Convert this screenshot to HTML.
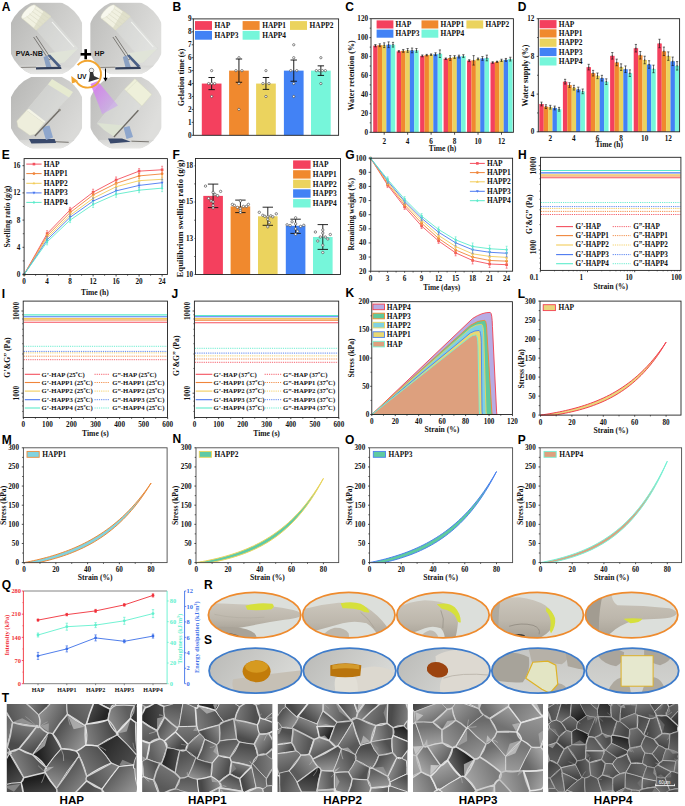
<!DOCTYPE html>
<html><head><meta charset="utf-8"><title>Figure</title>
<style>html,body{margin:0;padding:0;background:#fff;}body{width:685px;height:806px;overflow:hidden;}svg{display:block;}</style>
</head><body>
<svg width="685" height="806" viewBox="0 0 685 806" font-family="'Liberation Serif', serif">
<rect width="685" height="806" fill="#fff"/>
<text x="1.8" y="11.2" font-family="'Liberation Sans', sans-serif" font-size="12" font-weight="bold" text-anchor="start" fill="#000">A</text>
<defs><linearGradient id="bgA0" x1="0" y1="0" x2="1" y2="0.6"><stop offset="0" stop-color="#b6b6b4"/><stop offset="0.55" stop-color="#cbcbc9"/><stop offset="1" stop-color="#dadad8"/></linearGradient><linearGradient id="bgA1" x1="0" y1="0" x2="1" y2="0.4"><stop offset="0" stop-color="#bcbcba"/><stop offset="0.55" stop-color="#cfcfcd"/><stop offset="1" stop-color="#dededc"/></linearGradient><linearGradient id="floorA" x1="0" y1="0" x2="0" y2="1"><stop offset="0" stop-color="#d6d6d4"/><stop offset="1" stop-color="#e8e8e6"/></linearGradient><linearGradient id="beam" x1="0" y1="0" x2="1" y2="1"><stop offset="0" stop-color="#d870f0"/><stop offset="1" stop-color="#c8b0f0" stop-opacity="0.6"/></linearGradient></defs>
<clipPath id="pc0a"><circle cx="46.55" cy="38.4" r="38.86"/></clipPath>
<clipPath id="pc0b"><rect x="10.9" y="2.6" width="71.3" height="71.6"/></clipPath>
<g clip-path="url(#pc0b)"><g clip-path="url(#pc0a)">
<rect x="10.9" y="2.6" width="71.3" height="71.6" fill="url(#bgA0)"/>
<rect x="10.9" y="65.61" width="71.3" height="8.59" fill="url(#floorA)"/>
<path d="M14 67.5 L36 67.2" stroke="#6d6a64" stroke-width="0.8"/>
<path d="M35.4 28.6 L50 16.4 L78.5 48.5 L64 62.5 Z" fill="#eceeea" fill-opacity="0.3" stroke="#d8dad5" stroke-width="0.6"/>
<path d="M52 22 L74 47" stroke="#f4f5f2" stroke-width="1.1" fill="none"/>
<path d="M46.5 53.5 L77 49.2 L64 62.5 L55 64 Z" fill="#e0e4d8"/>
<path d="M33.6 37 L49 60 L51 58.6 L36 36" stroke="#66635e" stroke-width="0.8" fill="none"/>
<path d="M43.5 57 L47.5 55.5 L51.5 67 L46.5 68.5 Z" fill="#8aa0c2"/>
<path d="M47.5 55.5 L50 54.5 L61 66 L58.5 67.5 Z" fill="#4a5f86"/>
<path d="M36 67.3 L61 66.8 L61.5 69 L36 69.5 Z" fill="#33405c"/>
<path d="M21.8 18.2 L35.2 5.2 L51.2 16.4 L36.2 30.2 Z" fill="#f1f1e1" stroke="#d2d2bc" stroke-width="0.5"/>
<ellipse cx="28.5" cy="11.7" rx="9.3" ry="3.0" fill="#f8f8ee" stroke="#dcdcc6" stroke-width="0.4" transform="rotate(-44 28.5 11.7)"/>
<path d="M26.65 16.45 L39.95 26.75" stroke="#dcdcc8" stroke-width="0.7"/>
<path d="M29.33 13.85 L42.95 23.99" stroke="#dcdcc8" stroke-width="0.7"/>
<path d="M32.01 11.25 L45.95 21.23" stroke="#dcdcc8" stroke-width="0.7"/>
<path d="M34.69 8.65 L48.95 18.47" stroke="#dcdcc8" stroke-width="0.7"/>
<path d="M44 10.5 L51.2 16.4 L36.2 30.2 L33.5 28 Z" fill="#d8d8c2" opacity="0.7"/>
</g></g>
<clipPath id="pc1a"><circle cx="125.85" cy="38.4" r="38.86"/></clipPath>
<clipPath id="pc1b"><rect x="90.2" y="2.6" width="71.3" height="71.6"/></clipPath>
<g clip-path="url(#pc1b)"><g clip-path="url(#pc1a)">
<rect x="90.2" y="2.6" width="71.3" height="71.6" fill="url(#bgA1)"/>
<rect x="90.2" y="65.61" width="71.3" height="8.59" fill="url(#floorA)"/>
<path d="M93.3 67.5 L115.3 67.2" stroke="#6d6a64" stroke-width="0.8"/>
<path d="M114.7 28.6 L129.3 16.4 L157.8 48.5 L143.3 62.5 Z" fill="#eceeea" fill-opacity="0.3" stroke="#d8dad5" stroke-width="0.6"/>
<path d="M131.3 22 L153.3 47" stroke="#f4f5f2" stroke-width="1.1" fill="none"/>
<path d="M125.8 53.5 L156.3 49.2 L143.3 62.5 L134.3 64 Z" fill="#e0e4d8"/>
<path d="M112.9 37 L128.3 60 L130.3 58.6 L115.3 36" stroke="#66635e" stroke-width="0.8" fill="none"/>
<path d="M122.8 57 L126.8 55.5 L130.8 67 L125.8 68.5 Z" fill="#8aa0c2"/>
<path d="M126.8 55.5 L129.3 54.5 L140.3 66 L137.8 67.5 Z" fill="#4a5f86"/>
<path d="M115.3 67.3 L140.3 66.8 L140.8 69 L115.3 69.5 Z" fill="#33405c"/>
<path d="M101.1 18.2 L114.5 5.2 L130.5 16.4 L115.5 30.2 Z" fill="#f1f1e1" stroke="#d2d2bc" stroke-width="0.5"/>
<ellipse cx="107.8" cy="11.7" rx="9.3" ry="3.0" fill="#f8f8ee" stroke="#dcdcc6" stroke-width="0.4" transform="rotate(-44 107.8 11.7)"/>
<path d="M105.95 16.45 L119.25 26.75" stroke="#dcdcc8" stroke-width="0.7"/>
<path d="M108.63 13.85 L122.25 23.99" stroke="#dcdcc8" stroke-width="0.7"/>
<path d="M111.31 11.25 L125.25 21.23" stroke="#dcdcc8" stroke-width="0.7"/>
<path d="M113.99 8.65 L128.25 18.47" stroke="#dcdcc8" stroke-width="0.7"/>
<path d="M123.3 10.5 L130.5 16.4 L115.5 30.2 L112.8 28 Z" fill="#d8d8c2" opacity="0.7"/>
</g></g>
<clipPath id="pc2a"><circle cx="46.55" cy="112.7" r="38.86"/></clipPath>
<clipPath id="pc2b"><rect x="10.9" y="76.9" width="71.3" height="71.6"/></clipPath>
<g clip-path="url(#pc2b)"><g clip-path="url(#pc2a)">
<rect x="10.9" y="76.9" width="71.3" height="71.6" fill="url(#bgA0)"/>
<rect x="10.9" y="139.91" width="71.3" height="8.59" fill="url(#floorA)"/>
<path d="M54.7 141.7 L68.7 142.3" stroke="#6d6a64" stroke-width="0.9"/>
<path d="M26.7 110.2 L50 82.2 L71 95 L44.2 123 Z" fill="#eceeea" fill-opacity="0.3" stroke="#d6d8d3" stroke-width="0.6"/>
<path d="M48 84.5 L52 79 L73 92 L69 97.5 Z" fill="#e6ead0"/>
<path d="M29 139 L54.7 139 L56 143 L31.4 143.5 Z" fill="#3a4a6c"/>
<path d="M42 127 L49.5 125.5 L53 137.5 L46 140 Z" fill="#8ea6cc"/>
<path d="M16.8 121 L26.7 110.2 L44.2 123 L35.5 134 L30 135.5 L18 127 Z" fill="#eeeedc" stroke="#d6d6c2" stroke-width="0.5"/>
<path d="M26.7 110.2 L29 108.8 L45.5 121.5 L44.2 123 Z" fill="#f4f4e6"/>
<path d="M34.9 135.9 L59.4 110.2" stroke="#6f6c66" stroke-width="1.4"/>
<circle cx="59.6" cy="110" r="1.2" fill="#8a8780"/>
</g></g>
<clipPath id="pc3a"><circle cx="125.95" cy="112.7" r="38.86"/></clipPath>
<clipPath id="pc3b"><rect x="90.3" y="76.9" width="71.3" height="71.6"/></clipPath>
<g clip-path="url(#pc3b)"><g clip-path="url(#pc3a)">
<rect x="90.3" y="76.9" width="71.3" height="71.6" fill="url(#bgA1)"/>
<rect x="90.3" y="139.91" width="71.3" height="8.59" fill="url(#floorA)"/>
<path d="M131.4 141.2 L148.9 141.8" stroke="#6d6a64" stroke-width="0.9"/>
<path d="M124.4 89.2 L141.9 106.1 L113.9 136.5 L96.9 123.6 Z" fill="#eceeea" fill-opacity="0.3" stroke="#d6d8d3" stroke-width="0.6"/>
<path d="M97.5 123 L124.4 125.4 L114 136.5 L104 130 Z" fill="#dde3d3"/>
<path d="M108 138.5 L122 138.5 L131 141.8 L110.4 143.5 Z" fill="#3a4a6c"/>
<path d="M123.5 127.5 L129.5 126 L133 137 L126.5 139 Z" fill="#8ea6cc"/>
<path d="M113.9 137 L138.4 110.2" stroke="#6f6c66" stroke-width="1.3"/>
<path d="M124.4 89.2 L134.9 78.7 L151.8 94.4 L141.9 106.1 Z" fill="#eef0da" stroke="#d6d8c0" stroke-width="0.5"/>
<path d="M126.5 91 L137 80.8" stroke="#d8dac4" stroke-width="0.5" fill="none"/>
</g></g>
<path d="M90.5 83.9 L97.5 81 L118 105.5 L102.2 114.3 Z" fill="url(#beam)" opacity="0.9"/>
<text x="15.8" y="56.2" font-family="'Liberation Sans', sans-serif" font-size="7.2" font-weight="bold" text-anchor="start" fill="#111">PVA-NB</text>
<rect x="80.6" y="53" width="10.5" height="2.6" fill="#000"/>
<rect x="84.4" y="49.2" width="2.6" height="10.1" fill="#000"/>
<text x="94.6" y="56.3" font-family="'Liberation Sans', sans-serif" font-size="7" font-weight="bold" text-anchor="start" fill="#111">HP</text>
<path d="M77.64 65.23 A13.4 13.4 0 1 1 76.49 81.69" fill="none" stroke="#F2A530" stroke-width="1.9"/>
<path d="M71.3 76.0 L71.9 83.6 L78.2 81.2 Z" fill="#F2A530"/>
<text x="77.2" y="79.4" font-family="'Liberation Sans', sans-serif" font-size="6.8" font-weight="bold" text-anchor="start" fill="#111">UV</text>
<circle cx="91.5" cy="70.5" r="2.3" fill="#eee" stroke="#555" stroke-width="0.6"/>
<path d="M90 72 L93 72 L94 76 L99.5 78.5 L88.5 82 L89.5 77 Z" fill="#333"/>
<line x1="105.5" y1="68.5" x2="105.5" y2="79.5" stroke="#000" stroke-width="1"/>
<path d="M103.3 77.8 L107.7 77.8 L105.5 81.5 Z" fill="#000"/>
<text x="172.4" y="11.2" font-family="'Liberation Sans', sans-serif" font-size="12" font-weight="bold" text-anchor="start" fill="#000">B</text>
<rect x="201.8" y="83.57" width="19.7" height="51.73" fill="#F4405E"/>
<rect x="229.1" y="70.63" width="19.7" height="64.67" fill="#F0892E"/>
<rect x="256.1" y="83.57" width="19.7" height="51.73" fill="#EBD35E"/>
<rect x="283.9" y="70.63" width="19.7" height="64.67" fill="#4282F5"/>
<rect x="311" y="70.63" width="19.7" height="64.67" fill="#76F6DA"/>
<line x1="211.65" y1="77.49" x2="211.65" y2="89.65" stroke="#111" stroke-width="0.95"/>
<line x1="208.45" y1="77.49" x2="214.85" y2="77.49" stroke="#111" stroke-width="0.95"/>
<line x1="208.45" y1="89.65" x2="214.85" y2="89.65" stroke="#111" stroke-width="0.95"/>
<circle cx="211.65" cy="70.63" r="1.15" fill="#fff" stroke="#3a3a3a" stroke-width="0.6"/>
<circle cx="208.65" cy="83.57" r="1.15" fill="#fff" stroke="#3a3a3a" stroke-width="0.6"/>
<circle cx="214.65" cy="83.57" r="1.15" fill="#fff" stroke="#3a3a3a" stroke-width="0.6"/>
<circle cx="211.65" cy="96.5" r="1.15" fill="#fff" stroke="#3a3a3a" stroke-width="0.6"/>
<circle cx="211.65" cy="83.57" r="1.15" fill="#fff" stroke="#3a3a3a" stroke-width="0.6"/>
<line x1="238.95" y1="58.99" x2="238.95" y2="82.27" stroke="#111" stroke-width="0.95"/>
<line x1="235.75" y1="58.99" x2="242.15" y2="58.99" stroke="#111" stroke-width="0.95"/>
<line x1="235.75" y1="82.27" x2="242.15" y2="82.27" stroke="#111" stroke-width="0.95"/>
<circle cx="235.95" cy="70.63" r="1.15" fill="#fff" stroke="#3a3a3a" stroke-width="0.6"/>
<circle cx="241.95" cy="70.63" r="1.15" fill="#fff" stroke="#3a3a3a" stroke-width="0.6"/>
<circle cx="238.95" cy="57.7" r="1.15" fill="#fff" stroke="#3a3a3a" stroke-width="0.6"/>
<circle cx="238.95" cy="83.57" r="1.15" fill="#fff" stroke="#3a3a3a" stroke-width="0.6"/>
<circle cx="238.95" cy="109.43" r="1.15" fill="#fff" stroke="#3a3a3a" stroke-width="0.6"/>
<line x1="265.95" y1="77.49" x2="265.95" y2="89.39" stroke="#111" stroke-width="0.95"/>
<line x1="262.75" y1="77.49" x2="269.15" y2="77.49" stroke="#111" stroke-width="0.95"/>
<line x1="262.75" y1="89.39" x2="269.15" y2="89.39" stroke="#111" stroke-width="0.95"/>
<circle cx="265.95" cy="70.63" r="1.15" fill="#fff" stroke="#3a3a3a" stroke-width="0.6"/>
<circle cx="262.95" cy="83.57" r="1.15" fill="#fff" stroke="#3a3a3a" stroke-width="0.6"/>
<circle cx="268.95" cy="83.57" r="1.15" fill="#fff" stroke="#3a3a3a" stroke-width="0.6"/>
<circle cx="265.95" cy="96.5" r="1.15" fill="#fff" stroke="#3a3a3a" stroke-width="0.6"/>
<line x1="293.75" y1="60.03" x2="293.75" y2="81.24" stroke="#111" stroke-width="0.95"/>
<line x1="290.55" y1="60.03" x2="296.95" y2="60.03" stroke="#111" stroke-width="0.95"/>
<line x1="290.55" y1="81.24" x2="296.95" y2="81.24" stroke="#111" stroke-width="0.95"/>
<circle cx="293.75" cy="44.77" r="1.15" fill="#fff" stroke="#3a3a3a" stroke-width="0.6"/>
<circle cx="293.75" cy="57.7" r="1.15" fill="#fff" stroke="#3a3a3a" stroke-width="0.6"/>
<circle cx="290.75" cy="70.63" r="1.15" fill="#fff" stroke="#3a3a3a" stroke-width="0.6"/>
<circle cx="296.75" cy="70.63" r="1.15" fill="#fff" stroke="#3a3a3a" stroke-width="0.6"/>
<circle cx="293.75" cy="83.57" r="1.15" fill="#fff" stroke="#3a3a3a" stroke-width="0.6"/>
<circle cx="293.75" cy="96.5" r="1.15" fill="#fff" stroke="#3a3a3a" stroke-width="0.6"/>
<line x1="320.85" y1="65.85" x2="320.85" y2="75.42" stroke="#111" stroke-width="0.95"/>
<line x1="317.65" y1="65.85" x2="324.05" y2="65.85" stroke="#111" stroke-width="0.95"/>
<line x1="317.65" y1="75.42" x2="324.05" y2="75.42" stroke="#111" stroke-width="0.95"/>
<circle cx="320.85" cy="57.7" r="1.15" fill="#fff" stroke="#3a3a3a" stroke-width="0.6"/>
<circle cx="316.35" cy="70.63" r="1.15" fill="#fff" stroke="#3a3a3a" stroke-width="0.6"/>
<circle cx="319.35" cy="70.63" r="1.15" fill="#fff" stroke="#3a3a3a" stroke-width="0.6"/>
<circle cx="322.35" cy="70.63" r="1.15" fill="#fff" stroke="#3a3a3a" stroke-width="0.6"/>
<circle cx="325.35" cy="70.63" r="1.15" fill="#fff" stroke="#3a3a3a" stroke-width="0.6"/>
<circle cx="320.85" cy="83.57" r="1.15" fill="#fff" stroke="#3a3a3a" stroke-width="0.6"/>
<rect x="193.3" y="18.9" width="145.3" height="116.4" fill="none" stroke="#222" stroke-width="0.9"/>
<line x1="191.7" y1="135.3" x2="193.3" y2="135.3" stroke="#222" stroke-width="0.8"/>
<text x="191.65" y="137.75" font-family="'Liberation Serif', serif" font-size="7.2" font-weight="bold" text-anchor="end" fill="#111">0</text>
<line x1="191.7" y1="122.37" x2="193.3" y2="122.37" stroke="#222" stroke-width="0.8"/>
<text x="191.65" y="124.81" font-family="'Liberation Serif', serif" font-size="7.2" font-weight="bold" text-anchor="end" fill="#111">1</text>
<line x1="191.7" y1="109.43" x2="193.3" y2="109.43" stroke="#222" stroke-width="0.8"/>
<text x="191.65" y="111.88" font-family="'Liberation Serif', serif" font-size="7.2" font-weight="bold" text-anchor="end" fill="#111">2</text>
<line x1="191.7" y1="96.5" x2="193.3" y2="96.5" stroke="#222" stroke-width="0.8"/>
<text x="191.65" y="98.95" font-family="'Liberation Serif', serif" font-size="7.2" font-weight="bold" text-anchor="end" fill="#111">3</text>
<line x1="191.7" y1="83.57" x2="193.3" y2="83.57" stroke="#222" stroke-width="0.8"/>
<text x="191.65" y="86.01" font-family="'Liberation Serif', serif" font-size="7.2" font-weight="bold" text-anchor="end" fill="#111">4</text>
<line x1="191.7" y1="70.63" x2="193.3" y2="70.63" stroke="#222" stroke-width="0.8"/>
<text x="191.65" y="73.08" font-family="'Liberation Serif', serif" font-size="7.2" font-weight="bold" text-anchor="end" fill="#111">5</text>
<line x1="191.7" y1="57.7" x2="193.3" y2="57.7" stroke="#222" stroke-width="0.8"/>
<text x="191.65" y="60.15" font-family="'Liberation Serif', serif" font-size="7.2" font-weight="bold" text-anchor="end" fill="#111">6</text>
<line x1="191.7" y1="44.77" x2="193.3" y2="44.77" stroke="#222" stroke-width="0.8"/>
<text x="191.65" y="47.21" font-family="'Liberation Serif', serif" font-size="7.2" font-weight="bold" text-anchor="end" fill="#111">7</text>
<line x1="191.7" y1="31.83" x2="193.3" y2="31.83" stroke="#222" stroke-width="0.8"/>
<text x="191.65" y="34.28" font-family="'Liberation Serif', serif" font-size="7.2" font-weight="bold" text-anchor="end" fill="#111">8</text>
<line x1="191.7" y1="18.9" x2="193.3" y2="18.9" stroke="#222" stroke-width="0.8"/>
<text x="191.65" y="21.35" font-family="'Liberation Serif', serif" font-size="7.2" font-weight="bold" text-anchor="end" fill="#111">9</text>
<rect x="195" y="21.1" width="17" height="8.8" fill="#F4405E"/>
<text x="214.6" y="28.1" font-family="'Liberation Serif', serif" font-size="7.4" font-weight="bold" text-anchor="start" fill="#111">HAP</text>
<rect x="242.6" y="21.1" width="17" height="8.8" fill="#F0892E"/>
<text x="262.2" y="28.1" font-family="'Liberation Serif', serif" font-size="7.4" font-weight="bold" text-anchor="start" fill="#111">HAPP1</text>
<rect x="290" y="21.1" width="17" height="8.8" fill="#EBD35E"/>
<text x="309.6" y="28.1" font-family="'Liberation Serif', serif" font-size="7.4" font-weight="bold" text-anchor="start" fill="#111">HAPP2</text>
<rect x="195" y="30.9" width="17" height="8.8" fill="#4282F5"/>
<text x="214.6" y="37.9" font-family="'Liberation Serif', serif" font-size="7.4" font-weight="bold" text-anchor="start" fill="#111">HAPP3</text>
<rect x="242.6" y="30.9" width="17" height="8.8" fill="#76F6DA"/>
<text x="262.2" y="37.9" font-family="'Liberation Serif', serif" font-size="7.4" font-weight="bold" text-anchor="start" fill="#111">HAPP4</text>
<text x="184.3" y="77.4" font-family="'Liberation Serif', serif" font-size="8.1" font-weight="bold" text-anchor="middle" fill="#111" transform="rotate(-90 184.3 77.4)">Gelation time (s)</text>
<text x="345.2" y="11.1" font-family="'Liberation Sans', sans-serif" font-size="12" font-weight="bold" text-anchor="start" fill="#000">C</text>
<rect x="373.2" y="45.68" width="4.45" height="86.62" fill="#F4405E"/>
<rect x="377.6" y="45.21" width="4.45" height="87.09" fill="#F0892E"/>
<rect x="382" y="45.21" width="4.45" height="87.09" fill="#EBD35E"/>
<rect x="386.4" y="44.73" width="4.45" height="87.57" fill="#4282F5"/>
<rect x="390.8" y="44.73" width="4.45" height="87.57" fill="#76F6DA"/>
<rect x="396.66" y="51.36" width="4.45" height="80.94" fill="#F4405E"/>
<rect x="401.06" y="50.89" width="4.45" height="81.41" fill="#F0892E"/>
<rect x="405.46" y="50.41" width="4.45" height="81.89" fill="#EBD35E"/>
<rect x="409.86" y="50.41" width="4.45" height="81.89" fill="#4282F5"/>
<rect x="414.26" y="50.41" width="4.45" height="81.89" fill="#76F6DA"/>
<rect x="420.12" y="55.9" width="4.45" height="76.4" fill="#F4405E"/>
<rect x="424.52" y="55.15" width="4.45" height="77.15" fill="#F0892E"/>
<rect x="428.92" y="54.67" width="4.45" height="77.63" fill="#EBD35E"/>
<rect x="433.32" y="54.2" width="4.45" height="78.1" fill="#4282F5"/>
<rect x="437.72" y="53.73" width="4.45" height="78.57" fill="#76F6DA"/>
<rect x="443.58" y="58.74" width="4.45" height="73.56" fill="#F4405E"/>
<rect x="447.98" y="57.99" width="4.45" height="74.31" fill="#F0892E"/>
<rect x="452.38" y="57.04" width="4.45" height="75.26" fill="#EBD35E"/>
<rect x="456.78" y="56.57" width="4.45" height="75.73" fill="#4282F5"/>
<rect x="461.18" y="56.09" width="4.45" height="76.21" fill="#76F6DA"/>
<rect x="467.04" y="60.64" width="4.45" height="71.66" fill="#F4405E"/>
<rect x="471.44" y="60.35" width="4.45" height="71.95" fill="#F0892E"/>
<rect x="475.84" y="58.93" width="4.45" height="73.37" fill="#EBD35E"/>
<rect x="480.24" y="58.46" width="4.45" height="73.84" fill="#4282F5"/>
<rect x="484.64" y="57.99" width="4.45" height="74.31" fill="#76F6DA"/>
<rect x="490.5" y="62.53" width="4.45" height="69.77" fill="#F4405E"/>
<rect x="494.9" y="61.77" width="4.45" height="70.53" fill="#F0892E"/>
<rect x="499.3" y="60.35" width="4.45" height="71.95" fill="#EBD35E"/>
<rect x="503.7" y="59.88" width="4.45" height="72.42" fill="#4282F5"/>
<rect x="508.1" y="59.12" width="4.45" height="73.18" fill="#76F6DA"/>
<line x1="375.4" y1="44.54" x2="375.4" y2="46.82" stroke="#111" stroke-width="0.6"/>
<line x1="374.3" y1="44.54" x2="376.5" y2="44.54" stroke="#111" stroke-width="0.6"/>
<line x1="374.3" y1="46.82" x2="376.5" y2="46.82" stroke="#111" stroke-width="0.6"/>
<circle cx="375.4" cy="45.68" r="0.7" fill="#333"/>
<line x1="379.8" y1="43.79" x2="379.8" y2="46.63" stroke="#111" stroke-width="0.6"/>
<line x1="378.7" y1="43.79" x2="380.9" y2="43.79" stroke="#111" stroke-width="0.6"/>
<line x1="378.7" y1="46.63" x2="380.9" y2="46.63" stroke="#111" stroke-width="0.6"/>
<circle cx="379.8" cy="45.21" r="0.7" fill="#333"/>
<line x1="384.2" y1="42.84" x2="384.2" y2="47.57" stroke="#111" stroke-width="0.6"/>
<line x1="383.1" y1="42.84" x2="385.3" y2="42.84" stroke="#111" stroke-width="0.6"/>
<line x1="383.1" y1="47.57" x2="385.3" y2="47.57" stroke="#111" stroke-width="0.6"/>
<circle cx="384.2" cy="45.21" r="0.7" fill="#333"/>
<line x1="388.6" y1="41.89" x2="388.6" y2="47.57" stroke="#111" stroke-width="0.6"/>
<line x1="387.5" y1="41.89" x2="389.7" y2="41.89" stroke="#111" stroke-width="0.6"/>
<line x1="387.5" y1="47.57" x2="389.7" y2="47.57" stroke="#111" stroke-width="0.6"/>
<circle cx="388.6" cy="44.73" r="0.7" fill="#333"/>
<line x1="393" y1="42.37" x2="393" y2="47.1" stroke="#111" stroke-width="0.6"/>
<line x1="391.9" y1="42.37" x2="394.1" y2="42.37" stroke="#111" stroke-width="0.6"/>
<line x1="391.9" y1="47.1" x2="394.1" y2="47.1" stroke="#111" stroke-width="0.6"/>
<circle cx="393" cy="44.73" r="0.7" fill="#333"/>
<line x1="398.86" y1="50.6" x2="398.86" y2="52.12" stroke="#111" stroke-width="0.6"/>
<line x1="397.76" y1="50.6" x2="399.96" y2="50.6" stroke="#111" stroke-width="0.6"/>
<line x1="397.76" y1="52.12" x2="399.96" y2="52.12" stroke="#111" stroke-width="0.6"/>
<circle cx="398.86" cy="51.36" r="0.7" fill="#333"/>
<line x1="403.26" y1="49.47" x2="403.26" y2="52.31" stroke="#111" stroke-width="0.6"/>
<line x1="402.16" y1="49.47" x2="404.36" y2="49.47" stroke="#111" stroke-width="0.6"/>
<line x1="402.16" y1="52.31" x2="404.36" y2="52.31" stroke="#111" stroke-width="0.6"/>
<circle cx="403.26" cy="50.89" r="0.7" fill="#333"/>
<line x1="407.66" y1="48.52" x2="407.66" y2="52.31" stroke="#111" stroke-width="0.6"/>
<line x1="406.56" y1="48.52" x2="408.76" y2="48.52" stroke="#111" stroke-width="0.6"/>
<line x1="406.56" y1="52.31" x2="408.76" y2="52.31" stroke="#111" stroke-width="0.6"/>
<circle cx="407.66" cy="50.41" r="0.7" fill="#333"/>
<line x1="412.06" y1="48.05" x2="412.06" y2="52.78" stroke="#111" stroke-width="0.6"/>
<line x1="410.96" y1="48.05" x2="413.16" y2="48.05" stroke="#111" stroke-width="0.6"/>
<line x1="410.96" y1="52.78" x2="413.16" y2="52.78" stroke="#111" stroke-width="0.6"/>
<circle cx="412.06" cy="50.41" r="0.7" fill="#333"/>
<line x1="416.46" y1="48.52" x2="416.46" y2="52.31" stroke="#111" stroke-width="0.6"/>
<line x1="415.36" y1="48.52" x2="417.56" y2="48.52" stroke="#111" stroke-width="0.6"/>
<line x1="415.36" y1="52.31" x2="417.56" y2="52.31" stroke="#111" stroke-width="0.6"/>
<circle cx="416.46" cy="50.41" r="0.7" fill="#333"/>
<line x1="422.32" y1="54.96" x2="422.32" y2="56.85" stroke="#111" stroke-width="0.6"/>
<line x1="421.22" y1="54.96" x2="423.42" y2="54.96" stroke="#111" stroke-width="0.6"/>
<line x1="421.22" y1="56.85" x2="423.42" y2="56.85" stroke="#111" stroke-width="0.6"/>
<circle cx="422.32" cy="55.9" r="0.7" fill="#333"/>
<line x1="426.72" y1="54.39" x2="426.72" y2="55.9" stroke="#111" stroke-width="0.6"/>
<line x1="425.62" y1="54.39" x2="427.82" y2="54.39" stroke="#111" stroke-width="0.6"/>
<line x1="425.62" y1="55.9" x2="427.82" y2="55.9" stroke="#111" stroke-width="0.6"/>
<circle cx="426.72" cy="55.15" r="0.7" fill="#333"/>
<line x1="431.12" y1="53.92" x2="431.12" y2="55.43" stroke="#111" stroke-width="0.6"/>
<line x1="430.02" y1="53.92" x2="432.22" y2="53.92" stroke="#111" stroke-width="0.6"/>
<line x1="430.02" y1="55.43" x2="432.22" y2="55.43" stroke="#111" stroke-width="0.6"/>
<circle cx="431.12" cy="54.67" r="0.7" fill="#333"/>
<line x1="435.52" y1="52.78" x2="435.52" y2="55.62" stroke="#111" stroke-width="0.6"/>
<line x1="434.42" y1="52.78" x2="436.62" y2="52.78" stroke="#111" stroke-width="0.6"/>
<line x1="434.42" y1="55.62" x2="436.62" y2="55.62" stroke="#111" stroke-width="0.6"/>
<circle cx="435.52" cy="54.2" r="0.7" fill="#333"/>
<line x1="439.92" y1="49.94" x2="439.92" y2="57.51" stroke="#111" stroke-width="0.6"/>
<line x1="438.82" y1="49.94" x2="441.02" y2="49.94" stroke="#111" stroke-width="0.6"/>
<line x1="438.82" y1="57.51" x2="441.02" y2="57.51" stroke="#111" stroke-width="0.6"/>
<circle cx="439.92" cy="53.73" r="0.7" fill="#333"/>
<line x1="445.78" y1="57.99" x2="445.78" y2="59.5" stroke="#111" stroke-width="0.6"/>
<line x1="444.68" y1="57.99" x2="446.88" y2="57.99" stroke="#111" stroke-width="0.6"/>
<line x1="444.68" y1="59.5" x2="446.88" y2="59.5" stroke="#111" stroke-width="0.6"/>
<circle cx="445.78" cy="58.74" r="0.7" fill="#333"/>
<line x1="450.18" y1="55.62" x2="450.18" y2="60.35" stroke="#111" stroke-width="0.6"/>
<line x1="449.08" y1="55.62" x2="451.28" y2="55.62" stroke="#111" stroke-width="0.6"/>
<line x1="449.08" y1="60.35" x2="451.28" y2="60.35" stroke="#111" stroke-width="0.6"/>
<circle cx="450.18" cy="57.99" r="0.7" fill="#333"/>
<line x1="454.58" y1="55.62" x2="454.58" y2="58.46" stroke="#111" stroke-width="0.6"/>
<line x1="453.48" y1="55.62" x2="455.68" y2="55.62" stroke="#111" stroke-width="0.6"/>
<line x1="453.48" y1="58.46" x2="455.68" y2="58.46" stroke="#111" stroke-width="0.6"/>
<circle cx="454.58" cy="57.04" r="0.7" fill="#333"/>
<line x1="458.98" y1="55.15" x2="458.98" y2="57.99" stroke="#111" stroke-width="0.6"/>
<line x1="457.88" y1="55.15" x2="460.08" y2="55.15" stroke="#111" stroke-width="0.6"/>
<line x1="457.88" y1="57.99" x2="460.08" y2="57.99" stroke="#111" stroke-width="0.6"/>
<circle cx="458.98" cy="56.57" r="0.7" fill="#333"/>
<line x1="463.38" y1="54.67" x2="463.38" y2="57.51" stroke="#111" stroke-width="0.6"/>
<line x1="462.28" y1="54.67" x2="464.48" y2="54.67" stroke="#111" stroke-width="0.6"/>
<line x1="462.28" y1="57.51" x2="464.48" y2="57.51" stroke="#111" stroke-width="0.6"/>
<circle cx="463.38" cy="56.09" r="0.7" fill="#333"/>
<line x1="469.24" y1="59.69" x2="469.24" y2="61.58" stroke="#111" stroke-width="0.6"/>
<line x1="468.14" y1="59.69" x2="470.34" y2="59.69" stroke="#111" stroke-width="0.6"/>
<line x1="468.14" y1="61.58" x2="470.34" y2="61.58" stroke="#111" stroke-width="0.6"/>
<circle cx="469.24" cy="60.64" r="0.7" fill="#333"/>
<line x1="473.64" y1="55.62" x2="473.64" y2="65.09" stroke="#111" stroke-width="0.6"/>
<line x1="472.54" y1="55.62" x2="474.74" y2="55.62" stroke="#111" stroke-width="0.6"/>
<line x1="472.54" y1="65.09" x2="474.74" y2="65.09" stroke="#111" stroke-width="0.6"/>
<circle cx="473.64" cy="60.35" r="0.7" fill="#333"/>
<line x1="478.04" y1="57.99" x2="478.04" y2="59.88" stroke="#111" stroke-width="0.6"/>
<line x1="476.94" y1="57.99" x2="479.14" y2="57.99" stroke="#111" stroke-width="0.6"/>
<line x1="476.94" y1="59.88" x2="479.14" y2="59.88" stroke="#111" stroke-width="0.6"/>
<circle cx="478.04" cy="58.93" r="0.7" fill="#333"/>
<line x1="482.44" y1="56.57" x2="482.44" y2="60.35" stroke="#111" stroke-width="0.6"/>
<line x1="481.34" y1="56.57" x2="483.54" y2="56.57" stroke="#111" stroke-width="0.6"/>
<line x1="481.34" y1="60.35" x2="483.54" y2="60.35" stroke="#111" stroke-width="0.6"/>
<circle cx="482.44" cy="58.46" r="0.7" fill="#333"/>
<line x1="486.84" y1="55.15" x2="486.84" y2="60.83" stroke="#111" stroke-width="0.6"/>
<line x1="485.74" y1="55.15" x2="487.94" y2="55.15" stroke="#111" stroke-width="0.6"/>
<line x1="485.74" y1="60.83" x2="487.94" y2="60.83" stroke="#111" stroke-width="0.6"/>
<circle cx="486.84" cy="57.99" r="0.7" fill="#333"/>
<line x1="492.7" y1="61.77" x2="492.7" y2="63.29" stroke="#111" stroke-width="0.6"/>
<line x1="491.6" y1="61.77" x2="493.8" y2="61.77" stroke="#111" stroke-width="0.6"/>
<line x1="491.6" y1="63.29" x2="493.8" y2="63.29" stroke="#111" stroke-width="0.6"/>
<circle cx="492.7" cy="62.53" r="0.7" fill="#333"/>
<line x1="497.1" y1="61.21" x2="497.1" y2="62.34" stroke="#111" stroke-width="0.6"/>
<line x1="496" y1="61.21" x2="498.2" y2="61.21" stroke="#111" stroke-width="0.6"/>
<line x1="496" y1="62.34" x2="498.2" y2="62.34" stroke="#111" stroke-width="0.6"/>
<circle cx="497.1" cy="61.77" r="0.7" fill="#333"/>
<line x1="501.5" y1="59.22" x2="501.5" y2="61.49" stroke="#111" stroke-width="0.6"/>
<line x1="500.4" y1="59.22" x2="502.6" y2="59.22" stroke="#111" stroke-width="0.6"/>
<line x1="500.4" y1="61.49" x2="502.6" y2="61.49" stroke="#111" stroke-width="0.6"/>
<circle cx="501.5" cy="60.35" r="0.7" fill="#333"/>
<line x1="505.9" y1="58.46" x2="505.9" y2="61.3" stroke="#111" stroke-width="0.6"/>
<line x1="504.8" y1="58.46" x2="507" y2="58.46" stroke="#111" stroke-width="0.6"/>
<line x1="504.8" y1="61.3" x2="507" y2="61.3" stroke="#111" stroke-width="0.6"/>
<circle cx="505.9" cy="59.88" r="0.7" fill="#333"/>
<line x1="510.3" y1="57.23" x2="510.3" y2="61.02" stroke="#111" stroke-width="0.6"/>
<line x1="509.2" y1="57.23" x2="511.4" y2="57.23" stroke="#111" stroke-width="0.6"/>
<line x1="509.2" y1="61.02" x2="511.4" y2="61.02" stroke="#111" stroke-width="0.6"/>
<circle cx="510.3" cy="59.12" r="0.7" fill="#333"/>
<rect x="371" y="18.7" width="142.4" height="113.6" fill="none" stroke="#222" stroke-width="0.9"/>
<line x1="369.4" y1="132.3" x2="371" y2="132.3" stroke="#222" stroke-width="0.8"/>
<text x="368.15" y="134.75" font-family="'Liberation Serif', serif" font-size="7.2" font-weight="bold" text-anchor="end" fill="#111">0</text>
<line x1="369.4" y1="113.37" x2="371" y2="113.37" stroke="#222" stroke-width="0.8"/>
<text x="368.15" y="115.81" font-family="'Liberation Serif', serif" font-size="7.2" font-weight="bold" text-anchor="end" fill="#111">20</text>
<line x1="369.4" y1="94.43" x2="371" y2="94.43" stroke="#222" stroke-width="0.8"/>
<text x="368.15" y="96.88" font-family="'Liberation Serif', serif" font-size="7.2" font-weight="bold" text-anchor="end" fill="#111">40</text>
<line x1="369.4" y1="75.5" x2="371" y2="75.5" stroke="#222" stroke-width="0.8"/>
<text x="368.15" y="77.95" font-family="'Liberation Serif', serif" font-size="7.2" font-weight="bold" text-anchor="end" fill="#111">60</text>
<line x1="369.4" y1="56.57" x2="371" y2="56.57" stroke="#222" stroke-width="0.8"/>
<text x="368.15" y="59.01" font-family="'Liberation Serif', serif" font-size="7.2" font-weight="bold" text-anchor="end" fill="#111">80</text>
<line x1="369.4" y1="37.63" x2="371" y2="37.63" stroke="#222" stroke-width="0.8"/>
<text x="368.15" y="40.08" font-family="'Liberation Serif', serif" font-size="7.2" font-weight="bold" text-anchor="end" fill="#111">100</text>
<line x1="369.4" y1="18.7" x2="371" y2="18.7" stroke="#222" stroke-width="0.8"/>
<text x="368.15" y="21.15" font-family="'Liberation Serif', serif" font-size="7.2" font-weight="bold" text-anchor="end" fill="#111">120</text>
<line x1="369.7" y1="122.83" x2="371" y2="122.83" stroke="#222" stroke-width="0.7"/>
<line x1="369.7" y1="103.9" x2="371" y2="103.9" stroke="#222" stroke-width="0.7"/>
<line x1="369.7" y1="84.97" x2="371" y2="84.97" stroke="#222" stroke-width="0.7"/>
<line x1="369.7" y1="66.03" x2="371" y2="66.03" stroke="#222" stroke-width="0.7"/>
<line x1="369.7" y1="47.1" x2="371" y2="47.1" stroke="#222" stroke-width="0.7"/>
<line x1="369.7" y1="28.17" x2="371" y2="28.17" stroke="#222" stroke-width="0.7"/>
<line x1="384.2" y1="132.3" x2="384.2" y2="134.7" stroke="#222" stroke-width="0.8"/>
<text x="384.2" y="144.4" font-family="'Liberation Serif', serif" font-size="7.2" font-weight="bold" text-anchor="middle" fill="#111">2</text>
<line x1="407.66" y1="132.3" x2="407.66" y2="134.7" stroke="#222" stroke-width="0.8"/>
<text x="407.66" y="144.4" font-family="'Liberation Serif', serif" font-size="7.2" font-weight="bold" text-anchor="middle" fill="#111">4</text>
<line x1="431.12" y1="132.3" x2="431.12" y2="134.7" stroke="#222" stroke-width="0.8"/>
<text x="431.12" y="144.4" font-family="'Liberation Serif', serif" font-size="7.2" font-weight="bold" text-anchor="middle" fill="#111">6</text>
<line x1="454.58" y1="132.3" x2="454.58" y2="134.7" stroke="#222" stroke-width="0.8"/>
<text x="454.58" y="144.4" font-family="'Liberation Serif', serif" font-size="7.2" font-weight="bold" text-anchor="middle" fill="#111">8</text>
<line x1="478.04" y1="132.3" x2="478.04" y2="134.7" stroke="#222" stroke-width="0.8"/>
<text x="478.04" y="144.4" font-family="'Liberation Serif', serif" font-size="7.2" font-weight="bold" text-anchor="middle" fill="#111">10</text>
<line x1="501.5" y1="132.3" x2="501.5" y2="134.7" stroke="#222" stroke-width="0.8"/>
<text x="501.5" y="144.4" font-family="'Liberation Serif', serif" font-size="7.2" font-weight="bold" text-anchor="middle" fill="#111">12</text>
<rect x="376.6" y="20.4" width="16.8" height="8.1" fill="#F4405E"/>
<text x="395.6" y="27" font-family="'Liberation Serif', serif" font-size="7.4" font-weight="bold" text-anchor="start" fill="#111">HAP</text>
<rect x="421.5" y="20.4" width="16.8" height="8.1" fill="#F0892E"/>
<text x="440.5" y="27" font-family="'Liberation Serif', serif" font-size="7.4" font-weight="bold" text-anchor="start" fill="#111">HAPP1</text>
<rect x="466.4" y="20.4" width="16.8" height="8.1" fill="#EBD35E"/>
<text x="485.4" y="27" font-family="'Liberation Serif', serif" font-size="7.4" font-weight="bold" text-anchor="start" fill="#111">HAPP2</text>
<rect x="376.6" y="29.6" width="16.8" height="8.1" fill="#4282F5"/>
<text x="395.6" y="36.2" font-family="'Liberation Serif', serif" font-size="7.4" font-weight="bold" text-anchor="start" fill="#111">HAPP3</text>
<rect x="421.5" y="29.6" width="16.8" height="8.1" fill="#76F6DA"/>
<text x="440.5" y="36.2" font-family="'Liberation Serif', serif" font-size="7.4" font-weight="bold" text-anchor="start" fill="#111">HAPP4</text>
<text x="442.6" y="150.6" font-family="'Liberation Serif', serif" font-size="7.5" font-weight="bold" text-anchor="middle" fill="#111">Time (h)</text>
<text x="354.1" y="75.4" font-family="'Liberation Serif', serif" font-size="8.1" font-weight="bold" text-anchor="middle" fill="#111" transform="rotate(-90 354.1 75.4)">Water retention (%)</text>
<text x="517.8" y="11.1" font-family="'Liberation Sans', sans-serif" font-size="12" font-weight="bold" text-anchor="start" fill="#000">D</text>
<rect x="539.3" y="104" width="4.45" height="27.8" fill="#F4405E"/>
<rect x="543.7" y="106.64" width="4.45" height="25.16" fill="#F0892E"/>
<rect x="548.1" y="107.2" width="4.45" height="24.6" fill="#EBD35E"/>
<rect x="552.5" y="107.95" width="4.45" height="23.85" fill="#4282F5"/>
<rect x="556.9" y="109.27" width="4.45" height="22.53" fill="#76F6DA"/>
<rect x="562.9" y="81.66" width="4.45" height="50.14" fill="#F4405E"/>
<rect x="567.3" y="85.05" width="4.45" height="46.75" fill="#F0892E"/>
<rect x="571.7" y="87.69" width="4.45" height="44.11" fill="#EBD35E"/>
<rect x="576.1" y="89.48" width="4.45" height="42.32" fill="#4282F5"/>
<rect x="580.5" y="91.37" width="4.45" height="40.43" fill="#76F6DA"/>
<rect x="586.5" y="67.14" width="4.45" height="64.66" fill="#F4405E"/>
<rect x="590.9" y="73.18" width="4.45" height="58.62" fill="#F0892E"/>
<rect x="595.3" y="75.82" width="4.45" height="55.98" fill="#EBD35E"/>
<rect x="599.7" y="78.17" width="4.45" height="53.63" fill="#4282F5"/>
<rect x="604.1" y="81.66" width="4.45" height="50.14" fill="#76F6DA"/>
<rect x="610.1" y="55.83" width="4.45" height="75.97" fill="#F4405E"/>
<rect x="614.5" y="62.43" width="4.45" height="69.37" fill="#F0892E"/>
<rect x="618.9" y="67.14" width="4.45" height="64.66" fill="#EBD35E"/>
<rect x="623.3" y="69.22" width="4.45" height="62.58" fill="#4282F5"/>
<rect x="627.7" y="73.18" width="4.45" height="58.62" fill="#76F6DA"/>
<rect x="633.7" y="48.2" width="4.45" height="83.6" fill="#F4405E"/>
<rect x="638.1" y="55.27" width="4.45" height="76.53" fill="#F0892E"/>
<rect x="642.5" y="59.98" width="4.45" height="71.82" fill="#EBD35E"/>
<rect x="646.9" y="64.51" width="4.45" height="67.29" fill="#4282F5"/>
<rect x="651.3" y="68.94" width="4.45" height="62.86" fill="#76F6DA"/>
<rect x="657.3" y="43.49" width="4.45" height="88.31" fill="#F4405E"/>
<rect x="661.7" y="51.31" width="4.45" height="80.49" fill="#F0892E"/>
<rect x="666.1" y="56.12" width="4.45" height="75.68" fill="#EBD35E"/>
<rect x="670.5" y="61.3" width="4.45" height="70.5" fill="#4282F5"/>
<rect x="674.9" y="65.83" width="4.45" height="65.98" fill="#76F6DA"/>
<line x1="541.5" y1="102.11" x2="541.5" y2="105.88" stroke="#111" stroke-width="0.6"/>
<line x1="540.4" y1="102.11" x2="542.6" y2="102.11" stroke="#111" stroke-width="0.6"/>
<line x1="540.4" y1="105.88" x2="542.6" y2="105.88" stroke="#111" stroke-width="0.6"/>
<circle cx="541.5" cy="104" r="0.7" fill="#333"/>
<line x1="545.9" y1="104.75" x2="545.9" y2="108.52" stroke="#111" stroke-width="0.6"/>
<line x1="544.8" y1="104.75" x2="547" y2="104.75" stroke="#111" stroke-width="0.6"/>
<line x1="544.8" y1="108.52" x2="547" y2="108.52" stroke="#111" stroke-width="0.6"/>
<circle cx="545.9" cy="106.64" r="0.7" fill="#333"/>
<line x1="550.3" y1="105.32" x2="550.3" y2="109.09" stroke="#111" stroke-width="0.6"/>
<line x1="549.2" y1="105.32" x2="551.4" y2="105.32" stroke="#111" stroke-width="0.6"/>
<line x1="549.2" y1="109.09" x2="551.4" y2="109.09" stroke="#111" stroke-width="0.6"/>
<circle cx="550.3" cy="107.2" r="0.7" fill="#333"/>
<line x1="554.7" y1="106.07" x2="554.7" y2="109.84" stroke="#111" stroke-width="0.6"/>
<line x1="553.6" y1="106.07" x2="555.8" y2="106.07" stroke="#111" stroke-width="0.6"/>
<line x1="553.6" y1="109.84" x2="555.8" y2="109.84" stroke="#111" stroke-width="0.6"/>
<circle cx="554.7" cy="107.95" r="0.7" fill="#333"/>
<line x1="559.1" y1="107.39" x2="559.1" y2="111.16" stroke="#111" stroke-width="0.6"/>
<line x1="558" y1="107.39" x2="560.2" y2="107.39" stroke="#111" stroke-width="0.6"/>
<line x1="558" y1="111.16" x2="560.2" y2="111.16" stroke="#111" stroke-width="0.6"/>
<circle cx="559.1" cy="109.27" r="0.7" fill="#333"/>
<line x1="565.1" y1="79.3" x2="565.1" y2="84.02" stroke="#111" stroke-width="0.6"/>
<line x1="564" y1="79.3" x2="566.2" y2="79.3" stroke="#111" stroke-width="0.6"/>
<line x1="564" y1="84.02" x2="566.2" y2="84.02" stroke="#111" stroke-width="0.6"/>
<circle cx="565.1" cy="81.66" r="0.7" fill="#333"/>
<line x1="569.5" y1="82.7" x2="569.5" y2="87.41" stroke="#111" stroke-width="0.6"/>
<line x1="568.4" y1="82.7" x2="570.6" y2="82.7" stroke="#111" stroke-width="0.6"/>
<line x1="568.4" y1="87.41" x2="570.6" y2="87.41" stroke="#111" stroke-width="0.6"/>
<circle cx="569.5" cy="85.05" r="0.7" fill="#333"/>
<line x1="573.9" y1="85.33" x2="573.9" y2="90.05" stroke="#111" stroke-width="0.6"/>
<line x1="572.8" y1="85.33" x2="575" y2="85.33" stroke="#111" stroke-width="0.6"/>
<line x1="572.8" y1="90.05" x2="575" y2="90.05" stroke="#111" stroke-width="0.6"/>
<circle cx="573.9" cy="87.69" r="0.7" fill="#333"/>
<line x1="578.3" y1="87.13" x2="578.3" y2="91.84" stroke="#111" stroke-width="0.6"/>
<line x1="577.2" y1="87.13" x2="579.4" y2="87.13" stroke="#111" stroke-width="0.6"/>
<line x1="577.2" y1="91.84" x2="579.4" y2="91.84" stroke="#111" stroke-width="0.6"/>
<circle cx="578.3" cy="89.48" r="0.7" fill="#333"/>
<line x1="582.7" y1="89.01" x2="582.7" y2="93.72" stroke="#111" stroke-width="0.6"/>
<line x1="581.6" y1="89.01" x2="583.8" y2="89.01" stroke="#111" stroke-width="0.6"/>
<line x1="581.6" y1="93.72" x2="583.8" y2="93.72" stroke="#111" stroke-width="0.6"/>
<circle cx="582.7" cy="91.37" r="0.7" fill="#333"/>
<line x1="588.7" y1="64.32" x2="588.7" y2="69.97" stroke="#111" stroke-width="0.6"/>
<line x1="587.6" y1="64.32" x2="589.8" y2="64.32" stroke="#111" stroke-width="0.6"/>
<line x1="587.6" y1="69.97" x2="589.8" y2="69.97" stroke="#111" stroke-width="0.6"/>
<circle cx="588.7" cy="67.14" r="0.7" fill="#333"/>
<line x1="593.1" y1="70.35" x2="593.1" y2="76" stroke="#111" stroke-width="0.6"/>
<line x1="592" y1="70.35" x2="594.2" y2="70.35" stroke="#111" stroke-width="0.6"/>
<line x1="592" y1="76" x2="594.2" y2="76" stroke="#111" stroke-width="0.6"/>
<circle cx="593.1" cy="73.18" r="0.7" fill="#333"/>
<line x1="597.5" y1="72.99" x2="597.5" y2="78.64" stroke="#111" stroke-width="0.6"/>
<line x1="596.4" y1="72.99" x2="598.6" y2="72.99" stroke="#111" stroke-width="0.6"/>
<line x1="596.4" y1="78.64" x2="598.6" y2="78.64" stroke="#111" stroke-width="0.6"/>
<circle cx="597.5" cy="75.82" r="0.7" fill="#333"/>
<line x1="601.9" y1="75.34" x2="601.9" y2="81" stroke="#111" stroke-width="0.6"/>
<line x1="600.8" y1="75.34" x2="603" y2="75.34" stroke="#111" stroke-width="0.6"/>
<line x1="600.8" y1="81" x2="603" y2="81" stroke="#111" stroke-width="0.6"/>
<circle cx="601.9" cy="78.17" r="0.7" fill="#333"/>
<line x1="606.3" y1="78.83" x2="606.3" y2="84.49" stroke="#111" stroke-width="0.6"/>
<line x1="605.2" y1="78.83" x2="607.4" y2="78.83" stroke="#111" stroke-width="0.6"/>
<line x1="605.2" y1="84.49" x2="607.4" y2="84.49" stroke="#111" stroke-width="0.6"/>
<circle cx="606.3" cy="81.66" r="0.7" fill="#333"/>
<line x1="612.3" y1="52.54" x2="612.3" y2="59.13" stroke="#111" stroke-width="0.6"/>
<line x1="611.2" y1="52.54" x2="613.4" y2="52.54" stroke="#111" stroke-width="0.6"/>
<line x1="611.2" y1="59.13" x2="613.4" y2="59.13" stroke="#111" stroke-width="0.6"/>
<circle cx="612.3" cy="55.83" r="0.7" fill="#333"/>
<line x1="616.7" y1="59.13" x2="616.7" y2="65.73" stroke="#111" stroke-width="0.6"/>
<line x1="615.6" y1="59.13" x2="617.8" y2="59.13" stroke="#111" stroke-width="0.6"/>
<line x1="615.6" y1="65.73" x2="617.8" y2="65.73" stroke="#111" stroke-width="0.6"/>
<circle cx="616.7" cy="62.43" r="0.7" fill="#333"/>
<line x1="621.1" y1="63.85" x2="621.1" y2="70.44" stroke="#111" stroke-width="0.6"/>
<line x1="620" y1="63.85" x2="622.2" y2="63.85" stroke="#111" stroke-width="0.6"/>
<line x1="620" y1="70.44" x2="622.2" y2="70.44" stroke="#111" stroke-width="0.6"/>
<circle cx="621.1" cy="67.14" r="0.7" fill="#333"/>
<line x1="625.5" y1="65.92" x2="625.5" y2="72.52" stroke="#111" stroke-width="0.6"/>
<line x1="624.4" y1="65.92" x2="626.6" y2="65.92" stroke="#111" stroke-width="0.6"/>
<line x1="624.4" y1="72.52" x2="626.6" y2="72.52" stroke="#111" stroke-width="0.6"/>
<circle cx="625.5" cy="69.22" r="0.7" fill="#333"/>
<line x1="629.9" y1="69.88" x2="629.9" y2="76.48" stroke="#111" stroke-width="0.6"/>
<line x1="628.8" y1="69.88" x2="631" y2="69.88" stroke="#111" stroke-width="0.6"/>
<line x1="628.8" y1="76.48" x2="631" y2="76.48" stroke="#111" stroke-width="0.6"/>
<circle cx="629.9" cy="73.18" r="0.7" fill="#333"/>
<line x1="635.9" y1="44.43" x2="635.9" y2="51.97" stroke="#111" stroke-width="0.6"/>
<line x1="634.8" y1="44.43" x2="637" y2="44.43" stroke="#111" stroke-width="0.6"/>
<line x1="634.8" y1="51.97" x2="637" y2="51.97" stroke="#111" stroke-width="0.6"/>
<circle cx="635.9" cy="48.2" r="0.7" fill="#333"/>
<line x1="640.3" y1="51.5" x2="640.3" y2="59.04" stroke="#111" stroke-width="0.6"/>
<line x1="639.2" y1="51.5" x2="641.4" y2="51.5" stroke="#111" stroke-width="0.6"/>
<line x1="639.2" y1="59.04" x2="641.4" y2="59.04" stroke="#111" stroke-width="0.6"/>
<circle cx="640.3" cy="55.27" r="0.7" fill="#333"/>
<line x1="644.7" y1="56.21" x2="644.7" y2="63.75" stroke="#111" stroke-width="0.6"/>
<line x1="643.6" y1="56.21" x2="645.8" y2="56.21" stroke="#111" stroke-width="0.6"/>
<line x1="643.6" y1="63.75" x2="645.8" y2="63.75" stroke="#111" stroke-width="0.6"/>
<circle cx="644.7" cy="59.98" r="0.7" fill="#333"/>
<line x1="649.1" y1="60.74" x2="649.1" y2="68.28" stroke="#111" stroke-width="0.6"/>
<line x1="648" y1="60.74" x2="650.2" y2="60.74" stroke="#111" stroke-width="0.6"/>
<line x1="648" y1="68.28" x2="650.2" y2="68.28" stroke="#111" stroke-width="0.6"/>
<circle cx="649.1" cy="64.51" r="0.7" fill="#333"/>
<line x1="653.5" y1="65.17" x2="653.5" y2="72.71" stroke="#111" stroke-width="0.6"/>
<line x1="652.4" y1="65.17" x2="654.6" y2="65.17" stroke="#111" stroke-width="0.6"/>
<line x1="652.4" y1="72.71" x2="654.6" y2="72.71" stroke="#111" stroke-width="0.6"/>
<circle cx="653.5" cy="68.94" r="0.7" fill="#333"/>
<line x1="659.5" y1="39.25" x2="659.5" y2="47.73" stroke="#111" stroke-width="0.6"/>
<line x1="658.4" y1="39.25" x2="660.6" y2="39.25" stroke="#111" stroke-width="0.6"/>
<line x1="658.4" y1="47.73" x2="660.6" y2="47.73" stroke="#111" stroke-width="0.6"/>
<circle cx="659.5" cy="43.49" r="0.7" fill="#333"/>
<line x1="663.9" y1="47.07" x2="663.9" y2="55.55" stroke="#111" stroke-width="0.6"/>
<line x1="662.8" y1="47.07" x2="665" y2="47.07" stroke="#111" stroke-width="0.6"/>
<line x1="662.8" y1="55.55" x2="665" y2="55.55" stroke="#111" stroke-width="0.6"/>
<circle cx="663.9" cy="51.31" r="0.7" fill="#333"/>
<line x1="668.3" y1="51.88" x2="668.3" y2="60.36" stroke="#111" stroke-width="0.6"/>
<line x1="667.2" y1="51.88" x2="669.4" y2="51.88" stroke="#111" stroke-width="0.6"/>
<line x1="667.2" y1="60.36" x2="669.4" y2="60.36" stroke="#111" stroke-width="0.6"/>
<circle cx="668.3" cy="56.12" r="0.7" fill="#333"/>
<line x1="672.7" y1="57.06" x2="672.7" y2="65.54" stroke="#111" stroke-width="0.6"/>
<line x1="671.6" y1="57.06" x2="673.8" y2="57.06" stroke="#111" stroke-width="0.6"/>
<line x1="671.6" y1="65.54" x2="673.8" y2="65.54" stroke="#111" stroke-width="0.6"/>
<circle cx="672.7" cy="61.3" r="0.7" fill="#333"/>
<line x1="677.1" y1="61.58" x2="677.1" y2="70.07" stroke="#111" stroke-width="0.6"/>
<line x1="676" y1="61.58" x2="678.2" y2="61.58" stroke="#111" stroke-width="0.6"/>
<line x1="676" y1="70.07" x2="678.2" y2="70.07" stroke="#111" stroke-width="0.6"/>
<circle cx="677.1" cy="65.83" r="0.7" fill="#333"/>
<rect x="538.3" y="18.7" width="141.3" height="113.1" fill="none" stroke="#222" stroke-width="0.9"/>
<line x1="536.7" y1="131.8" x2="538.3" y2="131.8" stroke="#222" stroke-width="0.8"/>
<text x="534.45" y="134.25" font-family="'Liberation Serif', serif" font-size="7.2" font-weight="bold" text-anchor="end" fill="#111">0</text>
<line x1="536.7" y1="94.1" x2="538.3" y2="94.1" stroke="#222" stroke-width="0.8"/>
<text x="534.45" y="96.55" font-family="'Liberation Serif', serif" font-size="7.2" font-weight="bold" text-anchor="end" fill="#111">4</text>
<line x1="536.7" y1="56.4" x2="538.3" y2="56.4" stroke="#222" stroke-width="0.8"/>
<text x="534.45" y="58.85" font-family="'Liberation Serif', serif" font-size="7.2" font-weight="bold" text-anchor="end" fill="#111">8</text>
<line x1="536.7" y1="18.7" x2="538.3" y2="18.7" stroke="#222" stroke-width="0.8"/>
<text x="534.45" y="21.15" font-family="'Liberation Serif', serif" font-size="7.2" font-weight="bold" text-anchor="end" fill="#111">12</text>
<line x1="537" y1="112.95" x2="538.3" y2="112.95" stroke="#222" stroke-width="0.7"/>
<line x1="537" y1="75.25" x2="538.3" y2="75.25" stroke="#222" stroke-width="0.7"/>
<line x1="537" y1="37.55" x2="538.3" y2="37.55" stroke="#222" stroke-width="0.7"/>
<text x="550.3" y="140.6" font-family="'Liberation Serif', serif" font-size="7.2" font-weight="bold" text-anchor="middle" fill="#111">2</text>
<text x="573.9" y="140.6" font-family="'Liberation Serif', serif" font-size="7.2" font-weight="bold" text-anchor="middle" fill="#111">4</text>
<text x="597.5" y="140.6" font-family="'Liberation Serif', serif" font-size="7.2" font-weight="bold" text-anchor="middle" fill="#111">6</text>
<text x="621.1" y="140.6" font-family="'Liberation Serif', serif" font-size="7.2" font-weight="bold" text-anchor="middle" fill="#111">8</text>
<text x="644.7" y="140.6" font-family="'Liberation Serif', serif" font-size="7.2" font-weight="bold" text-anchor="middle" fill="#111">10</text>
<text x="668.3" y="140.6" font-family="'Liberation Serif', serif" font-size="7.2" font-weight="bold" text-anchor="middle" fill="#111">12</text>
<rect x="539.6" y="20.1" width="16.9" height="8.2" fill="#F4405E"/>
<text x="558.7" y="26.8" font-family="'Liberation Serif', serif" font-size="7.4" font-weight="bold" text-anchor="start" fill="#111">HAP</text>
<rect x="539.6" y="29.3" width="16.9" height="8.2" fill="#F0892E"/>
<text x="558.7" y="36" font-family="'Liberation Serif', serif" font-size="7.4" font-weight="bold" text-anchor="start" fill="#111">HAPP1</text>
<rect x="539.6" y="38.6" width="16.9" height="8.2" fill="#EBD35E"/>
<text x="558.7" y="45.3" font-family="'Liberation Serif', serif" font-size="7.4" font-weight="bold" text-anchor="start" fill="#111">HAPP2</text>
<rect x="539.6" y="47.9" width="16.9" height="8.2" fill="#4282F5"/>
<text x="558.7" y="54.6" font-family="'Liberation Serif', serif" font-size="7.4" font-weight="bold" text-anchor="start" fill="#111">HAPP3</text>
<rect x="539.6" y="57.3" width="16.9" height="8.2" fill="#76F6DA"/>
<text x="558.7" y="64" font-family="'Liberation Serif', serif" font-size="7.4" font-weight="bold" text-anchor="start" fill="#111">HAPP4</text>
<text x="609.1" y="147.3" font-family="'Liberation Serif', serif" font-size="7.6" font-weight="bold" text-anchor="middle" fill="#111">Time (h)</text>
<text x="527.5" y="75.5" font-family="'Liberation Serif', serif" font-size="8.1" font-weight="bold" text-anchor="middle" fill="#111" transform="rotate(-90 527.5 75.5)">Water supply (%)</text>
<text x="1.8" y="158.7" font-family="'Liberation Sans', sans-serif" font-size="12" font-weight="bold" text-anchor="start" fill="#000">E</text>
<path d="M24.1 274.5 L47.1 233.7 L70.1 209.9 L93.1 192.22 L116.1 179.98 L139.1 171.14 L162.1 169.78" stroke="#F4505E" fill="none" stroke-width="0.9"/>
<rect x="22.8" y="273.2" width="2.6" height="2.6" fill="#F4505E"/>
<line x1="47.1" y1="230.7" x2="47.1" y2="236.7" stroke="#F4505E" stroke-width="0.6"/>
<line x1="46.1" y1="230.7" x2="48.1" y2="230.7" stroke="#F4505E" stroke-width="0.6"/>
<line x1="46.1" y1="236.7" x2="48.1" y2="236.7" stroke="#F4505E" stroke-width="0.6"/>
<rect x="45.8" y="232.4" width="2.6" height="2.6" fill="#F4505E"/>
<line x1="70.1" y1="207.4" x2="70.1" y2="212.4" stroke="#F4505E" stroke-width="0.6"/>
<line x1="69.1" y1="207.4" x2="71.1" y2="207.4" stroke="#F4505E" stroke-width="0.6"/>
<line x1="69.1" y1="212.4" x2="71.1" y2="212.4" stroke="#F4505E" stroke-width="0.6"/>
<rect x="68.8" y="208.6" width="2.6" height="2.6" fill="#F4505E"/>
<line x1="93.1" y1="189.22" x2="93.1" y2="195.22" stroke="#F4505E" stroke-width="0.6"/>
<line x1="92.1" y1="189.22" x2="94.1" y2="189.22" stroke="#F4505E" stroke-width="0.6"/>
<line x1="92.1" y1="195.22" x2="94.1" y2="195.22" stroke="#F4505E" stroke-width="0.6"/>
<rect x="91.8" y="190.92" width="2.6" height="2.6" fill="#F4505E"/>
<line x1="116.1" y1="176.98" x2="116.1" y2="182.98" stroke="#F4505E" stroke-width="0.6"/>
<line x1="115.1" y1="176.98" x2="117.1" y2="176.98" stroke="#F4505E" stroke-width="0.6"/>
<line x1="115.1" y1="182.98" x2="117.1" y2="182.98" stroke="#F4505E" stroke-width="0.6"/>
<rect x="114.8" y="178.68" width="2.6" height="2.6" fill="#F4505E"/>
<line x1="139.1" y1="168.64" x2="139.1" y2="173.64" stroke="#F4505E" stroke-width="0.6"/>
<line x1="138.1" y1="168.64" x2="140.1" y2="168.64" stroke="#F4505E" stroke-width="0.6"/>
<line x1="138.1" y1="173.64" x2="140.1" y2="173.64" stroke="#F4505E" stroke-width="0.6"/>
<rect x="137.8" y="169.84" width="2.6" height="2.6" fill="#F4505E"/>
<line x1="162.1" y1="166.28" x2="162.1" y2="173.28" stroke="#F4505E" stroke-width="0.6"/>
<line x1="161.1" y1="166.28" x2="163.1" y2="166.28" stroke="#F4505E" stroke-width="0.6"/>
<line x1="161.1" y1="173.28" x2="163.1" y2="173.28" stroke="#F4505E" stroke-width="0.6"/>
<rect x="160.8" y="168.48" width="2.6" height="2.6" fill="#F4505E"/>
<path d="M24.1 274.5 L47.1 235.74 L70.1 212.62 L93.1 194.94 L116.1 183.38 L139.1 175.9 L162.1 173.86" stroke="#F0853A" fill="none" stroke-width="0.9"/>
<circle cx="24.1" cy="274.5" r="1.37" fill="#F0853A"/>
<line x1="47.1" y1="232.74" x2="47.1" y2="238.74" stroke="#F0853A" stroke-width="0.6"/>
<line x1="46.1" y1="232.74" x2="48.1" y2="232.74" stroke="#F0853A" stroke-width="0.6"/>
<line x1="46.1" y1="238.74" x2="48.1" y2="238.74" stroke="#F0853A" stroke-width="0.6"/>
<circle cx="47.1" cy="235.74" r="1.37" fill="#F0853A"/>
<line x1="70.1" y1="210.12" x2="70.1" y2="215.12" stroke="#F0853A" stroke-width="0.6"/>
<line x1="69.1" y1="210.12" x2="71.1" y2="210.12" stroke="#F0853A" stroke-width="0.6"/>
<line x1="69.1" y1="215.12" x2="71.1" y2="215.12" stroke="#F0853A" stroke-width="0.6"/>
<circle cx="70.1" cy="212.62" r="1.37" fill="#F0853A"/>
<line x1="93.1" y1="191.94" x2="93.1" y2="197.94" stroke="#F0853A" stroke-width="0.6"/>
<line x1="92.1" y1="191.94" x2="94.1" y2="191.94" stroke="#F0853A" stroke-width="0.6"/>
<line x1="92.1" y1="197.94" x2="94.1" y2="197.94" stroke="#F0853A" stroke-width="0.6"/>
<circle cx="93.1" cy="194.94" r="1.37" fill="#F0853A"/>
<line x1="116.1" y1="180.38" x2="116.1" y2="186.38" stroke="#F0853A" stroke-width="0.6"/>
<line x1="115.1" y1="180.38" x2="117.1" y2="180.38" stroke="#F0853A" stroke-width="0.6"/>
<line x1="115.1" y1="186.38" x2="117.1" y2="186.38" stroke="#F0853A" stroke-width="0.6"/>
<circle cx="116.1" cy="183.38" r="1.37" fill="#F0853A"/>
<line x1="139.1" y1="173.4" x2="139.1" y2="178.4" stroke="#F0853A" stroke-width="0.6"/>
<line x1="138.1" y1="173.4" x2="140.1" y2="173.4" stroke="#F0853A" stroke-width="0.6"/>
<line x1="138.1" y1="178.4" x2="140.1" y2="178.4" stroke="#F0853A" stroke-width="0.6"/>
<circle cx="139.1" cy="175.9" r="1.37" fill="#F0853A"/>
<line x1="162.1" y1="170.36" x2="162.1" y2="177.36" stroke="#F0853A" stroke-width="0.6"/>
<line x1="161.1" y1="170.36" x2="163.1" y2="170.36" stroke="#F0853A" stroke-width="0.6"/>
<line x1="161.1" y1="177.36" x2="163.1" y2="177.36" stroke="#F0853A" stroke-width="0.6"/>
<circle cx="162.1" cy="173.86" r="1.37" fill="#F0853A"/>
<path d="M24.1 274.5 L47.1 237.78 L70.1 215.34 L93.1 198.34 L116.1 186.78 L139.1 180.66 L162.1 179.3" stroke="#F2CC5A" fill="none" stroke-width="0.9"/>
<path d="M24.1 272.94 L25.53 275.54 L22.67 275.54 Z" fill="#F2CC5A"/>
<line x1="47.1" y1="234.78" x2="47.1" y2="240.78" stroke="#F2CC5A" stroke-width="0.6"/>
<line x1="46.1" y1="234.78" x2="48.1" y2="234.78" stroke="#F2CC5A" stroke-width="0.6"/>
<line x1="46.1" y1="240.78" x2="48.1" y2="240.78" stroke="#F2CC5A" stroke-width="0.6"/>
<path d="M47.1 236.22 L48.53 238.82 L45.67 238.82 Z" fill="#F2CC5A"/>
<line x1="70.1" y1="212.84" x2="70.1" y2="217.84" stroke="#F2CC5A" stroke-width="0.6"/>
<line x1="69.1" y1="212.84" x2="71.1" y2="212.84" stroke="#F2CC5A" stroke-width="0.6"/>
<line x1="69.1" y1="217.84" x2="71.1" y2="217.84" stroke="#F2CC5A" stroke-width="0.6"/>
<path d="M70.1 213.78 L71.53 216.38 L68.67 216.38 Z" fill="#F2CC5A"/>
<line x1="93.1" y1="195.34" x2="93.1" y2="201.34" stroke="#F2CC5A" stroke-width="0.6"/>
<line x1="92.1" y1="195.34" x2="94.1" y2="195.34" stroke="#F2CC5A" stroke-width="0.6"/>
<line x1="92.1" y1="201.34" x2="94.1" y2="201.34" stroke="#F2CC5A" stroke-width="0.6"/>
<path d="M93.1 196.78 L94.53 199.38 L91.67 199.38 Z" fill="#F2CC5A"/>
<line x1="116.1" y1="183.78" x2="116.1" y2="189.78" stroke="#F2CC5A" stroke-width="0.6"/>
<line x1="115.1" y1="183.78" x2="117.1" y2="183.78" stroke="#F2CC5A" stroke-width="0.6"/>
<line x1="115.1" y1="189.78" x2="117.1" y2="189.78" stroke="#F2CC5A" stroke-width="0.6"/>
<path d="M116.1 185.22 L117.53 187.82 L114.67 187.82 Z" fill="#F2CC5A"/>
<line x1="139.1" y1="178.16" x2="139.1" y2="183.16" stroke="#F2CC5A" stroke-width="0.6"/>
<line x1="138.1" y1="178.16" x2="140.1" y2="178.16" stroke="#F2CC5A" stroke-width="0.6"/>
<line x1="138.1" y1="183.16" x2="140.1" y2="183.16" stroke="#F2CC5A" stroke-width="0.6"/>
<path d="M139.1 179.1 L140.53 181.7 L137.67 181.7 Z" fill="#F2CC5A"/>
<line x1="162.1" y1="175.8" x2="162.1" y2="182.8" stroke="#F2CC5A" stroke-width="0.6"/>
<line x1="161.1" y1="175.8" x2="163.1" y2="175.8" stroke="#F2CC5A" stroke-width="0.6"/>
<line x1="161.1" y1="182.8" x2="163.1" y2="182.8" stroke="#F2CC5A" stroke-width="0.6"/>
<path d="M162.1 177.74 L163.53 180.34 L160.67 180.34 Z" fill="#F2CC5A"/>
<path d="M24.1 274.5 L47.1 239.82 L70.1 217.38 L93.1 201.06 L116.1 190.86 L139.1 185.42 L162.1 182.7" stroke="#4A78F0" fill="none" stroke-width="0.9"/>
<path d="M24.1 276.06 L25.53 273.46 L22.67 273.46 Z" fill="#4A78F0"/>
<line x1="47.1" y1="236.82" x2="47.1" y2="242.82" stroke="#4A78F0" stroke-width="0.6"/>
<line x1="46.1" y1="236.82" x2="48.1" y2="236.82" stroke="#4A78F0" stroke-width="0.6"/>
<line x1="46.1" y1="242.82" x2="48.1" y2="242.82" stroke="#4A78F0" stroke-width="0.6"/>
<path d="M47.1 241.38 L48.53 238.78 L45.67 238.78 Z" fill="#4A78F0"/>
<line x1="70.1" y1="214.88" x2="70.1" y2="219.88" stroke="#4A78F0" stroke-width="0.6"/>
<line x1="69.1" y1="214.88" x2="71.1" y2="214.88" stroke="#4A78F0" stroke-width="0.6"/>
<line x1="69.1" y1="219.88" x2="71.1" y2="219.88" stroke="#4A78F0" stroke-width="0.6"/>
<path d="M70.1 218.94 L71.53 216.34 L68.67 216.34 Z" fill="#4A78F0"/>
<line x1="93.1" y1="198.06" x2="93.1" y2="204.06" stroke="#4A78F0" stroke-width="0.6"/>
<line x1="92.1" y1="198.06" x2="94.1" y2="198.06" stroke="#4A78F0" stroke-width="0.6"/>
<line x1="92.1" y1="204.06" x2="94.1" y2="204.06" stroke="#4A78F0" stroke-width="0.6"/>
<path d="M93.1 202.62 L94.53 200.02 L91.67 200.02 Z" fill="#4A78F0"/>
<line x1="116.1" y1="187.86" x2="116.1" y2="193.86" stroke="#4A78F0" stroke-width="0.6"/>
<line x1="115.1" y1="187.86" x2="117.1" y2="187.86" stroke="#4A78F0" stroke-width="0.6"/>
<line x1="115.1" y1="193.86" x2="117.1" y2="193.86" stroke="#4A78F0" stroke-width="0.6"/>
<path d="M116.1 192.42 L117.53 189.82 L114.67 189.82 Z" fill="#4A78F0"/>
<line x1="139.1" y1="182.92" x2="139.1" y2="187.92" stroke="#4A78F0" stroke-width="0.6"/>
<line x1="138.1" y1="182.92" x2="140.1" y2="182.92" stroke="#4A78F0" stroke-width="0.6"/>
<line x1="138.1" y1="187.92" x2="140.1" y2="187.92" stroke="#4A78F0" stroke-width="0.6"/>
<path d="M139.1 186.98 L140.53 184.38 L137.67 184.38 Z" fill="#4A78F0"/>
<line x1="162.1" y1="179.2" x2="162.1" y2="186.2" stroke="#4A78F0" stroke-width="0.6"/>
<line x1="161.1" y1="179.2" x2="163.1" y2="179.2" stroke="#4A78F0" stroke-width="0.6"/>
<line x1="161.1" y1="186.2" x2="163.1" y2="186.2" stroke="#4A78F0" stroke-width="0.6"/>
<path d="M162.1 184.26 L163.53 181.66 L160.67 181.66 Z" fill="#4A78F0"/>
<path d="M24.1 274.5 L47.1 241.86 L70.1 220.1 L93.1 204.46 L116.1 194.26 L139.1 190.18 L162.1 188.14" stroke="#5CEBCB" fill="none" stroke-width="0.9"/>
<path d="M24.1 272.88 L25.4 274.5 L24.1 276.12 L22.8 274.5 Z" fill="#5CEBCB"/>
<line x1="47.1" y1="238.86" x2="47.1" y2="244.86" stroke="#5CEBCB" stroke-width="0.6"/>
<line x1="46.1" y1="238.86" x2="48.1" y2="238.86" stroke="#5CEBCB" stroke-width="0.6"/>
<line x1="46.1" y1="244.86" x2="48.1" y2="244.86" stroke="#5CEBCB" stroke-width="0.6"/>
<path d="M47.1 240.24 L48.4 241.86 L47.1 243.49 L45.8 241.86 Z" fill="#5CEBCB"/>
<line x1="70.1" y1="217.6" x2="70.1" y2="222.6" stroke="#5CEBCB" stroke-width="0.6"/>
<line x1="69.1" y1="217.6" x2="71.1" y2="217.6" stroke="#5CEBCB" stroke-width="0.6"/>
<line x1="69.1" y1="222.6" x2="71.1" y2="222.6" stroke="#5CEBCB" stroke-width="0.6"/>
<path d="M70.1 218.47 L71.4 220.1 L70.1 221.72 L68.8 220.1 Z" fill="#5CEBCB"/>
<line x1="93.1" y1="201.46" x2="93.1" y2="207.46" stroke="#5CEBCB" stroke-width="0.6"/>
<line x1="92.1" y1="201.46" x2="94.1" y2="201.46" stroke="#5CEBCB" stroke-width="0.6"/>
<line x1="92.1" y1="207.46" x2="94.1" y2="207.46" stroke="#5CEBCB" stroke-width="0.6"/>
<path d="M93.1 202.83 L94.4 204.46 L93.1 206.08 L91.8 204.46 Z" fill="#5CEBCB"/>
<line x1="116.1" y1="191.26" x2="116.1" y2="197.26" stroke="#5CEBCB" stroke-width="0.6"/>
<line x1="115.1" y1="191.26" x2="117.1" y2="191.26" stroke="#5CEBCB" stroke-width="0.6"/>
<line x1="115.1" y1="197.26" x2="117.1" y2="197.26" stroke="#5CEBCB" stroke-width="0.6"/>
<path d="M116.1 192.63 L117.4 194.26 L116.1 195.88 L114.8 194.26 Z" fill="#5CEBCB"/>
<line x1="139.1" y1="187.68" x2="139.1" y2="192.68" stroke="#5CEBCB" stroke-width="0.6"/>
<line x1="138.1" y1="187.68" x2="140.1" y2="187.68" stroke="#5CEBCB" stroke-width="0.6"/>
<line x1="138.1" y1="192.68" x2="140.1" y2="192.68" stroke="#5CEBCB" stroke-width="0.6"/>
<path d="M139.1 188.56 L140.4 190.18 L139.1 191.81 L137.8 190.18 Z" fill="#5CEBCB"/>
<line x1="162.1" y1="184.64" x2="162.1" y2="191.64" stroke="#5CEBCB" stroke-width="0.6"/>
<line x1="161.1" y1="184.64" x2="163.1" y2="184.64" stroke="#5CEBCB" stroke-width="0.6"/>
<line x1="161.1" y1="191.64" x2="163.1" y2="191.64" stroke="#5CEBCB" stroke-width="0.6"/>
<path d="M162.1 186.51 L163.4 188.14 L162.1 189.76 L160.8 188.14 Z" fill="#5CEBCB"/>
<rect x="24.1" y="158.6" width="143.3" height="115.9" fill="none" stroke="#222" stroke-width="0.9"/>
<line x1="22.5" y1="274.5" x2="24.1" y2="274.5" stroke="#222" stroke-width="0.8"/>
<text x="20.45" y="276.95" font-family="'Liberation Serif', serif" font-size="7.2" font-weight="bold" text-anchor="end" fill="#111">0</text>
<line x1="22.5" y1="247.3" x2="24.1" y2="247.3" stroke="#222" stroke-width="0.8"/>
<text x="20.45" y="249.75" font-family="'Liberation Serif', serif" font-size="7.2" font-weight="bold" text-anchor="end" fill="#111">4</text>
<line x1="22.5" y1="220.1" x2="24.1" y2="220.1" stroke="#222" stroke-width="0.8"/>
<text x="20.45" y="222.55" font-family="'Liberation Serif', serif" font-size="7.2" font-weight="bold" text-anchor="end" fill="#111">8</text>
<line x1="22.5" y1="192.9" x2="24.1" y2="192.9" stroke="#222" stroke-width="0.8"/>
<text x="20.45" y="195.35" font-family="'Liberation Serif', serif" font-size="7.2" font-weight="bold" text-anchor="end" fill="#111">12</text>
<line x1="22.5" y1="165.7" x2="24.1" y2="165.7" stroke="#222" stroke-width="0.8"/>
<text x="20.45" y="168.15" font-family="'Liberation Serif', serif" font-size="7.2" font-weight="bold" text-anchor="end" fill="#111">16</text>
<line x1="22.8" y1="260.9" x2="24.1" y2="260.9" stroke="#222" stroke-width="0.7"/>
<line x1="22.8" y1="233.7" x2="24.1" y2="233.7" stroke="#222" stroke-width="0.7"/>
<line x1="22.8" y1="206.5" x2="24.1" y2="206.5" stroke="#222" stroke-width="0.7"/>
<line x1="22.8" y1="179.3" x2="24.1" y2="179.3" stroke="#222" stroke-width="0.7"/>
<line x1="24.1" y1="274.5" x2="24.1" y2="276.5" stroke="#222" stroke-width="0.8"/>
<text x="24.1" y="284.4" font-family="'Liberation Serif', serif" font-size="7.2" font-weight="bold" text-anchor="middle" fill="#111">0</text>
<line x1="47.1" y1="274.5" x2="47.1" y2="276.5" stroke="#222" stroke-width="0.8"/>
<text x="47.1" y="284.4" font-family="'Liberation Serif', serif" font-size="7.2" font-weight="bold" text-anchor="middle" fill="#111">4</text>
<line x1="70.1" y1="274.5" x2="70.1" y2="276.5" stroke="#222" stroke-width="0.8"/>
<text x="70.1" y="284.4" font-family="'Liberation Serif', serif" font-size="7.2" font-weight="bold" text-anchor="middle" fill="#111">8</text>
<line x1="93.1" y1="274.5" x2="93.1" y2="276.5" stroke="#222" stroke-width="0.8"/>
<text x="93.1" y="284.4" font-family="'Liberation Serif', serif" font-size="7.2" font-weight="bold" text-anchor="middle" fill="#111">12</text>
<line x1="116.1" y1="274.5" x2="116.1" y2="276.5" stroke="#222" stroke-width="0.8"/>
<text x="116.1" y="284.4" font-family="'Liberation Serif', serif" font-size="7.2" font-weight="bold" text-anchor="middle" fill="#111">16</text>
<line x1="139.1" y1="274.5" x2="139.1" y2="276.5" stroke="#222" stroke-width="0.8"/>
<text x="139.1" y="284.4" font-family="'Liberation Serif', serif" font-size="7.2" font-weight="bold" text-anchor="middle" fill="#111">20</text>
<line x1="162.1" y1="274.5" x2="162.1" y2="276.5" stroke="#222" stroke-width="0.8"/>
<text x="162.1" y="284.4" font-family="'Liberation Serif', serif" font-size="7.2" font-weight="bold" text-anchor="middle" fill="#111">24</text>
<line x1="35.6" y1="274.5" x2="35.6" y2="275.8" stroke="#222" stroke-width="0.7"/>
<line x1="58.6" y1="274.5" x2="58.6" y2="275.8" stroke="#222" stroke-width="0.7"/>
<line x1="81.6" y1="274.5" x2="81.6" y2="275.8" stroke="#222" stroke-width="0.7"/>
<line x1="104.6" y1="274.5" x2="104.6" y2="275.8" stroke="#222" stroke-width="0.7"/>
<line x1="127.6" y1="274.5" x2="127.6" y2="275.8" stroke="#222" stroke-width="0.7"/>
<line x1="150.6" y1="274.5" x2="150.6" y2="275.8" stroke="#222" stroke-width="0.7"/>
<line x1="26.3" y1="164.1" x2="41.6" y2="164.1" stroke="#F4505E" stroke-width="1"/>
<rect x="32.65" y="162.8" width="2.6" height="2.6" fill="#F4505E"/>
<text x="43.8" y="166.6" font-family="'Liberation Serif', serif" font-size="7.4" font-weight="bold" text-anchor="start" fill="#111">HAP</text>
<line x1="26.3" y1="173.6" x2="41.6" y2="173.6" stroke="#F0853A" stroke-width="1"/>
<circle cx="33.95" cy="173.6" r="1.37" fill="#F0853A"/>
<text x="43.8" y="176.1" font-family="'Liberation Serif', serif" font-size="7.4" font-weight="bold" text-anchor="start" fill="#111">HAPP1</text>
<line x1="26.3" y1="183.3" x2="41.6" y2="183.3" stroke="#F2CC5A" stroke-width="1"/>
<path d="M33.95 181.74 L35.38 184.34 L32.52 184.34 Z" fill="#F2CC5A"/>
<text x="43.8" y="185.8" font-family="'Liberation Serif', serif" font-size="7.4" font-weight="bold" text-anchor="start" fill="#111">HAPP2</text>
<line x1="26.3" y1="192.9" x2="41.6" y2="192.9" stroke="#4A78F0" stroke-width="1"/>
<path d="M33.95 194.46 L35.38 191.86 L32.52 191.86 Z" fill="#4A78F0"/>
<text x="43.8" y="195.4" font-family="'Liberation Serif', serif" font-size="7.4" font-weight="bold" text-anchor="start" fill="#111">HAPP3</text>
<line x1="26.3" y1="202.4" x2="41.6" y2="202.4" stroke="#5CEBCB" stroke-width="1"/>
<path d="M33.95 200.78 L35.25 202.4 L33.95 204.03 L32.65 202.4 Z" fill="#5CEBCB"/>
<text x="43.8" y="204.9" font-family="'Liberation Serif', serif" font-size="7.4" font-weight="bold" text-anchor="start" fill="#111">HAPP4</text>
<text x="94.9" y="295" font-family="'Liberation Serif', serif" font-size="7.5" font-weight="bold" text-anchor="middle" fill="#111">Time (h)</text>
<text x="9.8" y="216.6" font-family="'Liberation Serif', serif" font-size="7.64" font-weight="bold" text-anchor="middle" fill="#111" transform="rotate(-90 9.8 216.6)">Swelling ratio (g/g)</text>
<text x="172.5" y="158.7" font-family="'Liberation Sans', sans-serif" font-size="12" font-weight="bold" text-anchor="start" fill="#000">F</text>
<rect x="203.3" y="195.9" width="19.6" height="78.6" fill="#F4405E"/>
<rect x="230.6" y="206.4" width="19.6" height="68.1" fill="#F0892E"/>
<rect x="258" y="216.3" width="19.6" height="58.2" fill="#EBD35E"/>
<rect x="285.8" y="225.8" width="19.6" height="48.7" fill="#4282F5"/>
<rect x="313" y="237" width="19.6" height="37.5" fill="#76F6DA"/>
<line x1="213.1" y1="184.1" x2="213.1" y2="207.6" stroke="#111" stroke-width="0.9"/>
<line x1="207.9" y1="184.1" x2="218.3" y2="184.1" stroke="#111" stroke-width="0.9"/>
<line x1="207.9" y1="207.6" x2="218.3" y2="207.6" stroke="#111" stroke-width="0.9"/>
<circle cx="205.5" cy="186.1" r="1.2" fill="#fff" stroke="#3a3a3a" stroke-width="0.6"/>
<circle cx="220.6" cy="191.4" r="1.2" fill="#fff" stroke="#3a3a3a" stroke-width="0.6"/>
<circle cx="213.1" cy="192.4" r="1.2" fill="#fff" stroke="#3a3a3a" stroke-width="0.6"/>
<circle cx="215.1" cy="194.4" r="1.2" fill="#fff" stroke="#3a3a3a" stroke-width="0.6"/>
<circle cx="217.6" cy="195.7" r="1.2" fill="#fff" stroke="#3a3a3a" stroke-width="0.6"/>
<circle cx="208.6" cy="198.4" r="1.2" fill="#fff" stroke="#3a3a3a" stroke-width="0.6"/>
<circle cx="211.1" cy="200.9" r="1.2" fill="#fff" stroke="#3a3a3a" stroke-width="0.6"/>
<circle cx="213.1" cy="201.9" r="1.2" fill="#fff" stroke="#3a3a3a" stroke-width="0.6"/>
<circle cx="213.1" cy="205.3" r="1.2" fill="#fff" stroke="#3a3a3a" stroke-width="0.6"/>
<circle cx="213.1" cy="207.9" r="1.2" fill="#fff" stroke="#3a3a3a" stroke-width="0.6"/>
<line x1="240.4" y1="200.1" x2="240.4" y2="212.6" stroke="#111" stroke-width="0.9"/>
<line x1="235.2" y1="200.1" x2="245.6" y2="200.1" stroke="#111" stroke-width="0.9"/>
<line x1="235.2" y1="212.6" x2="245.6" y2="212.6" stroke="#111" stroke-width="0.9"/>
<circle cx="232.4" cy="204.4" r="1.2" fill="#fff" stroke="#3a3a3a" stroke-width="0.6"/>
<circle cx="234.4" cy="205.4" r="1.2" fill="#fff" stroke="#3a3a3a" stroke-width="0.6"/>
<circle cx="248.4" cy="204.4" r="1.2" fill="#fff" stroke="#3a3a3a" stroke-width="0.6"/>
<circle cx="246.4" cy="206.4" r="1.2" fill="#fff" stroke="#3a3a3a" stroke-width="0.6"/>
<circle cx="237.4" cy="207.4" r="1.2" fill="#fff" stroke="#3a3a3a" stroke-width="0.6"/>
<circle cx="240.4" cy="208.4" r="1.2" fill="#fff" stroke="#3a3a3a" stroke-width="0.6"/>
<circle cx="243.4" cy="206.4" r="1.2" fill="#fff" stroke="#3a3a3a" stroke-width="0.6"/>
<circle cx="240.4" cy="210.4" r="1.2" fill="#fff" stroke="#3a3a3a" stroke-width="0.6"/>
<circle cx="240.4" cy="212.4" r="1.2" fill="#fff" stroke="#3a3a3a" stroke-width="0.6"/>
<circle cx="240.4" cy="200.9" r="1.2" fill="#fff" stroke="#3a3a3a" stroke-width="0.6"/>
<line x1="267.8" y1="207.2" x2="267.8" y2="225.3" stroke="#111" stroke-width="0.9"/>
<line x1="262.6" y1="207.2" x2="273" y2="207.2" stroke="#111" stroke-width="0.9"/>
<line x1="262.6" y1="225.3" x2="273" y2="225.3" stroke="#111" stroke-width="0.9"/>
<circle cx="259.3" cy="212.3" r="1.2" fill="#fff" stroke="#3a3a3a" stroke-width="0.6"/>
<circle cx="276.3" cy="213.8" r="1.2" fill="#fff" stroke="#3a3a3a" stroke-width="0.6"/>
<circle cx="262.8" cy="215.3" r="1.2" fill="#fff" stroke="#3a3a3a" stroke-width="0.6"/>
<circle cx="264.8" cy="216.3" r="1.2" fill="#fff" stroke="#3a3a3a" stroke-width="0.6"/>
<circle cx="267.8" cy="216.8" r="1.2" fill="#fff" stroke="#3a3a3a" stroke-width="0.6"/>
<circle cx="270.8" cy="215.8" r="1.2" fill="#fff" stroke="#3a3a3a" stroke-width="0.6"/>
<circle cx="272.8" cy="216.8" r="1.2" fill="#fff" stroke="#3a3a3a" stroke-width="0.6"/>
<circle cx="267.8" cy="219.3" r="1.2" fill="#fff" stroke="#3a3a3a" stroke-width="0.6"/>
<circle cx="269.3" cy="222.6" r="1.2" fill="#fff" stroke="#3a3a3a" stroke-width="0.6"/>
<circle cx="267.8" cy="226.8" r="1.2" fill="#fff" stroke="#3a3a3a" stroke-width="0.6"/>
<line x1="295.6" y1="219.2" x2="295.6" y2="233.4" stroke="#111" stroke-width="0.9"/>
<line x1="290.4" y1="219.2" x2="300.8" y2="219.2" stroke="#111" stroke-width="0.9"/>
<line x1="290.4" y1="233.4" x2="300.8" y2="233.4" stroke="#111" stroke-width="0.9"/>
<circle cx="287.1" cy="224.8" r="1.2" fill="#fff" stroke="#3a3a3a" stroke-width="0.6"/>
<circle cx="290.1" cy="225.5" r="1.2" fill="#fff" stroke="#3a3a3a" stroke-width="0.6"/>
<circle cx="300.6" cy="226.4" r="1.2" fill="#fff" stroke="#3a3a3a" stroke-width="0.6"/>
<circle cx="303.8" cy="225.3" r="1.2" fill="#fff" stroke="#3a3a3a" stroke-width="0.6"/>
<circle cx="295.6" cy="217.8" r="1.2" fill="#fff" stroke="#3a3a3a" stroke-width="0.6"/>
<circle cx="292.1" cy="221.8" r="1.2" fill="#fff" stroke="#3a3a3a" stroke-width="0.6"/>
<circle cx="295.6" cy="223.8" r="1.2" fill="#fff" stroke="#3a3a3a" stroke-width="0.6"/>
<circle cx="295.6" cy="228.8" r="1.2" fill="#fff" stroke="#3a3a3a" stroke-width="0.6"/>
<circle cx="297.6" cy="231.3" r="1.2" fill="#fff" stroke="#3a3a3a" stroke-width="0.6"/>
<circle cx="295.6" cy="234.3" r="1.2" fill="#fff" stroke="#3a3a3a" stroke-width="0.6"/>
<line x1="322.8" y1="224.6" x2="322.8" y2="249.4" stroke="#111" stroke-width="0.9"/>
<line x1="317.6" y1="224.6" x2="328" y2="224.6" stroke="#111" stroke-width="0.9"/>
<line x1="317.6" y1="249.4" x2="328" y2="249.4" stroke="#111" stroke-width="0.9"/>
<circle cx="315.4" cy="232" r="1.2" fill="#fff" stroke="#3a3a3a" stroke-width="0.6"/>
<circle cx="330.3" cy="234.5" r="1.2" fill="#fff" stroke="#3a3a3a" stroke-width="0.6"/>
<circle cx="320.3" cy="237" r="1.2" fill="#fff" stroke="#3a3a3a" stroke-width="0.6"/>
<circle cx="325.3" cy="237" r="1.2" fill="#fff" stroke="#3a3a3a" stroke-width="0.6"/>
<circle cx="317.8" cy="241" r="1.2" fill="#fff" stroke="#3a3a3a" stroke-width="0.6"/>
<circle cx="327.8" cy="239" r="1.2" fill="#fff" stroke="#3a3a3a" stroke-width="0.6"/>
<circle cx="322.8" cy="230" r="1.2" fill="#fff" stroke="#3a3a3a" stroke-width="0.6"/>
<circle cx="322.8" cy="233" r="1.2" fill="#fff" stroke="#3a3a3a" stroke-width="0.6"/>
<circle cx="322.8" cy="245.2" r="1.2" fill="#fff" stroke="#3a3a3a" stroke-width="0.6"/>
<circle cx="322.8" cy="252.5" r="1.2" fill="#fff" stroke="#3a3a3a" stroke-width="0.6"/>
<rect x="195.5" y="158.5" width="145" height="116" fill="none" stroke="#222" stroke-width="0.9"/>
<line x1="194.5" y1="165.8" x2="195.5" y2="165.8" stroke="#222" stroke-width="0.8"/>
<text x="193.15" y="168.25" font-family="'Liberation Serif', serif" font-size="7.2" font-weight="bold" text-anchor="end" fill="#111">18</text>
<line x1="194.5" y1="202" x2="195.5" y2="202" stroke="#222" stroke-width="0.8"/>
<text x="193.15" y="204.45" font-family="'Liberation Serif', serif" font-size="7.2" font-weight="bold" text-anchor="end" fill="#111">15</text>
<line x1="194.5" y1="238.5" x2="195.5" y2="238.5" stroke="#222" stroke-width="0.8"/>
<text x="193.15" y="240.95" font-family="'Liberation Serif', serif" font-size="7.2" font-weight="bold" text-anchor="end" fill="#111">13</text>
<line x1="194.5" y1="274.5" x2="195.5" y2="274.5" stroke="#222" stroke-width="0.8"/>
<text x="193.15" y="276.95" font-family="'Liberation Serif', serif" font-size="7.2" font-weight="bold" text-anchor="end" fill="#111">10</text>
<line x1="194.2" y1="183.9" x2="195.5" y2="183.9" stroke="#222" stroke-width="0.7"/>
<line x1="194.2" y1="220.2" x2="195.5" y2="220.2" stroke="#222" stroke-width="0.7"/>
<line x1="194.2" y1="256.5" x2="195.5" y2="256.5" stroke="#222" stroke-width="0.7"/>
<rect x="293.1" y="160.4" width="17.5" height="8.4" fill="#F4405E"/>
<text x="312.8" y="167.2" font-family="'Liberation Serif', serif" font-size="7.4" font-weight="bold" text-anchor="start" fill="#111">HAP</text>
<rect x="293.1" y="170.2" width="17.5" height="8.4" fill="#F0892E"/>
<text x="312.8" y="177" font-family="'Liberation Serif', serif" font-size="7.4" font-weight="bold" text-anchor="start" fill="#111">HAPP1</text>
<rect x="293.1" y="179.7" width="17.5" height="8.4" fill="#EBD35E"/>
<text x="312.8" y="186.5" font-family="'Liberation Serif', serif" font-size="7.4" font-weight="bold" text-anchor="start" fill="#111">HAPP2</text>
<rect x="293.1" y="189.3" width="17.5" height="8.4" fill="#4282F5"/>
<text x="312.8" y="196.1" font-family="'Liberation Serif', serif" font-size="7.4" font-weight="bold" text-anchor="start" fill="#111">HAPP3</text>
<rect x="293.1" y="199.1" width="17.5" height="8.4" fill="#76F6DA"/>
<text x="312.8" y="205.9" font-family="'Liberation Serif', serif" font-size="7.4" font-weight="bold" text-anchor="start" fill="#111">HAPP4</text>
<text x="182.6" y="218.6" font-family="'Liberation Serif', serif" font-size="8.75" font-weight="bold" text-anchor="middle" fill="#111" transform="rotate(-90 182.6 218.6)">Equilibrium swelling ratio (g/g)</text>
<text x="345.2" y="159" font-family="'Liberation Sans', sans-serif" font-size="12" font-weight="bold" text-anchor="start" fill="#000">G</text>
<path d="M370.6 158.2 L387.6 185.04 L404.6 206.93 L421.6 226 L438.6 240.97 L455.61 252.84 L472.61 260.47 L489.61 264 L506.61 264.7" stroke="#F4505E" fill="none" stroke-width="0.9"/>
<rect x="369.3" y="156.9" width="2.6" height="2.6" fill="#F4505E"/>
<line x1="387.6" y1="182.54" x2="387.6" y2="187.54" stroke="#F4505E" stroke-width="0.6"/>
<line x1="386.6" y1="182.54" x2="388.6" y2="182.54" stroke="#F4505E" stroke-width="0.6"/>
<line x1="386.6" y1="187.54" x2="388.6" y2="187.54" stroke="#F4505E" stroke-width="0.6"/>
<rect x="386.3" y="183.74" width="2.6" height="2.6" fill="#F4505E"/>
<line x1="404.6" y1="204.43" x2="404.6" y2="209.43" stroke="#F4505E" stroke-width="0.6"/>
<line x1="403.6" y1="204.43" x2="405.6" y2="204.43" stroke="#F4505E" stroke-width="0.6"/>
<line x1="403.6" y1="209.43" x2="405.6" y2="209.43" stroke="#F4505E" stroke-width="0.6"/>
<rect x="403.3" y="205.63" width="2.6" height="2.6" fill="#F4505E"/>
<line x1="421.6" y1="223.5" x2="421.6" y2="228.5" stroke="#F4505E" stroke-width="0.6"/>
<line x1="420.6" y1="223.5" x2="422.6" y2="223.5" stroke="#F4505E" stroke-width="0.6"/>
<line x1="420.6" y1="228.5" x2="422.6" y2="228.5" stroke="#F4505E" stroke-width="0.6"/>
<rect x="420.3" y="224.7" width="2.6" height="2.6" fill="#F4505E"/>
<line x1="438.6" y1="238.47" x2="438.6" y2="243.47" stroke="#F4505E" stroke-width="0.6"/>
<line x1="437.6" y1="238.47" x2="439.6" y2="238.47" stroke="#F4505E" stroke-width="0.6"/>
<line x1="437.6" y1="243.47" x2="439.6" y2="243.47" stroke="#F4505E" stroke-width="0.6"/>
<rect x="437.3" y="239.67" width="2.6" height="2.6" fill="#F4505E"/>
<line x1="455.61" y1="249.84" x2="455.61" y2="255.84" stroke="#F4505E" stroke-width="0.6"/>
<line x1="454.61" y1="249.84" x2="456.61" y2="249.84" stroke="#F4505E" stroke-width="0.6"/>
<line x1="454.61" y1="255.84" x2="456.61" y2="255.84" stroke="#F4505E" stroke-width="0.6"/>
<rect x="454.31" y="251.54" width="2.6" height="2.6" fill="#F4505E"/>
<line x1="472.61" y1="256.97" x2="472.61" y2="263.97" stroke="#F4505E" stroke-width="0.6"/>
<line x1="471.61" y1="256.97" x2="473.61" y2="256.97" stroke="#F4505E" stroke-width="0.6"/>
<line x1="471.61" y1="263.97" x2="473.61" y2="263.97" stroke="#F4505E" stroke-width="0.6"/>
<rect x="471.31" y="259.17" width="2.6" height="2.6" fill="#F4505E"/>
<line x1="489.61" y1="260.5" x2="489.61" y2="267.5" stroke="#F4505E" stroke-width="0.6"/>
<line x1="488.61" y1="260.5" x2="490.61" y2="260.5" stroke="#F4505E" stroke-width="0.6"/>
<line x1="488.61" y1="267.5" x2="490.61" y2="267.5" stroke="#F4505E" stroke-width="0.6"/>
<rect x="488.31" y="262.7" width="2.6" height="2.6" fill="#F4505E"/>
<line x1="506.61" y1="261.2" x2="506.61" y2="268.2" stroke="#F4505E" stroke-width="0.6"/>
<line x1="505.61" y1="261.2" x2="507.61" y2="261.2" stroke="#F4505E" stroke-width="0.6"/>
<line x1="505.61" y1="268.2" x2="507.61" y2="268.2" stroke="#F4505E" stroke-width="0.6"/>
<rect x="505.31" y="263.4" width="2.6" height="2.6" fill="#F4505E"/>
<path d="M370.6 158.2 L387.6 183.62 L404.6 204.81 L421.6 223.18 L438.6 238.43 L455.61 250.01 L472.61 257.07 L489.61 260.47 L506.61 261.17" stroke="#F0853A" fill="none" stroke-width="0.9"/>
<circle cx="370.6" cy="158.2" r="1.37" fill="#F0853A"/>
<line x1="387.6" y1="181.12" x2="387.6" y2="186.12" stroke="#F0853A" stroke-width="0.6"/>
<line x1="386.6" y1="181.12" x2="388.6" y2="181.12" stroke="#F0853A" stroke-width="0.6"/>
<line x1="386.6" y1="186.12" x2="388.6" y2="186.12" stroke="#F0853A" stroke-width="0.6"/>
<circle cx="387.6" cy="183.62" r="1.37" fill="#F0853A"/>
<line x1="404.6" y1="202.31" x2="404.6" y2="207.31" stroke="#F0853A" stroke-width="0.6"/>
<line x1="403.6" y1="202.31" x2="405.6" y2="202.31" stroke="#F0853A" stroke-width="0.6"/>
<line x1="403.6" y1="207.31" x2="405.6" y2="207.31" stroke="#F0853A" stroke-width="0.6"/>
<circle cx="404.6" cy="204.81" r="1.37" fill="#F0853A"/>
<line x1="421.6" y1="220.68" x2="421.6" y2="225.68" stroke="#F0853A" stroke-width="0.6"/>
<line x1="420.6" y1="220.68" x2="422.6" y2="220.68" stroke="#F0853A" stroke-width="0.6"/>
<line x1="420.6" y1="225.68" x2="422.6" y2="225.68" stroke="#F0853A" stroke-width="0.6"/>
<circle cx="421.6" cy="223.18" r="1.37" fill="#F0853A"/>
<line x1="438.6" y1="235.93" x2="438.6" y2="240.93" stroke="#F0853A" stroke-width="0.6"/>
<line x1="437.6" y1="235.93" x2="439.6" y2="235.93" stroke="#F0853A" stroke-width="0.6"/>
<line x1="437.6" y1="240.93" x2="439.6" y2="240.93" stroke="#F0853A" stroke-width="0.6"/>
<circle cx="438.6" cy="238.43" r="1.37" fill="#F0853A"/>
<line x1="455.61" y1="247.01" x2="455.61" y2="253.01" stroke="#F0853A" stroke-width="0.6"/>
<line x1="454.61" y1="247.01" x2="456.61" y2="247.01" stroke="#F0853A" stroke-width="0.6"/>
<line x1="454.61" y1="253.01" x2="456.61" y2="253.01" stroke="#F0853A" stroke-width="0.6"/>
<circle cx="455.61" cy="250.01" r="1.37" fill="#F0853A"/>
<line x1="472.61" y1="253.57" x2="472.61" y2="260.57" stroke="#F0853A" stroke-width="0.6"/>
<line x1="471.61" y1="253.57" x2="473.61" y2="253.57" stroke="#F0853A" stroke-width="0.6"/>
<line x1="471.61" y1="260.57" x2="473.61" y2="260.57" stroke="#F0853A" stroke-width="0.6"/>
<circle cx="472.61" cy="257.07" r="1.37" fill="#F0853A"/>
<line x1="489.61" y1="256.97" x2="489.61" y2="263.97" stroke="#F0853A" stroke-width="0.6"/>
<line x1="488.61" y1="256.97" x2="490.61" y2="256.97" stroke="#F0853A" stroke-width="0.6"/>
<line x1="488.61" y1="263.97" x2="490.61" y2="263.97" stroke="#F0853A" stroke-width="0.6"/>
<circle cx="489.61" cy="260.47" r="1.37" fill="#F0853A"/>
<line x1="506.61" y1="257.67" x2="506.61" y2="264.67" stroke="#F0853A" stroke-width="0.6"/>
<line x1="505.61" y1="257.67" x2="507.61" y2="257.67" stroke="#F0853A" stroke-width="0.6"/>
<line x1="505.61" y1="264.67" x2="507.61" y2="264.67" stroke="#F0853A" stroke-width="0.6"/>
<circle cx="506.61" cy="261.17" r="1.37" fill="#F0853A"/>
<path d="M370.6 158.2 L387.6 182.21 L404.6 202.69 L421.6 220.35 L438.6 235.46 L455.61 246.48 L472.61 253.83 L489.61 256.37 L506.61 257.36" stroke="#F2CC5A" fill="none" stroke-width="0.9"/>
<path d="M370.6 156.64 L372.03 159.24 L369.17 159.24 Z" fill="#F2CC5A"/>
<line x1="387.6" y1="179.71" x2="387.6" y2="184.71" stroke="#F2CC5A" stroke-width="0.6"/>
<line x1="386.6" y1="179.71" x2="388.6" y2="179.71" stroke="#F2CC5A" stroke-width="0.6"/>
<line x1="386.6" y1="184.71" x2="388.6" y2="184.71" stroke="#F2CC5A" stroke-width="0.6"/>
<path d="M387.6 180.65 L389.03 183.25 L386.17 183.25 Z" fill="#F2CC5A"/>
<line x1="404.6" y1="200.19" x2="404.6" y2="205.19" stroke="#F2CC5A" stroke-width="0.6"/>
<line x1="403.6" y1="200.19" x2="405.6" y2="200.19" stroke="#F2CC5A" stroke-width="0.6"/>
<line x1="403.6" y1="205.19" x2="405.6" y2="205.19" stroke="#F2CC5A" stroke-width="0.6"/>
<path d="M404.6 201.13 L406.03 203.73 L403.17 203.73 Z" fill="#F2CC5A"/>
<line x1="421.6" y1="217.85" x2="421.6" y2="222.85" stroke="#F2CC5A" stroke-width="0.6"/>
<line x1="420.6" y1="217.85" x2="422.6" y2="217.85" stroke="#F2CC5A" stroke-width="0.6"/>
<line x1="420.6" y1="222.85" x2="422.6" y2="222.85" stroke="#F2CC5A" stroke-width="0.6"/>
<path d="M421.6 218.79 L423.03 221.39 L420.17 221.39 Z" fill="#F2CC5A"/>
<line x1="438.6" y1="232.96" x2="438.6" y2="237.96" stroke="#F2CC5A" stroke-width="0.6"/>
<line x1="437.6" y1="232.96" x2="439.6" y2="232.96" stroke="#F2CC5A" stroke-width="0.6"/>
<line x1="437.6" y1="237.96" x2="439.6" y2="237.96" stroke="#F2CC5A" stroke-width="0.6"/>
<path d="M438.6 233.9 L440.03 236.5 L437.17 236.5 Z" fill="#F2CC5A"/>
<line x1="455.61" y1="243.48" x2="455.61" y2="249.48" stroke="#F2CC5A" stroke-width="0.6"/>
<line x1="454.61" y1="243.48" x2="456.61" y2="243.48" stroke="#F2CC5A" stroke-width="0.6"/>
<line x1="454.61" y1="249.48" x2="456.61" y2="249.48" stroke="#F2CC5A" stroke-width="0.6"/>
<path d="M455.61 244.92 L457.04 247.52 L454.18 247.52 Z" fill="#F2CC5A"/>
<line x1="472.61" y1="250.33" x2="472.61" y2="257.33" stroke="#F2CC5A" stroke-width="0.6"/>
<line x1="471.61" y1="250.33" x2="473.61" y2="250.33" stroke="#F2CC5A" stroke-width="0.6"/>
<line x1="471.61" y1="257.33" x2="473.61" y2="257.33" stroke="#F2CC5A" stroke-width="0.6"/>
<path d="M472.61 252.27 L474.04 254.87 L471.18 254.87 Z" fill="#F2CC5A"/>
<line x1="489.61" y1="252.87" x2="489.61" y2="259.87" stroke="#F2CC5A" stroke-width="0.6"/>
<line x1="488.61" y1="252.87" x2="490.61" y2="252.87" stroke="#F2CC5A" stroke-width="0.6"/>
<line x1="488.61" y1="259.87" x2="490.61" y2="259.87" stroke="#F2CC5A" stroke-width="0.6"/>
<path d="M489.61 254.81 L491.04 257.41 L488.18 257.41 Z" fill="#F2CC5A"/>
<line x1="506.61" y1="253.86" x2="506.61" y2="260.86" stroke="#F2CC5A" stroke-width="0.6"/>
<line x1="505.61" y1="253.86" x2="507.61" y2="253.86" stroke="#F2CC5A" stroke-width="0.6"/>
<line x1="505.61" y1="260.86" x2="507.61" y2="260.86" stroke="#F2CC5A" stroke-width="0.6"/>
<path d="M506.61 255.8 L508.04 258.4 L505.18 258.4 Z" fill="#F2CC5A"/>
<path d="M370.6 158.2 L387.6 180.8 L404.6 201.28 L421.6 218.23 L438.6 232.21 L455.61 242.81 L472.61 249.73 L489.61 252.27 L506.61 253.26" stroke="#4A78F0" fill="none" stroke-width="0.9"/>
<path d="M370.6 159.76 L372.03 157.16 L369.17 157.16 Z" fill="#4A78F0"/>
<line x1="387.6" y1="178.3" x2="387.6" y2="183.3" stroke="#4A78F0" stroke-width="0.6"/>
<line x1="386.6" y1="178.3" x2="388.6" y2="178.3" stroke="#4A78F0" stroke-width="0.6"/>
<line x1="386.6" y1="183.3" x2="388.6" y2="183.3" stroke="#4A78F0" stroke-width="0.6"/>
<path d="M387.6 182.36 L389.03 179.76 L386.17 179.76 Z" fill="#4A78F0"/>
<line x1="404.6" y1="198.78" x2="404.6" y2="203.78" stroke="#4A78F0" stroke-width="0.6"/>
<line x1="403.6" y1="198.78" x2="405.6" y2="198.78" stroke="#4A78F0" stroke-width="0.6"/>
<line x1="403.6" y1="203.78" x2="405.6" y2="203.78" stroke="#4A78F0" stroke-width="0.6"/>
<path d="M404.6 202.84 L406.03 200.24 L403.17 200.24 Z" fill="#4A78F0"/>
<line x1="421.6" y1="215.73" x2="421.6" y2="220.73" stroke="#4A78F0" stroke-width="0.6"/>
<line x1="420.6" y1="215.73" x2="422.6" y2="215.73" stroke="#4A78F0" stroke-width="0.6"/>
<line x1="420.6" y1="220.73" x2="422.6" y2="220.73" stroke="#4A78F0" stroke-width="0.6"/>
<path d="M421.6 219.79 L423.03 217.19 L420.17 217.19 Z" fill="#4A78F0"/>
<line x1="438.6" y1="229.71" x2="438.6" y2="234.71" stroke="#4A78F0" stroke-width="0.6"/>
<line x1="437.6" y1="229.71" x2="439.6" y2="229.71" stroke="#4A78F0" stroke-width="0.6"/>
<line x1="437.6" y1="234.71" x2="439.6" y2="234.71" stroke="#4A78F0" stroke-width="0.6"/>
<path d="M438.6 233.77 L440.03 231.17 L437.17 231.17 Z" fill="#4A78F0"/>
<line x1="455.61" y1="239.81" x2="455.61" y2="245.81" stroke="#4A78F0" stroke-width="0.6"/>
<line x1="454.61" y1="239.81" x2="456.61" y2="239.81" stroke="#4A78F0" stroke-width="0.6"/>
<line x1="454.61" y1="245.81" x2="456.61" y2="245.81" stroke="#4A78F0" stroke-width="0.6"/>
<path d="M455.61 244.37 L457.04 241.77 L454.18 241.77 Z" fill="#4A78F0"/>
<line x1="472.61" y1="246.23" x2="472.61" y2="253.23" stroke="#4A78F0" stroke-width="0.6"/>
<line x1="471.61" y1="246.23" x2="473.61" y2="246.23" stroke="#4A78F0" stroke-width="0.6"/>
<line x1="471.61" y1="253.23" x2="473.61" y2="253.23" stroke="#4A78F0" stroke-width="0.6"/>
<path d="M472.61 251.29 L474.04 248.69 L471.18 248.69 Z" fill="#4A78F0"/>
<line x1="489.61" y1="248.77" x2="489.61" y2="255.77" stroke="#4A78F0" stroke-width="0.6"/>
<line x1="488.61" y1="248.77" x2="490.61" y2="248.77" stroke="#4A78F0" stroke-width="0.6"/>
<line x1="488.61" y1="255.77" x2="490.61" y2="255.77" stroke="#4A78F0" stroke-width="0.6"/>
<path d="M489.61 253.83 L491.04 251.23 L488.18 251.23 Z" fill="#4A78F0"/>
<line x1="506.61" y1="249.76" x2="506.61" y2="256.76" stroke="#4A78F0" stroke-width="0.6"/>
<line x1="505.61" y1="249.76" x2="507.61" y2="249.76" stroke="#4A78F0" stroke-width="0.6"/>
<line x1="505.61" y1="256.76" x2="507.61" y2="256.76" stroke="#4A78F0" stroke-width="0.6"/>
<path d="M506.61 254.82 L508.04 252.22 L505.18 252.22 Z" fill="#4A78F0"/>
<path d="M370.6 158.2 L387.6 179.39 L404.6 199.16 L421.6 216.11 L438.6 229.53 L455.61 239.84 L472.61 246.48 L489.61 248.74 L506.61 249.73" stroke="#5CEBCB" fill="none" stroke-width="0.9"/>
<path d="M370.6 156.57 L371.9 158.2 L370.6 159.82 L369.3 158.2 Z" fill="#5CEBCB"/>
<line x1="387.6" y1="176.89" x2="387.6" y2="181.89" stroke="#5CEBCB" stroke-width="0.6"/>
<line x1="386.6" y1="176.89" x2="388.6" y2="176.89" stroke="#5CEBCB" stroke-width="0.6"/>
<line x1="386.6" y1="181.89" x2="388.6" y2="181.89" stroke="#5CEBCB" stroke-width="0.6"/>
<path d="M387.6 177.76 L388.9 179.39 L387.6 181.01 L386.3 179.39 Z" fill="#5CEBCB"/>
<line x1="404.6" y1="196.66" x2="404.6" y2="201.66" stroke="#5CEBCB" stroke-width="0.6"/>
<line x1="403.6" y1="196.66" x2="405.6" y2="196.66" stroke="#5CEBCB" stroke-width="0.6"/>
<line x1="403.6" y1="201.66" x2="405.6" y2="201.66" stroke="#5CEBCB" stroke-width="0.6"/>
<path d="M404.6 197.54 L405.9 199.16 L404.6 200.79 L403.3 199.16 Z" fill="#5CEBCB"/>
<line x1="421.6" y1="213.61" x2="421.6" y2="218.61" stroke="#5CEBCB" stroke-width="0.6"/>
<line x1="420.6" y1="213.61" x2="422.6" y2="213.61" stroke="#5CEBCB" stroke-width="0.6"/>
<line x1="420.6" y1="218.61" x2="422.6" y2="218.61" stroke="#5CEBCB" stroke-width="0.6"/>
<path d="M421.6 214.49 L422.9 216.11 L421.6 217.74 L420.3 216.11 Z" fill="#5CEBCB"/>
<line x1="438.6" y1="227.03" x2="438.6" y2="232.03" stroke="#5CEBCB" stroke-width="0.6"/>
<line x1="437.6" y1="227.03" x2="439.6" y2="227.03" stroke="#5CEBCB" stroke-width="0.6"/>
<line x1="437.6" y1="232.03" x2="439.6" y2="232.03" stroke="#5CEBCB" stroke-width="0.6"/>
<path d="M438.6 227.91 L439.9 229.53 L438.6 231.16 L437.3 229.53 Z" fill="#5CEBCB"/>
<line x1="455.61" y1="236.84" x2="455.61" y2="242.84" stroke="#5CEBCB" stroke-width="0.6"/>
<line x1="454.61" y1="236.84" x2="456.61" y2="236.84" stroke="#5CEBCB" stroke-width="0.6"/>
<line x1="454.61" y1="242.84" x2="456.61" y2="242.84" stroke="#5CEBCB" stroke-width="0.6"/>
<path d="M455.61 238.22 L456.91 239.84 L455.61 241.47 L454.31 239.84 Z" fill="#5CEBCB"/>
<line x1="472.61" y1="242.98" x2="472.61" y2="249.98" stroke="#5CEBCB" stroke-width="0.6"/>
<line x1="471.61" y1="242.98" x2="473.61" y2="242.98" stroke="#5CEBCB" stroke-width="0.6"/>
<line x1="471.61" y1="249.98" x2="473.61" y2="249.98" stroke="#5CEBCB" stroke-width="0.6"/>
<path d="M472.61 244.86 L473.91 246.48 L472.61 248.11 L471.31 246.48 Z" fill="#5CEBCB"/>
<line x1="489.61" y1="245.24" x2="489.61" y2="252.24" stroke="#5CEBCB" stroke-width="0.6"/>
<line x1="488.61" y1="245.24" x2="490.61" y2="245.24" stroke="#5CEBCB" stroke-width="0.6"/>
<line x1="488.61" y1="252.24" x2="490.61" y2="252.24" stroke="#5CEBCB" stroke-width="0.6"/>
<path d="M489.61 247.12 L490.91 248.74 L489.61 250.37 L488.31 248.74 Z" fill="#5CEBCB"/>
<line x1="506.61" y1="246.23" x2="506.61" y2="253.23" stroke="#5CEBCB" stroke-width="0.6"/>
<line x1="505.61" y1="246.23" x2="507.61" y2="246.23" stroke="#5CEBCB" stroke-width="0.6"/>
<line x1="505.61" y1="253.23" x2="507.61" y2="253.23" stroke="#5CEBCB" stroke-width="0.6"/>
<path d="M506.61 248.1 L507.91 249.73 L506.61 251.35 L505.31 249.73 Z" fill="#5CEBCB"/>
<rect x="370.8" y="158.2" width="141.8" height="113" fill="none" stroke="#222" stroke-width="0.9"/>
<line x1="368.6" y1="271.2" x2="370.8" y2="271.2" stroke="#222" stroke-width="0.8"/>
<text x="366.25" y="273.65" font-family="'Liberation Serif', serif" font-size="7.2" font-weight="bold" text-anchor="end" fill="#111">20</text>
<line x1="368.6" y1="257.07" x2="370.8" y2="257.07" stroke="#222" stroke-width="0.8"/>
<text x="366.25" y="259.52" font-family="'Liberation Serif', serif" font-size="7.2" font-weight="bold" text-anchor="end" fill="#111">30</text>
<line x1="368.6" y1="242.95" x2="370.8" y2="242.95" stroke="#222" stroke-width="0.8"/>
<text x="366.25" y="245.4" font-family="'Liberation Serif', serif" font-size="7.2" font-weight="bold" text-anchor="end" fill="#111">40</text>
<line x1="368.6" y1="228.82" x2="370.8" y2="228.82" stroke="#222" stroke-width="0.8"/>
<text x="366.25" y="231.27" font-family="'Liberation Serif', serif" font-size="7.2" font-weight="bold" text-anchor="end" fill="#111">50</text>
<line x1="368.6" y1="214.7" x2="370.8" y2="214.7" stroke="#222" stroke-width="0.8"/>
<text x="366.25" y="217.15" font-family="'Liberation Serif', serif" font-size="7.2" font-weight="bold" text-anchor="end" fill="#111">60</text>
<line x1="368.6" y1="200.57" x2="370.8" y2="200.57" stroke="#222" stroke-width="0.8"/>
<text x="366.25" y="203.02" font-family="'Liberation Serif', serif" font-size="7.2" font-weight="bold" text-anchor="end" fill="#111">70</text>
<line x1="368.6" y1="186.45" x2="370.8" y2="186.45" stroke="#222" stroke-width="0.8"/>
<text x="366.25" y="188.9" font-family="'Liberation Serif', serif" font-size="7.2" font-weight="bold" text-anchor="end" fill="#111">80</text>
<line x1="368.6" y1="172.32" x2="370.8" y2="172.32" stroke="#222" stroke-width="0.8"/>
<text x="366.25" y="174.77" font-family="'Liberation Serif', serif" font-size="7.2" font-weight="bold" text-anchor="end" fill="#111">90</text>
<line x1="368.6" y1="158.2" x2="370.8" y2="158.2" stroke="#222" stroke-width="0.8"/>
<text x="366.25" y="160.65" font-family="'Liberation Serif', serif" font-size="7.2" font-weight="bold" text-anchor="end" fill="#111">100</text>
<line x1="370.6" y1="271.2" x2="370.6" y2="272.7" stroke="#222" stroke-width="0.8"/>
<text x="370.6" y="280.5" font-family="'Liberation Serif', serif" font-size="7.2" font-weight="bold" text-anchor="middle" fill="#111">0</text>
<line x1="387.6" y1="271.2" x2="387.6" y2="272.7" stroke="#222" stroke-width="0.8"/>
<text x="387.6" y="280.5" font-family="'Liberation Serif', serif" font-size="7.2" font-weight="bold" text-anchor="middle" fill="#111">3</text>
<line x1="404.6" y1="271.2" x2="404.6" y2="272.7" stroke="#222" stroke-width="0.8"/>
<text x="404.6" y="280.5" font-family="'Liberation Serif', serif" font-size="7.2" font-weight="bold" text-anchor="middle" fill="#111">6</text>
<line x1="421.6" y1="271.2" x2="421.6" y2="272.7" stroke="#222" stroke-width="0.8"/>
<text x="421.6" y="280.5" font-family="'Liberation Serif', serif" font-size="7.2" font-weight="bold" text-anchor="middle" fill="#111">9</text>
<line x1="438.6" y1="271.2" x2="438.6" y2="272.7" stroke="#222" stroke-width="0.8"/>
<text x="438.6" y="280.5" font-family="'Liberation Serif', serif" font-size="7.2" font-weight="bold" text-anchor="middle" fill="#111">12</text>
<line x1="455.61" y1="271.2" x2="455.61" y2="272.7" stroke="#222" stroke-width="0.8"/>
<text x="455.61" y="280.5" font-family="'Liberation Serif', serif" font-size="7.2" font-weight="bold" text-anchor="middle" fill="#111">15</text>
<line x1="472.61" y1="271.2" x2="472.61" y2="272.7" stroke="#222" stroke-width="0.8"/>
<text x="472.61" y="280.5" font-family="'Liberation Serif', serif" font-size="7.2" font-weight="bold" text-anchor="middle" fill="#111">18</text>
<line x1="489.61" y1="271.2" x2="489.61" y2="272.7" stroke="#222" stroke-width="0.8"/>
<text x="489.61" y="280.5" font-family="'Liberation Serif', serif" font-size="7.2" font-weight="bold" text-anchor="middle" fill="#111">21</text>
<line x1="506.61" y1="271.2" x2="506.61" y2="272.7" stroke="#222" stroke-width="0.8"/>
<text x="506.61" y="280.5" font-family="'Liberation Serif', serif" font-size="7.2" font-weight="bold" text-anchor="middle" fill="#111">24</text>
<line x1="379.1" y1="271.2" x2="379.1" y2="272.5" stroke="#222" stroke-width="0.7"/>
<line x1="396.1" y1="271.2" x2="396.1" y2="272.5" stroke="#222" stroke-width="0.7"/>
<line x1="413.1" y1="271.2" x2="413.1" y2="272.5" stroke="#222" stroke-width="0.7"/>
<line x1="430.1" y1="271.2" x2="430.1" y2="272.5" stroke="#222" stroke-width="0.7"/>
<line x1="447.1" y1="271.2" x2="447.1" y2="272.5" stroke="#222" stroke-width="0.7"/>
<line x1="464.11" y1="271.2" x2="464.11" y2="272.5" stroke="#222" stroke-width="0.7"/>
<line x1="481.11" y1="271.2" x2="481.11" y2="272.5" stroke="#222" stroke-width="0.7"/>
<line x1="498.11" y1="271.2" x2="498.11" y2="272.5" stroke="#222" stroke-width="0.7"/>
<line x1="469.9" y1="163.4" x2="484.8" y2="163.4" stroke="#F4505E" stroke-width="1"/>
<rect x="476.05" y="162.1" width="2.6" height="2.6" fill="#F4505E"/>
<text x="487" y="165.9" font-family="'Liberation Serif', serif" font-size="7.4" font-weight="bold" text-anchor="start" fill="#111">HAP</text>
<line x1="469.9" y1="172.6" x2="484.8" y2="172.6" stroke="#F0853A" stroke-width="1"/>
<circle cx="477.35" cy="172.6" r="1.37" fill="#F0853A"/>
<text x="487" y="175.1" font-family="'Liberation Serif', serif" font-size="7.4" font-weight="bold" text-anchor="start" fill="#111">HAPP1</text>
<line x1="469.9" y1="181.8" x2="484.8" y2="181.8" stroke="#F2CC5A" stroke-width="1"/>
<path d="M477.35 180.24 L478.78 182.84 L475.92 182.84 Z" fill="#F2CC5A"/>
<text x="487" y="184.3" font-family="'Liberation Serif', serif" font-size="7.4" font-weight="bold" text-anchor="start" fill="#111">HAPP2</text>
<line x1="469.9" y1="191.3" x2="484.8" y2="191.3" stroke="#4A78F0" stroke-width="1"/>
<path d="M477.35 192.86 L478.78 190.26 L475.92 190.26 Z" fill="#4A78F0"/>
<text x="487" y="193.8" font-family="'Liberation Serif', serif" font-size="7.4" font-weight="bold" text-anchor="start" fill="#111">HAPP3</text>
<line x1="469.9" y1="200.7" x2="484.8" y2="200.7" stroke="#5CEBCB" stroke-width="1"/>
<path d="M477.35 199.07 L478.65 200.7 L477.35 202.32 L476.05 200.7 Z" fill="#5CEBCB"/>
<text x="487" y="203.2" font-family="'Liberation Serif', serif" font-size="7.4" font-weight="bold" text-anchor="start" fill="#111">HAPP4</text>
<text x="441.7" y="290.3" font-family="'Liberation Serif', serif" font-size="7.3" font-weight="bold" text-anchor="middle" fill="#111">Time (days)</text>
<text x="354.5" y="214.3" font-family="'Liberation Serif', serif" font-size="7.5" font-weight="bold" text-anchor="middle" fill="#111" transform="rotate(-90 354.5 214.3)">Remaining weight (%)</text>
<text x="518.1" y="158.7" font-family="'Liberation Sans', sans-serif" font-size="12" font-weight="bold" text-anchor="start" fill="#000">H</text>
<line x1="541" y1="177.7" x2="680.4" y2="177.7" stroke="#F4505E" stroke-width="1.1"/>
<line x1="541" y1="176" x2="680.4" y2="176" stroke="#F0853A" stroke-width="1.1"/>
<line x1="541" y1="174.8" x2="680.4" y2="174.8" stroke="#F2CC5A" stroke-width="1.1"/>
<line x1="541" y1="172.9" x2="680.4" y2="172.9" stroke="#4A78F0" stroke-width="1.1"/>
<line x1="541" y1="170.5" x2="680.4" y2="170.5" stroke="#5CEBCB" stroke-width="1.1"/>
<line x1="541" y1="214.5" x2="680.4" y2="214.5" stroke="#F4505E" stroke-width="0.9" stroke-dasharray="1.2 1.0"/>
<line x1="541" y1="211.4" x2="680.4" y2="211.4" stroke="#F0853A" stroke-width="0.9" stroke-dasharray="1.2 1.0"/>
<line x1="541" y1="208.5" x2="680.4" y2="208.5" stroke="#F2CC5A" stroke-width="0.9" stroke-dasharray="1.2 1.0"/>
<line x1="541" y1="206.6" x2="680.4" y2="206.6" stroke="#4A78F0" stroke-width="0.9" stroke-dasharray="1.2 1.0"/>
<line x1="541" y1="202.5" x2="680.4" y2="202.5" stroke="#5CEBCB" stroke-width="0.9" stroke-dasharray="1.2 1.0"/>
<rect x="540.5" y="157.3" width="140.4" height="113.1" fill="none" stroke="#222" stroke-width="0.9"/>
<line x1="538.7" y1="165.7" x2="540.5" y2="165.7" stroke="#222" stroke-width="0.8"/>
<line x1="538.7" y1="250" x2="540.5" y2="250" stroke="#222" stroke-width="0.8"/>
<line x1="539.4" y1="224.62" x2="540.5" y2="224.62" stroke="#222" stroke-width="0.6"/>
<line x1="539.4" y1="209.78" x2="540.5" y2="209.78" stroke="#222" stroke-width="0.6"/>
<line x1="539.4" y1="199.25" x2="540.5" y2="199.25" stroke="#222" stroke-width="0.6"/>
<line x1="539.4" y1="191.08" x2="540.5" y2="191.08" stroke="#222" stroke-width="0.6"/>
<line x1="539.4" y1="184.4" x2="540.5" y2="184.4" stroke="#222" stroke-width="0.6"/>
<line x1="539.4" y1="178.76" x2="540.5" y2="178.76" stroke="#222" stroke-width="0.6"/>
<line x1="539.4" y1="173.87" x2="540.5" y2="173.87" stroke="#222" stroke-width="0.6"/>
<line x1="539.4" y1="169.56" x2="540.5" y2="169.56" stroke="#222" stroke-width="0.6"/>
<line x1="539.4" y1="268.7" x2="540.5" y2="268.7" stroke="#222" stroke-width="0.6"/>
<line x1="539.4" y1="263.06" x2="540.5" y2="263.06" stroke="#222" stroke-width="0.6"/>
<line x1="539.4" y1="258.17" x2="540.5" y2="258.17" stroke="#222" stroke-width="0.6"/>
<line x1="539.4" y1="253.86" x2="540.5" y2="253.86" stroke="#222" stroke-width="0.6"/>
<text x="536.3" y="165.6" font-family="'Liberation Serif', serif" font-size="7.2" font-weight="bold" text-anchor="middle" fill="#111" transform="rotate(-90 536.3 165.6)">10000</text>
<text x="536.3" y="247" font-family="'Liberation Serif', serif" font-size="7.2" font-weight="bold" text-anchor="middle" fill="#111" transform="rotate(-90 536.3 247)">1000</text>
<line x1="540.3" y1="270.4" x2="540.3" y2="272.2" stroke="#222" stroke-width="0.8"/>
<line x1="587.5" y1="270.4" x2="587.5" y2="272.2" stroke="#222" stroke-width="0.8"/>
<line x1="634.7" y1="270.4" x2="634.7" y2="272.2" stroke="#222" stroke-width="0.8"/>
<text x="534.2" y="279.8" font-family="'Liberation Serif', serif" font-size="7.2" font-weight="bold" text-anchor="middle" fill="#111">0.1</text>
<text x="581.4" y="279.8" font-family="'Liberation Serif', serif" font-size="7.2" font-weight="bold" text-anchor="middle" fill="#111">1</text>
<text x="629" y="279.8" font-family="'Liberation Serif', serif" font-size="7.2" font-weight="bold" text-anchor="middle" fill="#111">10</text>
<text x="676.5" y="279.8" font-family="'Liberation Serif', serif" font-size="7.2" font-weight="bold" text-anchor="middle" fill="#111">100</text>
<line x1="554.51" y1="270.4" x2="554.51" y2="271.4" stroke="#222" stroke-width="0.6"/>
<line x1="562.82" y1="270.4" x2="562.82" y2="271.4" stroke="#222" stroke-width="0.6"/>
<line x1="568.72" y1="270.4" x2="568.72" y2="271.4" stroke="#222" stroke-width="0.6"/>
<line x1="573.29" y1="270.4" x2="573.29" y2="271.4" stroke="#222" stroke-width="0.6"/>
<line x1="577.03" y1="270.4" x2="577.03" y2="271.4" stroke="#222" stroke-width="0.6"/>
<line x1="580.19" y1="270.4" x2="580.19" y2="271.4" stroke="#222" stroke-width="0.6"/>
<line x1="582.93" y1="270.4" x2="582.93" y2="271.4" stroke="#222" stroke-width="0.6"/>
<line x1="585.34" y1="270.4" x2="585.34" y2="271.4" stroke="#222" stroke-width="0.6"/>
<line x1="601.71" y1="270.4" x2="601.71" y2="271.4" stroke="#222" stroke-width="0.6"/>
<line x1="610.02" y1="270.4" x2="610.02" y2="271.4" stroke="#222" stroke-width="0.6"/>
<line x1="615.92" y1="270.4" x2="615.92" y2="271.4" stroke="#222" stroke-width="0.6"/>
<line x1="620.49" y1="270.4" x2="620.49" y2="271.4" stroke="#222" stroke-width="0.6"/>
<line x1="624.23" y1="270.4" x2="624.23" y2="271.4" stroke="#222" stroke-width="0.6"/>
<line x1="627.39" y1="270.4" x2="627.39" y2="271.4" stroke="#222" stroke-width="0.6"/>
<line x1="630.13" y1="270.4" x2="630.13" y2="271.4" stroke="#222" stroke-width="0.6"/>
<line x1="632.54" y1="270.4" x2="632.54" y2="271.4" stroke="#222" stroke-width="0.6"/>
<line x1="648.91" y1="270.4" x2="648.91" y2="271.4" stroke="#222" stroke-width="0.6"/>
<line x1="657.22" y1="270.4" x2="657.22" y2="271.4" stroke="#222" stroke-width="0.6"/>
<line x1="663.12" y1="270.4" x2="663.12" y2="271.4" stroke="#222" stroke-width="0.6"/>
<line x1="667.69" y1="270.4" x2="667.69" y2="271.4" stroke="#222" stroke-width="0.6"/>
<line x1="671.43" y1="270.4" x2="671.43" y2="271.4" stroke="#222" stroke-width="0.6"/>
<line x1="674.59" y1="270.4" x2="674.59" y2="271.4" stroke="#222" stroke-width="0.6"/>
<line x1="677.33" y1="270.4" x2="677.33" y2="271.4" stroke="#222" stroke-width="0.6"/>
<line x1="679.74" y1="270.4" x2="679.74" y2="271.4" stroke="#222" stroke-width="0.6"/>
<line x1="556.1" y1="226.6" x2="573" y2="226.6" stroke="#F4505E" stroke-width="1.1"/>
<text x="575.4" y="228.9" font-family="'Liberation Serif', serif" font-size="7.2" font-weight="bold" text-anchor="start" fill="#111">G&#8217;-HAP</text>
<line x1="612.7" y1="226.6" x2="630.8" y2="226.6" stroke="#F4505E" stroke-width="0.9" stroke-dasharray="1.2 1.0"/>
<text x="633.2" y="228.9" font-family="'Liberation Serif', serif" font-size="7.2" font-weight="bold" text-anchor="start" fill="#111">G&#8221;-HAP</text>
<line x1="556.1" y1="235.6" x2="573" y2="235.6" stroke="#F0853A" stroke-width="1.1"/>
<text x="575.4" y="237.9" font-family="'Liberation Serif', serif" font-size="7.2" font-weight="bold" text-anchor="start" fill="#111">G&#8217;-HAPP1</text>
<line x1="612.7" y1="235.6" x2="630.8" y2="235.6" stroke="#F0853A" stroke-width="0.9" stroke-dasharray="1.2 1.0"/>
<text x="633.2" y="237.9" font-family="'Liberation Serif', serif" font-size="7.2" font-weight="bold" text-anchor="start" fill="#111">G&#8221;-HAPP1</text>
<line x1="556.1" y1="245" x2="573" y2="245" stroke="#F2CC5A" stroke-width="1.1"/>
<text x="575.4" y="247.3" font-family="'Liberation Serif', serif" font-size="7.2" font-weight="bold" text-anchor="start" fill="#111">G&#8217;-HAPP2</text>
<line x1="612.7" y1="245" x2="630.8" y2="245" stroke="#F2CC5A" stroke-width="0.9" stroke-dasharray="1.2 1.0"/>
<text x="633.2" y="247.3" font-family="'Liberation Serif', serif" font-size="7.2" font-weight="bold" text-anchor="start" fill="#111">G&#8221;-HAPP2</text>
<line x1="556.1" y1="254.6" x2="573" y2="254.6" stroke="#4A78F0" stroke-width="1.1"/>
<text x="575.4" y="256.9" font-family="'Liberation Serif', serif" font-size="7.2" font-weight="bold" text-anchor="start" fill="#111">G&#8217;-HAPP3</text>
<line x1="612.7" y1="254.6" x2="630.8" y2="254.6" stroke="#4A78F0" stroke-width="0.9" stroke-dasharray="1.2 1.0"/>
<text x="633.2" y="256.9" font-family="'Liberation Serif', serif" font-size="7.2" font-weight="bold" text-anchor="start" fill="#111">G&#8221;-HAPP3</text>
<line x1="556.1" y1="263.7" x2="573" y2="263.7" stroke="#5CEBCB" stroke-width="1.1"/>
<text x="575.4" y="266" font-family="'Liberation Serif', serif" font-size="7.2" font-weight="bold" text-anchor="start" fill="#111">G&#8217;-HAPP4</text>
<line x1="612.7" y1="263.7" x2="630.8" y2="263.7" stroke="#5CEBCB" stroke-width="0.9" stroke-dasharray="1.2 1.0"/>
<text x="633.2" y="266" font-family="'Liberation Serif', serif" font-size="7.2" font-weight="bold" text-anchor="start" fill="#111">G&#8221;-HAPP4</text>
<text x="610.8" y="289.2" font-family="'Liberation Serif', serif" font-size="7.5" font-weight="bold" text-anchor="middle" fill="#111">Strain (%)</text>
<text x="532.4" y="214.2" font-family="'Liberation Serif', serif" font-size="7.5" font-weight="bold" text-anchor="middle" fill="#111" transform="rotate(-90 532.4 214.2)">G&#8217;&amp;G&#8221; (Pa)</text>
<text x="1.8" y="297.7" font-family="'Liberation Sans', sans-serif" font-size="12" font-weight="bold" text-anchor="start" fill="#000">I</text>
<line x1="23.7" y1="322.2" x2="167" y2="322.2" stroke="#F4505E" stroke-width="1.1"/>
<line x1="23.7" y1="320" x2="167" y2="320" stroke="#F0853A" stroke-width="1.1"/>
<line x1="23.7" y1="318.6" x2="167" y2="318.6" stroke="#F2CC5A" stroke-width="1.1"/>
<line x1="23.7" y1="316.8" x2="167" y2="316.8" stroke="#4A78F0" stroke-width="1.1"/>
<line x1="23.7" y1="314.9" x2="167" y2="314.9" stroke="#5CEBCB" stroke-width="1.1"/>
<line x1="23.7" y1="359.7" x2="167" y2="359.7" stroke="#F4505E" stroke-width="0.9" stroke-dasharray="1.2 1.0"/>
<line x1="23.7" y1="356.2" x2="167" y2="356.2" stroke="#F0853A" stroke-width="0.9" stroke-dasharray="1.2 1.0"/>
<line x1="23.7" y1="352.9" x2="167" y2="352.9" stroke="#F2CC5A" stroke-width="0.9" stroke-dasharray="1.2 1.0"/>
<line x1="23.7" y1="351.4" x2="167" y2="351.4" stroke="#4A78F0" stroke-width="0.9" stroke-dasharray="1.2 1.0"/>
<line x1="23.7" y1="346.3" x2="167" y2="346.3" stroke="#5CEBCB" stroke-width="0.9" stroke-dasharray="1.2 1.0"/>
<rect x="23.2" y="301.1" width="144.3" height="116.4" fill="none" stroke="#222" stroke-width="0.9"/>
<line x1="21.4" y1="311" x2="23.2" y2="311" stroke="#222" stroke-width="0.8"/>
<line x1="21.4" y1="393.2" x2="23.2" y2="393.2" stroke="#222" stroke-width="0.8"/>
<line x1="22.1" y1="368.46" x2="23.2" y2="368.46" stroke="#222" stroke-width="0.6"/>
<line x1="22.1" y1="353.98" x2="23.2" y2="353.98" stroke="#222" stroke-width="0.6"/>
<line x1="22.1" y1="343.71" x2="23.2" y2="343.71" stroke="#222" stroke-width="0.6"/>
<line x1="22.1" y1="335.74" x2="23.2" y2="335.74" stroke="#222" stroke-width="0.6"/>
<line x1="22.1" y1="329.24" x2="23.2" y2="329.24" stroke="#222" stroke-width="0.6"/>
<line x1="22.1" y1="323.73" x2="23.2" y2="323.73" stroke="#222" stroke-width="0.6"/>
<line x1="22.1" y1="318.97" x2="23.2" y2="318.97" stroke="#222" stroke-width="0.6"/>
<line x1="22.1" y1="314.76" x2="23.2" y2="314.76" stroke="#222" stroke-width="0.6"/>
<line x1="22.1" y1="411.44" x2="23.2" y2="411.44" stroke="#222" stroke-width="0.6"/>
<line x1="22.1" y1="405.93" x2="23.2" y2="405.93" stroke="#222" stroke-width="0.6"/>
<line x1="22.1" y1="401.17" x2="23.2" y2="401.17" stroke="#222" stroke-width="0.6"/>
<line x1="22.1" y1="396.96" x2="23.2" y2="396.96" stroke="#222" stroke-width="0.6"/>
<text x="19" y="311" font-family="'Liberation Serif', serif" font-size="7.2" font-weight="bold" text-anchor="middle" fill="#111" transform="rotate(-90 19 311)">10000</text>
<text x="19" y="393.2" font-family="'Liberation Serif', serif" font-size="7.2" font-weight="bold" text-anchor="middle" fill="#111" transform="rotate(-90 19 393.2)">1000</text>
<line x1="23.4" y1="417.5" x2="23.4" y2="419.1" stroke="#222" stroke-width="0.8"/>
<text x="23.4" y="427" font-family="'Liberation Serif', serif" font-size="7.2" font-weight="bold" text-anchor="middle" fill="#111">0</text>
<line x1="47.45" y1="417.5" x2="47.45" y2="419.1" stroke="#222" stroke-width="0.8"/>
<text x="47.45" y="427" font-family="'Liberation Serif', serif" font-size="7.2" font-weight="bold" text-anchor="middle" fill="#111">100</text>
<line x1="71.5" y1="417.5" x2="71.5" y2="419.1" stroke="#222" stroke-width="0.8"/>
<text x="71.5" y="427" font-family="'Liberation Serif', serif" font-size="7.2" font-weight="bold" text-anchor="middle" fill="#111">200</text>
<line x1="95.55" y1="417.5" x2="95.55" y2="419.1" stroke="#222" stroke-width="0.8"/>
<text x="95.55" y="427" font-family="'Liberation Serif', serif" font-size="7.2" font-weight="bold" text-anchor="middle" fill="#111">300</text>
<line x1="119.6" y1="417.5" x2="119.6" y2="419.1" stroke="#222" stroke-width="0.8"/>
<text x="119.6" y="427" font-family="'Liberation Serif', serif" font-size="7.2" font-weight="bold" text-anchor="middle" fill="#111">400</text>
<line x1="143.65" y1="417.5" x2="143.65" y2="419.1" stroke="#222" stroke-width="0.8"/>
<text x="143.65" y="427" font-family="'Liberation Serif', serif" font-size="7.2" font-weight="bold" text-anchor="middle" fill="#111">500</text>
<line x1="167.7" y1="417.5" x2="167.7" y2="419.1" stroke="#222" stroke-width="0.8"/>
<text x="167.7" y="427" font-family="'Liberation Serif', serif" font-size="7.2" font-weight="bold" text-anchor="middle" fill="#111">600</text>
<line x1="35.42" y1="417.5" x2="35.42" y2="418.8" stroke="#222" stroke-width="0.7"/>
<line x1="59.47" y1="417.5" x2="59.47" y2="418.8" stroke="#222" stroke-width="0.7"/>
<line x1="83.53" y1="417.5" x2="83.53" y2="418.8" stroke="#222" stroke-width="0.7"/>
<line x1="107.57" y1="417.5" x2="107.57" y2="418.8" stroke="#222" stroke-width="0.7"/>
<line x1="131.62" y1="417.5" x2="131.62" y2="418.8" stroke="#222" stroke-width="0.7"/>
<line x1="155.68" y1="417.5" x2="155.68" y2="418.8" stroke="#222" stroke-width="0.7"/>
<line x1="24.8" y1="374.3" x2="40.1" y2="374.3" stroke="#F4505E" stroke-width="1.1"/>
<text x="41.6" y="376.6" font-family="'Liberation Serif', serif" font-size="6.7" font-weight="bold" text-anchor="start" fill="#111">G&#8217;-HAP (25&#186;C)</text>
<line x1="94.5" y1="374.3" x2="109.9" y2="374.3" stroke="#F4505E" stroke-width="0.9" stroke-dasharray="1.2 1.0"/>
<text x="112.2" y="376.6" font-family="'Liberation Serif', serif" font-size="6.7" font-weight="bold" text-anchor="start" fill="#111">G&#8221;-HAP (25&#186;C)</text>
<line x1="24.8" y1="382.5" x2="40.1" y2="382.5" stroke="#F0853A" stroke-width="1.1"/>
<text x="41.6" y="384.8" font-family="'Liberation Serif', serif" font-size="6.7" font-weight="bold" text-anchor="start" fill="#111">G&#8217;-HAPP1 (25&#186;C)</text>
<line x1="94.5" y1="382.5" x2="109.9" y2="382.5" stroke="#F0853A" stroke-width="0.9" stroke-dasharray="1.2 1.0"/>
<text x="112.2" y="384.8" font-family="'Liberation Serif', serif" font-size="6.7" font-weight="bold" text-anchor="start" fill="#111">G&#8221;-HAPP1 (25&#186;C)</text>
<line x1="24.8" y1="391.1" x2="40.1" y2="391.1" stroke="#F2CC5A" stroke-width="1.1"/>
<text x="41.6" y="393.4" font-family="'Liberation Serif', serif" font-size="6.7" font-weight="bold" text-anchor="start" fill="#111">G&#8217;-HAPP2 (25&#186;C)</text>
<line x1="94.5" y1="391.1" x2="109.9" y2="391.1" stroke="#F2CC5A" stroke-width="0.9" stroke-dasharray="1.2 1.0"/>
<text x="112.2" y="393.4" font-family="'Liberation Serif', serif" font-size="6.7" font-weight="bold" text-anchor="start" fill="#111">G&#8221;-HAPP2 (25&#186;C)</text>
<line x1="24.8" y1="399.7" x2="40.1" y2="399.7" stroke="#4A78F0" stroke-width="1.1"/>
<text x="41.6" y="402" font-family="'Liberation Serif', serif" font-size="6.7" font-weight="bold" text-anchor="start" fill="#111">G&#8217;-HAPP3 (25&#186;C)</text>
<line x1="94.5" y1="399.7" x2="109.9" y2="399.7" stroke="#4A78F0" stroke-width="0.9" stroke-dasharray="1.2 1.0"/>
<text x="112.2" y="402" font-family="'Liberation Serif', serif" font-size="6.7" font-weight="bold" text-anchor="start" fill="#111">G&#8221;-HAPP3 (25&#186;C)</text>
<line x1="24.8" y1="408" x2="40.1" y2="408" stroke="#5CEBCB" stroke-width="1.1"/>
<text x="41.6" y="410.3" font-family="'Liberation Serif', serif" font-size="6.7" font-weight="bold" text-anchor="start" fill="#111">G&#8217;-HAPP4 (25&#186;C)</text>
<line x1="94.5" y1="408" x2="109.9" y2="408" stroke="#5CEBCB" stroke-width="0.9" stroke-dasharray="1.2 1.0"/>
<text x="112.2" y="410.3" font-family="'Liberation Serif', serif" font-size="6.7" font-weight="bold" text-anchor="start" fill="#111">G&#8221;-HAPP4 (25&#186;C)</text>
<text x="95.35" y="436" font-family="'Liberation Serif', serif" font-size="7.6" font-weight="bold" text-anchor="middle" fill="#111">Time (s)</text>
<text x="9.6" y="357.6" font-family="'Liberation Serif', serif" font-size="7.7" font-weight="bold" text-anchor="middle" fill="#111" transform="rotate(-90 9.6 357.6)">G&#8217;&amp;G&#8221; (Pa)</text>
<text x="171.6" y="297.7" font-family="'Liberation Sans', sans-serif" font-size="12" font-weight="bold" text-anchor="start" fill="#000">J</text>
<line x1="194.9" y1="322.7" x2="338.2" y2="322.7" stroke="#F4505E" stroke-width="1.1"/>
<line x1="194.9" y1="320.1" x2="338.2" y2="320.1" stroke="#F0853A" stroke-width="1.1"/>
<line x1="194.9" y1="318.6" x2="338.2" y2="318.6" stroke="#F2CC5A" stroke-width="1.1"/>
<line x1="194.9" y1="316.8" x2="338.2" y2="316.8" stroke="#4A78F0" stroke-width="1.1"/>
<line x1="194.9" y1="315.5" x2="338.2" y2="315.5" stroke="#5CEBCB" stroke-width="1.1"/>
<line x1="194.9" y1="362.3" x2="338.2" y2="362.3" stroke="#F4505E" stroke-width="0.9" stroke-dasharray="1.2 1.0"/>
<line x1="194.9" y1="359" x2="338.2" y2="359" stroke="#F0853A" stroke-width="0.9" stroke-dasharray="1.2 1.0"/>
<line x1="194.9" y1="355.9" x2="338.2" y2="355.9" stroke="#F2CC5A" stroke-width="0.9" stroke-dasharray="1.2 1.0"/>
<line x1="194.9" y1="353.1" x2="338.2" y2="353.1" stroke="#4A78F0" stroke-width="0.9" stroke-dasharray="1.2 1.0"/>
<line x1="194.9" y1="348.3" x2="338.2" y2="348.3" stroke="#5CEBCB" stroke-width="0.9" stroke-dasharray="1.2 1.0"/>
<rect x="194.4" y="301.1" width="144.3" height="116.4" fill="none" stroke="#222" stroke-width="0.9"/>
<line x1="192.6" y1="311" x2="194.4" y2="311" stroke="#222" stroke-width="0.8"/>
<line x1="192.6" y1="393.2" x2="194.4" y2="393.2" stroke="#222" stroke-width="0.8"/>
<line x1="193.3" y1="368.46" x2="194.4" y2="368.46" stroke="#222" stroke-width="0.6"/>
<line x1="193.3" y1="353.98" x2="194.4" y2="353.98" stroke="#222" stroke-width="0.6"/>
<line x1="193.3" y1="343.71" x2="194.4" y2="343.71" stroke="#222" stroke-width="0.6"/>
<line x1="193.3" y1="335.74" x2="194.4" y2="335.74" stroke="#222" stroke-width="0.6"/>
<line x1="193.3" y1="329.24" x2="194.4" y2="329.24" stroke="#222" stroke-width="0.6"/>
<line x1="193.3" y1="323.73" x2="194.4" y2="323.73" stroke="#222" stroke-width="0.6"/>
<line x1="193.3" y1="318.97" x2="194.4" y2="318.97" stroke="#222" stroke-width="0.6"/>
<line x1="193.3" y1="314.76" x2="194.4" y2="314.76" stroke="#222" stroke-width="0.6"/>
<line x1="193.3" y1="411.44" x2="194.4" y2="411.44" stroke="#222" stroke-width="0.6"/>
<line x1="193.3" y1="405.93" x2="194.4" y2="405.93" stroke="#222" stroke-width="0.6"/>
<line x1="193.3" y1="401.17" x2="194.4" y2="401.17" stroke="#222" stroke-width="0.6"/>
<line x1="193.3" y1="396.96" x2="194.4" y2="396.96" stroke="#222" stroke-width="0.6"/>
<text x="190.2" y="311" font-family="'Liberation Serif', serif" font-size="7.2" font-weight="bold" text-anchor="middle" fill="#111" transform="rotate(-90 190.2 311)">10000</text>
<text x="190.2" y="393.2" font-family="'Liberation Serif', serif" font-size="7.2" font-weight="bold" text-anchor="middle" fill="#111" transform="rotate(-90 190.2 393.2)">1000</text>
<line x1="194.6" y1="417.5" x2="194.6" y2="419.1" stroke="#222" stroke-width="0.8"/>
<text x="194.6" y="427" font-family="'Liberation Serif', serif" font-size="7.2" font-weight="bold" text-anchor="middle" fill="#111">0</text>
<line x1="218.65" y1="417.5" x2="218.65" y2="419.1" stroke="#222" stroke-width="0.8"/>
<text x="218.65" y="427" font-family="'Liberation Serif', serif" font-size="7.2" font-weight="bold" text-anchor="middle" fill="#111">100</text>
<line x1="242.7" y1="417.5" x2="242.7" y2="419.1" stroke="#222" stroke-width="0.8"/>
<text x="242.7" y="427" font-family="'Liberation Serif', serif" font-size="7.2" font-weight="bold" text-anchor="middle" fill="#111">200</text>
<line x1="266.75" y1="417.5" x2="266.75" y2="419.1" stroke="#222" stroke-width="0.8"/>
<text x="266.75" y="427" font-family="'Liberation Serif', serif" font-size="7.2" font-weight="bold" text-anchor="middle" fill="#111">300</text>
<line x1="290.8" y1="417.5" x2="290.8" y2="419.1" stroke="#222" stroke-width="0.8"/>
<text x="290.8" y="427" font-family="'Liberation Serif', serif" font-size="7.2" font-weight="bold" text-anchor="middle" fill="#111">400</text>
<line x1="314.85" y1="417.5" x2="314.85" y2="419.1" stroke="#222" stroke-width="0.8"/>
<text x="314.85" y="427" font-family="'Liberation Serif', serif" font-size="7.2" font-weight="bold" text-anchor="middle" fill="#111">500</text>
<line x1="338.9" y1="417.5" x2="338.9" y2="419.1" stroke="#222" stroke-width="0.8"/>
<text x="338.9" y="427" font-family="'Liberation Serif', serif" font-size="7.2" font-weight="bold" text-anchor="middle" fill="#111">600</text>
<line x1="206.62" y1="417.5" x2="206.62" y2="418.8" stroke="#222" stroke-width="0.7"/>
<line x1="230.67" y1="417.5" x2="230.67" y2="418.8" stroke="#222" stroke-width="0.7"/>
<line x1="254.72" y1="417.5" x2="254.72" y2="418.8" stroke="#222" stroke-width="0.7"/>
<line x1="278.77" y1="417.5" x2="278.77" y2="418.8" stroke="#222" stroke-width="0.7"/>
<line x1="302.82" y1="417.5" x2="302.82" y2="418.8" stroke="#222" stroke-width="0.7"/>
<line x1="326.88" y1="417.5" x2="326.88" y2="418.8" stroke="#222" stroke-width="0.7"/>
<line x1="195.7" y1="374.3" x2="212.3" y2="374.3" stroke="#F4505E" stroke-width="1.1"/>
<text x="213.5" y="376.6" font-family="'Liberation Serif', serif" font-size="6.7" font-weight="bold" text-anchor="start" fill="#111">G&#8217;-HAP (37&#186;C)</text>
<line x1="264.6" y1="374.3" x2="281.2" y2="374.3" stroke="#F4505E" stroke-width="0.9" stroke-dasharray="1.2 1.0"/>
<text x="283" y="376.6" font-family="'Liberation Serif', serif" font-size="6.7" font-weight="bold" text-anchor="start" fill="#111">G&#8221;-HAP (37&#186;C)</text>
<line x1="195.7" y1="382.5" x2="212.3" y2="382.5" stroke="#F0853A" stroke-width="1.1"/>
<text x="213.5" y="384.8" font-family="'Liberation Serif', serif" font-size="6.7" font-weight="bold" text-anchor="start" fill="#111">G&#8217;-HAPP1 (37&#186;C)</text>
<line x1="264.6" y1="382.5" x2="281.2" y2="382.5" stroke="#F0853A" stroke-width="0.9" stroke-dasharray="1.2 1.0"/>
<text x="283" y="384.8" font-family="'Liberation Serif', serif" font-size="6.7" font-weight="bold" text-anchor="start" fill="#111">G&#8221;-HAPP1 (37&#186;C)</text>
<line x1="195.7" y1="391.1" x2="212.3" y2="391.1" stroke="#F2CC5A" stroke-width="1.1"/>
<text x="213.5" y="393.4" font-family="'Liberation Serif', serif" font-size="6.7" font-weight="bold" text-anchor="start" fill="#111">G&#8217;-HAPP2 (37&#186;C)</text>
<line x1="264.6" y1="391.1" x2="281.2" y2="391.1" stroke="#F2CC5A" stroke-width="0.9" stroke-dasharray="1.2 1.0"/>
<text x="283" y="393.4" font-family="'Liberation Serif', serif" font-size="6.7" font-weight="bold" text-anchor="start" fill="#111">G&#8221;-HAPP2 (37&#186;C)</text>
<line x1="195.7" y1="399.7" x2="212.3" y2="399.7" stroke="#4A78F0" stroke-width="1.1"/>
<text x="213.5" y="402" font-family="'Liberation Serif', serif" font-size="6.7" font-weight="bold" text-anchor="start" fill="#111">G&#8217;-HAPP3 (37&#186;C)</text>
<line x1="264.6" y1="399.7" x2="281.2" y2="399.7" stroke="#4A78F0" stroke-width="0.9" stroke-dasharray="1.2 1.0"/>
<text x="283" y="402" font-family="'Liberation Serif', serif" font-size="6.7" font-weight="bold" text-anchor="start" fill="#111">G&#8221;-HAPP3 (37&#186;C)</text>
<line x1="195.7" y1="408" x2="212.3" y2="408" stroke="#5CEBCB" stroke-width="1.1"/>
<text x="213.5" y="410.3" font-family="'Liberation Serif', serif" font-size="6.7" font-weight="bold" text-anchor="start" fill="#111">G&#8217;-HAPP4 (37&#186;C)</text>
<line x1="264.6" y1="408" x2="281.2" y2="408" stroke="#5CEBCB" stroke-width="0.9" stroke-dasharray="1.2 1.0"/>
<text x="283" y="410.3" font-family="'Liberation Serif', serif" font-size="6.7" font-weight="bold" text-anchor="start" fill="#111">G&#8221;-HAPP4 (37&#186;C)</text>
<text x="266.55" y="436" font-family="'Liberation Serif', serif" font-size="7.6" font-weight="bold" text-anchor="middle" fill="#111">Time (s)</text>
<text x="179" y="355.7" font-family="'Liberation Serif', serif" font-size="7.7" font-weight="bold" text-anchor="middle" fill="#111" transform="rotate(-90 179 355.7)">G&#8217;&amp;G&#8221; (Pa)</text>
<text x="345.5" y="297.4" font-family="'Liberation Sans', sans-serif" font-size="12" font-weight="bold" text-anchor="start" fill="#000">K</text>
<path d="M371.8 414.5 L472.63 318.46 Q482.31 312.13 490.22 312.42 Q492.1 312.7 492.45 326.71 L496.55 411.12 L496.91 414.5 Z" stroke="#F2404F" fill="#B7ACE4" stroke-width="0.9" stroke-linejoin="round"/>
<path d="M371.8 414.5 L470.29 325.43 Q478.22 320.03 484.71 320.31 Q486.59 320.59 486.94 333.5 L491.75 411.12 L492.1 414.5 Z" stroke="#F0892E" fill="#5FC99C" stroke-width="0.9" stroke-linejoin="round"/>
<path d="M371.8 414.5 L470.29 328.28 Q476.48 323.98 481.55 324.26 Q483.42 324.54 483.77 336.89 L486 411.12 L486.35 414.5 Z" stroke="#EDD55A" fill="#7FD2E2" stroke-width="0.9" stroke-linejoin="round"/>
<path d="M371.8 414.5 L470.29 333.01 Q475.13 330.18 479.08 330.46 Q480.96 330.75 481.31 342.23 L482.01 411.12 L482.37 414.5 Z" stroke="#4A7FF0" fill="#E9D873" stroke-width="0.9" stroke-linejoin="round"/>
<path d="M371.8 414.5 L469.12 337.73 Q472.79 334.69 475.8 334.98 Q477.68 335.26 478.03 346.11 L479.32 411.12 L479.67 414.5 Z" stroke="#74F3D6" fill="#DDA07E" stroke-width="0.9" stroke-linejoin="round"/>
<rect x="371.8" y="301.7" width="140.6" height="112.8" fill="none" stroke="#222" stroke-width="0.9"/>
<line x1="370.2" y1="414.5" x2="371.8" y2="414.5" stroke="#222" stroke-width="0.8"/>
<text x="369.35" y="416.95" font-family="'Liberation Serif', serif" font-size="7.2" font-weight="bold" text-anchor="end" fill="#111">0</text>
<line x1="370.2" y1="386.3" x2="371.8" y2="386.3" stroke="#222" stroke-width="0.8"/>
<text x="369.35" y="388.75" font-family="'Liberation Serif', serif" font-size="7.2" font-weight="bold" text-anchor="end" fill="#111">50</text>
<line x1="370.2" y1="358.1" x2="371.8" y2="358.1" stroke="#222" stroke-width="0.8"/>
<text x="369.35" y="360.55" font-family="'Liberation Serif', serif" font-size="7.2" font-weight="bold" text-anchor="end" fill="#111">100</text>
<line x1="370.2" y1="329.9" x2="371.8" y2="329.9" stroke="#222" stroke-width="0.8"/>
<text x="369.35" y="332.35" font-family="'Liberation Serif', serif" font-size="7.2" font-weight="bold" text-anchor="end" fill="#111">150</text>
<line x1="370.2" y1="301.7" x2="371.8" y2="301.7" stroke="#222" stroke-width="0.8"/>
<text x="369.35" y="304.15" font-family="'Liberation Serif', serif" font-size="7.2" font-weight="bold" text-anchor="end" fill="#111">200</text>
<line x1="370.5" y1="400.4" x2="371.8" y2="400.4" stroke="#222" stroke-width="0.7"/>
<line x1="370.5" y1="372.2" x2="371.8" y2="372.2" stroke="#222" stroke-width="0.7"/>
<line x1="370.5" y1="344" x2="371.8" y2="344" stroke="#222" stroke-width="0.7"/>
<line x1="370.5" y1="315.8" x2="371.8" y2="315.8" stroke="#222" stroke-width="0.7"/>
<line x1="371.8" y1="414.5" x2="371.8" y2="416.1" stroke="#222" stroke-width="0.8"/>
<text x="371.8" y="424.2" font-family="'Liberation Serif', serif" font-size="7.2" font-weight="bold" text-anchor="middle" fill="#111">0</text>
<line x1="395.25" y1="414.5" x2="395.25" y2="416.1" stroke="#222" stroke-width="0.8"/>
<text x="395.25" y="424.2" font-family="'Liberation Serif', serif" font-size="7.2" font-weight="bold" text-anchor="middle" fill="#111">20</text>
<line x1="418.7" y1="414.5" x2="418.7" y2="416.1" stroke="#222" stroke-width="0.8"/>
<text x="418.7" y="424.2" font-family="'Liberation Serif', serif" font-size="7.2" font-weight="bold" text-anchor="middle" fill="#111">40</text>
<line x1="442.15" y1="414.5" x2="442.15" y2="416.1" stroke="#222" stroke-width="0.8"/>
<text x="442.15" y="424.2" font-family="'Liberation Serif', serif" font-size="7.2" font-weight="bold" text-anchor="middle" fill="#111">60</text>
<line x1="465.6" y1="414.5" x2="465.6" y2="416.1" stroke="#222" stroke-width="0.8"/>
<text x="465.6" y="424.2" font-family="'Liberation Serif', serif" font-size="7.2" font-weight="bold" text-anchor="middle" fill="#111">80</text>
<line x1="489.05" y1="414.5" x2="489.05" y2="416.1" stroke="#222" stroke-width="0.8"/>
<text x="489.05" y="424.2" font-family="'Liberation Serif', serif" font-size="7.2" font-weight="bold" text-anchor="middle" fill="#111">100</text>
<line x1="512.5" y1="414.5" x2="512.5" y2="416.1" stroke="#222" stroke-width="0.8"/>
<text x="512.5" y="424.2" font-family="'Liberation Serif', serif" font-size="7.2" font-weight="bold" text-anchor="middle" fill="#111">120</text>
<line x1="383.53" y1="414.5" x2="383.53" y2="415.8" stroke="#222" stroke-width="0.7"/>
<line x1="406.98" y1="414.5" x2="406.98" y2="415.8" stroke="#222" stroke-width="0.7"/>
<line x1="430.43" y1="414.5" x2="430.43" y2="415.8" stroke="#222" stroke-width="0.7"/>
<line x1="453.88" y1="414.5" x2="453.88" y2="415.8" stroke="#222" stroke-width="0.7"/>
<line x1="477.32" y1="414.5" x2="477.32" y2="415.8" stroke="#222" stroke-width="0.7"/>
<line x1="500.77" y1="414.5" x2="500.77" y2="415.8" stroke="#222" stroke-width="0.7"/>
<rect x="372.9" y="304.1" width="11.6" height="5.6" fill="#B7ACE4" stroke="#F2404F" stroke-width="0.9"/>
<text x="386.8" y="309.5" font-family="'Liberation Serif', serif" font-size="7.4" font-weight="bold" text-anchor="start" fill="#111">HAPP4</text>
<rect x="372.9" y="313.2" width="11.6" height="5.6" fill="#5FC99C" stroke="#F0892E" stroke-width="0.9"/>
<text x="386.8" y="318.6" font-family="'Liberation Serif', serif" font-size="7.4" font-weight="bold" text-anchor="start" fill="#111">HAPP3</text>
<rect x="372.9" y="322.3" width="11.6" height="5.6" fill="#7FD2E2" stroke="#EDD55A" stroke-width="0.9"/>
<text x="386.8" y="327.7" font-family="'Liberation Serif', serif" font-size="7.4" font-weight="bold" text-anchor="start" fill="#111">HAPP2</text>
<rect x="372.9" y="331.8" width="11.6" height="5.6" fill="#E9D873" stroke="#4A7FF0" stroke-width="0.9"/>
<text x="386.8" y="337.2" font-family="'Liberation Serif', serif" font-size="7.4" font-weight="bold" text-anchor="start" fill="#111">HAPP1</text>
<rect x="372.9" y="341.3" width="11.6" height="5.6" fill="#DDA07E" stroke="#74F3D6" stroke-width="0.9"/>
<text x="386.8" y="346.7" font-family="'Liberation Serif', serif" font-size="7.4" font-weight="bold" text-anchor="start" fill="#111">HAP</text>
<text x="441.9" y="431.6" font-family="'Liberation Serif', serif" font-size="7.6" font-weight="bold" text-anchor="middle" fill="#111">Strain (%)</text>
<text x="354.3" y="358" font-family="'Liberation Serif', serif" font-size="7.66" font-weight="bold" text-anchor="middle" fill="#111" transform="rotate(-90 354.3 358)">Stress (kPa)</text>
<text x="517.8" y="297.8" font-family="'Liberation Sans', sans-serif" font-size="12" font-weight="bold" text-anchor="start" fill="#000">L</text>
<path d="M540.5 415.1 L543.64 414.64 L546.78 414.15 L549.92 413.63 L553.06 413.09 L556.2 412.5 L559.34 411.88 L562.48 411.23 L565.62 410.53 L568.76 409.79 L571.9 409.01 L575.04 408.18 L578.18 407.3 L581.32 406.36 L584.46 405.37 L587.6 404.32 L590.74 403.2 L593.88 402.01 L597.02 400.75 L600.16 399.42 L603.3 398 L606.44 396.5 L609.58 394.91 L612.72 393.21 L615.86 391.42 L619 389.52 L622.14 387.5 L625.28 385.35 L628.42 383.08 L631.56 380.67 L634.7 378.11 L637.84 375.39 L640.98 372.51 L644.12 369.45 L647.26 366.21 L650.4 362.77 L653.54 359.11 L656.68 355.24 L659.82 351.13 L662.96 346.77 L666.1 342.14 L666.1 342.14 L663.31 346.77 L660.53 351.13 L657.74 355.24 L654.95 359.11 L652.17 362.77 L649.38 366.21 L646.59 369.45 L643.81 372.51 L641.02 375.39 L638.23 378.11 L635.45 380.67 L632.66 383.08 L629.87 385.35 L627.09 387.5 L624.3 389.52 L621.51 391.42 L618.73 393.21 L615.94 394.91 L613.15 396.5 L610.37 398 L607.58 399.42 L604.79 400.75 L602 402.01 L599.22 403.2 L596.43 404.32 L593.64 405.37 L590.86 406.36 L588.07 407.3 L585.28 408.18 L582.5 409.01 L579.71 409.79 L576.92 410.53 L574.14 411.23 L571.35 411.88 L568.56 412.5 L565.78 413.09 L562.99 413.63 L560.2 414.15 L557.42 414.64 L554.63 415.1 Z" stroke="#F2404F" fill="#E9D77C" stroke-width="1" stroke-linejoin="round"/>
<rect x="540" y="301.1" width="141" height="114" fill="none" stroke="#222" stroke-width="0.9"/>
<line x1="538.4" y1="415.1" x2="540" y2="415.1" stroke="#222" stroke-width="0.8"/>
<text x="535.65" y="417.55" font-family="'Liberation Serif', serif" font-size="7.2" font-weight="bold" text-anchor="end" fill="#111">0</text>
<line x1="538.4" y1="396.1" x2="540" y2="396.1" stroke="#222" stroke-width="0.8"/>
<text x="535.65" y="398.55" font-family="'Liberation Serif', serif" font-size="7.2" font-weight="bold" text-anchor="end" fill="#111">50</text>
<line x1="538.4" y1="377.1" x2="540" y2="377.1" stroke="#222" stroke-width="0.8"/>
<text x="535.65" y="379.55" font-family="'Liberation Serif', serif" font-size="7.2" font-weight="bold" text-anchor="end" fill="#111">100</text>
<line x1="538.4" y1="358.1" x2="540" y2="358.1" stroke="#222" stroke-width="0.8"/>
<text x="535.65" y="360.55" font-family="'Liberation Serif', serif" font-size="7.2" font-weight="bold" text-anchor="end" fill="#111">150</text>
<line x1="538.4" y1="339.1" x2="540" y2="339.1" stroke="#222" stroke-width="0.8"/>
<text x="535.65" y="341.55" font-family="'Liberation Serif', serif" font-size="7.2" font-weight="bold" text-anchor="end" fill="#111">200</text>
<line x1="538.4" y1="320.1" x2="540" y2="320.1" stroke="#222" stroke-width="0.8"/>
<text x="535.65" y="322.55" font-family="'Liberation Serif', serif" font-size="7.2" font-weight="bold" text-anchor="end" fill="#111">250</text>
<line x1="538.4" y1="301.1" x2="540" y2="301.1" stroke="#222" stroke-width="0.8"/>
<text x="535.65" y="303.55" font-family="'Liberation Serif', serif" font-size="7.2" font-weight="bold" text-anchor="end" fill="#111">300</text>
<line x1="538.7" y1="405.6" x2="540" y2="405.6" stroke="#222" stroke-width="0.7"/>
<line x1="538.7" y1="386.6" x2="540" y2="386.6" stroke="#222" stroke-width="0.7"/>
<line x1="538.7" y1="367.6" x2="540" y2="367.6" stroke="#222" stroke-width="0.7"/>
<line x1="538.7" y1="348.6" x2="540" y2="348.6" stroke="#222" stroke-width="0.7"/>
<line x1="538.7" y1="329.6" x2="540" y2="329.6" stroke="#222" stroke-width="0.7"/>
<line x1="538.7" y1="310.6" x2="540" y2="310.6" stroke="#222" stroke-width="0.7"/>
<line x1="540.5" y1="415.1" x2="540.5" y2="416.7" stroke="#222" stroke-width="0.8"/>
<text x="540.5" y="424.7" font-family="'Liberation Serif', serif" font-size="7.2" font-weight="bold" text-anchor="middle" fill="#111">0</text>
<line x1="571.9" y1="415.1" x2="571.9" y2="416.7" stroke="#222" stroke-width="0.8"/>
<text x="571.9" y="424.7" font-family="'Liberation Serif', serif" font-size="7.2" font-weight="bold" text-anchor="middle" fill="#111">20</text>
<line x1="603.3" y1="415.1" x2="603.3" y2="416.7" stroke="#222" stroke-width="0.8"/>
<text x="603.3" y="424.7" font-family="'Liberation Serif', serif" font-size="7.2" font-weight="bold" text-anchor="middle" fill="#111">40</text>
<line x1="634.7" y1="415.1" x2="634.7" y2="416.7" stroke="#222" stroke-width="0.8"/>
<text x="634.7" y="424.7" font-family="'Liberation Serif', serif" font-size="7.2" font-weight="bold" text-anchor="middle" fill="#111">60</text>
<line x1="666.1" y1="415.1" x2="666.1" y2="416.7" stroke="#222" stroke-width="0.8"/>
<text x="666.1" y="424.7" font-family="'Liberation Serif', serif" font-size="7.2" font-weight="bold" text-anchor="middle" fill="#111">80</text>
<line x1="556.2" y1="415.1" x2="556.2" y2="416.4" stroke="#222" stroke-width="0.7"/>
<line x1="587.6" y1="415.1" x2="587.6" y2="416.4" stroke="#222" stroke-width="0.7"/>
<line x1="619" y1="415.1" x2="619" y2="416.4" stroke="#222" stroke-width="0.7"/>
<line x1="650.4" y1="415.1" x2="650.4" y2="416.4" stroke="#222" stroke-width="0.7"/>
<rect x="543.2" y="304.7" width="12.2" height="5.9" fill="#E9D77C" stroke="#F2404F" stroke-width="0.9"/>
<text x="558.5" y="310.2" font-family="'Liberation Serif', serif" font-size="7.4" font-weight="bold" text-anchor="start" fill="#111">HAP</text>
<text x="610.85" y="432.5" font-family="'Liberation Serif', serif" font-size="7.6" font-weight="bold" text-anchor="middle" fill="#111">Strain (%)</text>
<text x="523.7" y="368.8" font-family="'Liberation Serif', serif" font-size="7.7" font-weight="bold" text-anchor="middle" fill="#111" transform="rotate(-90 523.7 368.8)">Stress (kPa)</text>
<text x="1.8" y="443.9" font-family="'Liberation Sans', sans-serif" font-size="12" font-weight="bold" text-anchor="start" fill="#000">M</text>
<path d="M24.1 562.6 L27.28 561.98 L30.45 561.33 L33.62 560.64 L36.8 559.92 L39.98 559.16 L43.15 558.36 L46.33 557.52 L49.5 556.63 L52.67 555.7 L55.85 554.72 L59.02 553.69 L62.2 552.6 L65.38 551.45 L68.55 550.25 L71.72 548.98 L74.9 547.65 L78.08 546.24 L81.25 544.76 L84.43 543.21 L87.6 541.57 L90.78 539.84 L93.95 538.03 L97.12 536.12 L100.3 534.11 L103.47 531.99 L106.65 529.76 L109.82 527.42 L113 524.95 L116.18 522.36 L119.35 519.62 L122.53 516.75 L125.7 513.72 L128.88 510.53 L132.05 507.18 L135.22 503.64 L138.4 499.93 L141.57 496.02 L144.75 491.9 L147.93 487.57 L151.1 483.01 L151.1 483.01 L148.28 487.57 L145.46 491.9 L142.65 496.02 L139.83 499.93 L137.01 503.64 L134.19 507.18 L131.38 510.53 L128.56 513.72 L125.74 516.75 L122.92 519.62 L120.1 522.36 L117.29 524.95 L114.47 527.42 L111.65 529.76 L108.83 531.99 L106.01 534.11 L103.2 536.12 L100.38 538.03 L97.56 539.84 L94.74 541.57 L91.93 543.21 L89.11 544.76 L86.29 546.24 L83.47 547.65 L80.65 548.98 L77.84 550.25 L75.02 551.45 L72.2 552.6 L69.38 553.69 L66.57 554.72 L63.75 555.7 L60.93 556.63 L58.11 557.52 L55.29 558.36 L52.48 559.16 L49.66 559.92 L46.84 560.64 L44.02 561.33 L41.21 561.98 L38.39 562.6 Z" stroke="#EE8A38" fill="#82D3E0" stroke-width="1" stroke-linejoin="round"/>
<rect x="23.4" y="447.8" width="143.7" height="114.8" fill="none" stroke="#4a4a4a" stroke-width="0.9"/>
<line x1="21.8" y1="562.6" x2="23.4" y2="562.6" stroke="#222" stroke-width="0.8"/>
<text x="19.05" y="565.05" font-family="'Liberation Serif', serif" font-size="7.2" font-weight="bold" text-anchor="end" fill="#111">0</text>
<line x1="21.8" y1="543.47" x2="23.4" y2="543.47" stroke="#222" stroke-width="0.8"/>
<text x="19.05" y="545.91" font-family="'Liberation Serif', serif" font-size="7.2" font-weight="bold" text-anchor="end" fill="#111">50</text>
<line x1="21.8" y1="524.33" x2="23.4" y2="524.33" stroke="#222" stroke-width="0.8"/>
<text x="19.05" y="526.78" font-family="'Liberation Serif', serif" font-size="7.2" font-weight="bold" text-anchor="end" fill="#111">100</text>
<line x1="21.8" y1="505.2" x2="23.4" y2="505.2" stroke="#222" stroke-width="0.8"/>
<text x="19.05" y="507.65" font-family="'Liberation Serif', serif" font-size="7.2" font-weight="bold" text-anchor="end" fill="#111">150</text>
<line x1="21.8" y1="486.07" x2="23.4" y2="486.07" stroke="#222" stroke-width="0.8"/>
<text x="19.05" y="488.51" font-family="'Liberation Serif', serif" font-size="7.2" font-weight="bold" text-anchor="end" fill="#111">200</text>
<line x1="21.8" y1="466.93" x2="23.4" y2="466.93" stroke="#222" stroke-width="0.8"/>
<text x="19.05" y="469.38" font-family="'Liberation Serif', serif" font-size="7.2" font-weight="bold" text-anchor="end" fill="#111">250</text>
<line x1="21.8" y1="447.8" x2="23.4" y2="447.8" stroke="#222" stroke-width="0.8"/>
<text x="19.05" y="450.25" font-family="'Liberation Serif', serif" font-size="7.2" font-weight="bold" text-anchor="end" fill="#111">300</text>
<line x1="22.1" y1="553.03" x2="23.4" y2="553.03" stroke="#222" stroke-width="0.7"/>
<line x1="22.1" y1="533.9" x2="23.4" y2="533.9" stroke="#222" stroke-width="0.7"/>
<line x1="22.1" y1="514.77" x2="23.4" y2="514.77" stroke="#222" stroke-width="0.7"/>
<line x1="22.1" y1="495.63" x2="23.4" y2="495.63" stroke="#222" stroke-width="0.7"/>
<line x1="22.1" y1="476.5" x2="23.4" y2="476.5" stroke="#222" stroke-width="0.7"/>
<line x1="22.1" y1="457.37" x2="23.4" y2="457.37" stroke="#222" stroke-width="0.7"/>
<line x1="24.1" y1="562.6" x2="24.1" y2="564.2" stroke="#222" stroke-width="0.8"/>
<text x="24.1" y="572.2" font-family="'Liberation Serif', serif" font-size="7.2" font-weight="bold" text-anchor="middle" fill="#111">0</text>
<line x1="55.85" y1="562.6" x2="55.85" y2="564.2" stroke="#222" stroke-width="0.8"/>
<text x="55.85" y="572.2" font-family="'Liberation Serif', serif" font-size="7.2" font-weight="bold" text-anchor="middle" fill="#111">20</text>
<line x1="87.6" y1="562.6" x2="87.6" y2="564.2" stroke="#222" stroke-width="0.8"/>
<text x="87.6" y="572.2" font-family="'Liberation Serif', serif" font-size="7.2" font-weight="bold" text-anchor="middle" fill="#111">40</text>
<line x1="119.35" y1="562.6" x2="119.35" y2="564.2" stroke="#222" stroke-width="0.8"/>
<text x="119.35" y="572.2" font-family="'Liberation Serif', serif" font-size="7.2" font-weight="bold" text-anchor="middle" fill="#111">60</text>
<line x1="151.1" y1="562.6" x2="151.1" y2="564.2" stroke="#222" stroke-width="0.8"/>
<text x="151.1" y="572.2" font-family="'Liberation Serif', serif" font-size="7.2" font-weight="bold" text-anchor="middle" fill="#111">80</text>
<line x1="39.98" y1="562.6" x2="39.98" y2="563.9" stroke="#222" stroke-width="0.7"/>
<line x1="71.72" y1="562.6" x2="71.72" y2="563.9" stroke="#222" stroke-width="0.7"/>
<line x1="103.47" y1="562.6" x2="103.47" y2="563.9" stroke="#222" stroke-width="0.7"/>
<line x1="135.22" y1="562.6" x2="135.22" y2="563.9" stroke="#222" stroke-width="0.7"/>
<rect x="27" y="451.4" width="12.2" height="5.9" fill="#82D3E0" stroke="#EE8A38" stroke-width="0.9"/>
<text x="42.3" y="456.9" font-family="'Liberation Serif', serif" font-size="7.4" font-weight="bold" text-anchor="start" fill="#111">HAPP1</text>
<text x="95.24" y="580" font-family="'Liberation Serif', serif" font-size="7.6" font-weight="bold" text-anchor="middle" fill="#111">Strain (%)</text>
<text x="6.2" y="505.4" font-family="'Liberation Serif', serif" font-size="7.7" font-weight="bold" text-anchor="middle" fill="#111" transform="rotate(-90 6.2 505.4)">Stress (kPa)</text>
<text x="172.6" y="443.4" font-family="'Liberation Sans', sans-serif" font-size="12" font-weight="bold" text-anchor="start" fill="#000">N</text>
<path d="M196.2 562.6 L199.38 562.06 L202.56 561.49 L205.74 560.88 L208.92 560.24 L212.1 559.56 L215.28 558.84 L218.46 558.07 L221.64 557.26 L224.82 556.39 L228 555.48 L231.18 554.51 L234.36 553.49 L237.54 552.4 L240.72 551.24 L243.9 550.02 L247.08 548.72 L250.26 547.34 L253.44 545.88 L256.62 544.33 L259.8 542.69 L262.98 540.95 L266.16 539.1 L269.34 537.15 L272.52 535.07 L275.7 532.87 L278.88 530.54 L282.06 528.06 L285.24 525.44 L288.42 522.66 L291.6 519.71 L294.78 516.58 L297.96 513.26 L301.14 509.75 L304.32 506.02 L307.5 502.06 L310.68 497.87 L313.86 493.43 L317.04 488.71 L320.22 483.71 L323.4 478.41 L323.4 478.41 L320.58 483.71 L317.76 488.71 L314.93 493.43 L312.11 497.87 L309.29 502.06 L306.47 506.02 L303.64 509.75 L300.82 513.26 L298 516.58 L295.18 519.71 L292.36 522.66 L289.53 525.44 L286.71 528.06 L283.89 530.54 L281.07 532.87 L278.24 535.07 L275.42 537.15 L272.6 539.1 L269.78 540.95 L266.95 542.69 L264.13 544.33 L261.31 545.88 L258.49 547.34 L255.67 548.72 L252.84 550.02 L250.02 551.24 L247.2 552.4 L244.38 553.49 L241.55 554.51 L238.73 555.48 L235.91 556.39 L233.09 557.26 L230.27 558.07 L227.44 558.84 L224.62 559.56 L221.8 560.24 L218.98 560.88 L216.15 561.49 L213.33 562.06 L210.51 562.6 Z" stroke="#EDD55A" fill="#5ECAA6" stroke-width="1" stroke-linejoin="round"/>
<rect x="196" y="447.8" width="142.7" height="114.8" fill="none" stroke="#4a4a4a" stroke-width="0.9"/>
<line x1="194.4" y1="562.6" x2="196" y2="562.6" stroke="#222" stroke-width="0.8"/>
<text x="191.65" y="565.05" font-family="'Liberation Serif', serif" font-size="7.2" font-weight="bold" text-anchor="end" fill="#111">0</text>
<line x1="194.4" y1="543.47" x2="196" y2="543.47" stroke="#222" stroke-width="0.8"/>
<text x="191.65" y="545.91" font-family="'Liberation Serif', serif" font-size="7.2" font-weight="bold" text-anchor="end" fill="#111">50</text>
<line x1="194.4" y1="524.33" x2="196" y2="524.33" stroke="#222" stroke-width="0.8"/>
<text x="191.65" y="526.78" font-family="'Liberation Serif', serif" font-size="7.2" font-weight="bold" text-anchor="end" fill="#111">100</text>
<line x1="194.4" y1="505.2" x2="196" y2="505.2" stroke="#222" stroke-width="0.8"/>
<text x="191.65" y="507.65" font-family="'Liberation Serif', serif" font-size="7.2" font-weight="bold" text-anchor="end" fill="#111">150</text>
<line x1="194.4" y1="486.07" x2="196" y2="486.07" stroke="#222" stroke-width="0.8"/>
<text x="191.65" y="488.51" font-family="'Liberation Serif', serif" font-size="7.2" font-weight="bold" text-anchor="end" fill="#111">200</text>
<line x1="194.4" y1="466.93" x2="196" y2="466.93" stroke="#222" stroke-width="0.8"/>
<text x="191.65" y="469.38" font-family="'Liberation Serif', serif" font-size="7.2" font-weight="bold" text-anchor="end" fill="#111">250</text>
<line x1="194.4" y1="447.8" x2="196" y2="447.8" stroke="#222" stroke-width="0.8"/>
<text x="191.65" y="450.25" font-family="'Liberation Serif', serif" font-size="7.2" font-weight="bold" text-anchor="end" fill="#111">300</text>
<line x1="194.7" y1="553.03" x2="196" y2="553.03" stroke="#222" stroke-width="0.7"/>
<line x1="194.7" y1="533.9" x2="196" y2="533.9" stroke="#222" stroke-width="0.7"/>
<line x1="194.7" y1="514.77" x2="196" y2="514.77" stroke="#222" stroke-width="0.7"/>
<line x1="194.7" y1="495.63" x2="196" y2="495.63" stroke="#222" stroke-width="0.7"/>
<line x1="194.7" y1="476.5" x2="196" y2="476.5" stroke="#222" stroke-width="0.7"/>
<line x1="194.7" y1="457.37" x2="196" y2="457.37" stroke="#222" stroke-width="0.7"/>
<line x1="196.2" y1="562.6" x2="196.2" y2="564.2" stroke="#222" stroke-width="0.8"/>
<text x="196.2" y="572.2" font-family="'Liberation Serif', serif" font-size="7.2" font-weight="bold" text-anchor="middle" fill="#111">0</text>
<line x1="228" y1="562.6" x2="228" y2="564.2" stroke="#222" stroke-width="0.8"/>
<text x="228" y="572.2" font-family="'Liberation Serif', serif" font-size="7.2" font-weight="bold" text-anchor="middle" fill="#111">20</text>
<line x1="259.8" y1="562.6" x2="259.8" y2="564.2" stroke="#222" stroke-width="0.8"/>
<text x="259.8" y="572.2" font-family="'Liberation Serif', serif" font-size="7.2" font-weight="bold" text-anchor="middle" fill="#111">40</text>
<line x1="291.6" y1="562.6" x2="291.6" y2="564.2" stroke="#222" stroke-width="0.8"/>
<text x="291.6" y="572.2" font-family="'Liberation Serif', serif" font-size="7.2" font-weight="bold" text-anchor="middle" fill="#111">60</text>
<line x1="323.4" y1="562.6" x2="323.4" y2="564.2" stroke="#222" stroke-width="0.8"/>
<text x="323.4" y="572.2" font-family="'Liberation Serif', serif" font-size="7.2" font-weight="bold" text-anchor="middle" fill="#111">80</text>
<line x1="212.1" y1="562.6" x2="212.1" y2="563.9" stroke="#222" stroke-width="0.7"/>
<line x1="243.9" y1="562.6" x2="243.9" y2="563.9" stroke="#222" stroke-width="0.7"/>
<line x1="275.7" y1="562.6" x2="275.7" y2="563.9" stroke="#222" stroke-width="0.7"/>
<line x1="307.5" y1="562.6" x2="307.5" y2="563.9" stroke="#222" stroke-width="0.7"/>
<rect x="199.3" y="451.4" width="12.2" height="5.9" fill="#5ECAA6" stroke="#EDD55A" stroke-width="0.9"/>
<text x="214.6" y="456.9" font-family="'Liberation Serif', serif" font-size="7.4" font-weight="bold" text-anchor="start" fill="#111">HAPP2</text>
<text x="267.45" y="580" font-family="'Liberation Serif', serif" font-size="7.6" font-weight="bold" text-anchor="middle" fill="#111">Strain (%)</text>
<text x="178.5" y="505.4" font-family="'Liberation Serif', serif" font-size="7.7" font-weight="bold" text-anchor="middle" fill="#111" transform="rotate(-90 178.5 505.4)">Stress (kPa)</text>
<text x="345.1" y="443.9" font-family="'Liberation Sans', sans-serif" font-size="12" font-weight="bold" text-anchor="start" fill="#000">O</text>
<path d="M369.5 562.6 L372.68 561.95 L375.85 561.26 L379.02 560.53 L382.2 559.77 L385.38 558.96 L388.55 558.1 L391.73 557.2 L394.9 556.24 L398.07 555.23 L401.25 554.17 L404.43 553.05 L407.6 551.86 L410.77 550.61 L413.95 549.29 L417.12 547.89 L420.3 546.42 L423.48 544.86 L426.65 543.22 L429.82 541.48 L433 539.65 L436.18 537.71 L439.35 535.67 L442.52 533.51 L445.7 531.24 L448.88 528.83 L452.05 526.29 L455.23 523.61 L458.4 520.78 L461.57 517.79 L464.75 514.63 L467.93 511.3 L471.1 507.78 L474.27 504.06 L477.45 500.14 L480.62 495.99 L483.8 491.62 L486.98 486.99 L490.15 482.12 L493.32 476.96 L496.5 471.53 L496.5 471.53 L493.68 476.96 L490.86 482.12 L488.05 486.99 L485.23 491.62 L482.41 495.99 L479.59 500.14 L476.78 504.06 L473.96 507.78 L471.14 511.3 L468.32 514.63 L465.5 517.79 L462.69 520.78 L459.87 523.61 L457.05 526.29 L454.23 528.83 L451.41 531.24 L448.6 533.51 L445.78 535.67 L442.96 537.71 L440.14 539.65 L437.33 541.48 L434.51 543.22 L431.69 544.86 L428.87 546.42 L426.05 547.89 L423.24 549.29 L420.42 550.61 L417.6 551.86 L414.78 553.05 L411.97 554.17 L409.15 555.23 L406.33 556.24 L403.51 557.2 L400.69 558.1 L397.88 558.96 L395.06 559.77 L392.24 560.53 L389.42 561.26 L386.61 561.95 L383.79 562.6 Z" stroke="#4A80F0" fill="#5ECAA0" stroke-width="1" stroke-linejoin="round"/>
<rect x="369.6" y="447.8" width="143" height="114.8" fill="none" stroke="#4a4a4a" stroke-width="0.9"/>
<line x1="368" y1="562.6" x2="369.6" y2="562.6" stroke="#222" stroke-width="0.8"/>
<text x="365.25" y="565.05" font-family="'Liberation Serif', serif" font-size="7.2" font-weight="bold" text-anchor="end" fill="#111">0</text>
<line x1="368" y1="543.47" x2="369.6" y2="543.47" stroke="#222" stroke-width="0.8"/>
<text x="365.25" y="545.91" font-family="'Liberation Serif', serif" font-size="7.2" font-weight="bold" text-anchor="end" fill="#111">50</text>
<line x1="368" y1="524.33" x2="369.6" y2="524.33" stroke="#222" stroke-width="0.8"/>
<text x="365.25" y="526.78" font-family="'Liberation Serif', serif" font-size="7.2" font-weight="bold" text-anchor="end" fill="#111">100</text>
<line x1="368" y1="505.2" x2="369.6" y2="505.2" stroke="#222" stroke-width="0.8"/>
<text x="365.25" y="507.65" font-family="'Liberation Serif', serif" font-size="7.2" font-weight="bold" text-anchor="end" fill="#111">150</text>
<line x1="368" y1="486.07" x2="369.6" y2="486.07" stroke="#222" stroke-width="0.8"/>
<text x="365.25" y="488.51" font-family="'Liberation Serif', serif" font-size="7.2" font-weight="bold" text-anchor="end" fill="#111">200</text>
<line x1="368" y1="466.93" x2="369.6" y2="466.93" stroke="#222" stroke-width="0.8"/>
<text x="365.25" y="469.38" font-family="'Liberation Serif', serif" font-size="7.2" font-weight="bold" text-anchor="end" fill="#111">250</text>
<line x1="368" y1="447.8" x2="369.6" y2="447.8" stroke="#222" stroke-width="0.8"/>
<text x="365.25" y="450.25" font-family="'Liberation Serif', serif" font-size="7.2" font-weight="bold" text-anchor="end" fill="#111">300</text>
<line x1="368.3" y1="553.03" x2="369.6" y2="553.03" stroke="#222" stroke-width="0.7"/>
<line x1="368.3" y1="533.9" x2="369.6" y2="533.9" stroke="#222" stroke-width="0.7"/>
<line x1="368.3" y1="514.77" x2="369.6" y2="514.77" stroke="#222" stroke-width="0.7"/>
<line x1="368.3" y1="495.63" x2="369.6" y2="495.63" stroke="#222" stroke-width="0.7"/>
<line x1="368.3" y1="476.5" x2="369.6" y2="476.5" stroke="#222" stroke-width="0.7"/>
<line x1="368.3" y1="457.37" x2="369.6" y2="457.37" stroke="#222" stroke-width="0.7"/>
<line x1="369.5" y1="562.6" x2="369.5" y2="564.2" stroke="#222" stroke-width="0.8"/>
<text x="369.5" y="572.2" font-family="'Liberation Serif', serif" font-size="7.2" font-weight="bold" text-anchor="middle" fill="#111">0</text>
<line x1="401.25" y1="562.6" x2="401.25" y2="564.2" stroke="#222" stroke-width="0.8"/>
<text x="401.25" y="572.2" font-family="'Liberation Serif', serif" font-size="7.2" font-weight="bold" text-anchor="middle" fill="#111">20</text>
<line x1="433" y1="562.6" x2="433" y2="564.2" stroke="#222" stroke-width="0.8"/>
<text x="433" y="572.2" font-family="'Liberation Serif', serif" font-size="7.2" font-weight="bold" text-anchor="middle" fill="#111">40</text>
<line x1="464.75" y1="562.6" x2="464.75" y2="564.2" stroke="#222" stroke-width="0.8"/>
<text x="464.75" y="572.2" font-family="'Liberation Serif', serif" font-size="7.2" font-weight="bold" text-anchor="middle" fill="#111">60</text>
<line x1="496.5" y1="562.6" x2="496.5" y2="564.2" stroke="#222" stroke-width="0.8"/>
<text x="496.5" y="572.2" font-family="'Liberation Serif', serif" font-size="7.2" font-weight="bold" text-anchor="middle" fill="#111">80</text>
<line x1="385.38" y1="562.6" x2="385.38" y2="563.9" stroke="#222" stroke-width="0.7"/>
<line x1="417.12" y1="562.6" x2="417.12" y2="563.9" stroke="#222" stroke-width="0.7"/>
<line x1="448.88" y1="562.6" x2="448.88" y2="563.9" stroke="#222" stroke-width="0.7"/>
<line x1="480.62" y1="562.6" x2="480.62" y2="563.9" stroke="#222" stroke-width="0.7"/>
<rect x="373.3" y="451.4" width="12.2" height="5.9" fill="#5ECAA0" stroke="#4A80F0" stroke-width="0.9"/>
<text x="388.6" y="456.9" font-family="'Liberation Serif', serif" font-size="7.4" font-weight="bold" text-anchor="start" fill="#111">HAPP3</text>
<text x="440.64" y="580" font-family="'Liberation Serif', serif" font-size="7.6" font-weight="bold" text-anchor="middle" fill="#111">Strain (%)</text>
<text x="352.3" y="505.4" font-family="'Liberation Serif', serif" font-size="7.7" font-weight="bold" text-anchor="middle" fill="#111" transform="rotate(-90 352.3 505.4)">Stress (kPa)</text>
<text x="517.7" y="443.9" font-family="'Liberation Sans', sans-serif" font-size="12" font-weight="bold" text-anchor="start" fill="#000">P</text>
<path d="M540.5 562.6 L543.67 562 L546.84 561.36 L550.01 560.68 L553.18 559.95 L556.35 559.18 L559.52 558.36 L562.69 557.49 L565.86 556.57 L569.03 555.58 L572.2 554.53 L575.37 553.42 L578.54 552.24 L581.71 550.98 L584.88 549.64 L588.05 548.22 L591.22 546.7 L594.39 545.09 L597.56 543.38 L600.73 541.56 L603.9 539.63 L607.07 537.57 L610.24 535.38 L613.41 533.06 L616.58 530.58 L619.75 527.95 L622.92 525.16 L626.09 522.18 L629.26 519.02 L632.43 515.66 L635.6 512.09 L638.77 508.28 L641.94 504.24 L645.11 499.94 L648.28 495.37 L651.45 490.52 L654.62 485.35 L657.79 479.85 L660.96 474.01 L664.13 467.8 L667.3 461.19 L667.3 461.19 L664.39 467.8 L661.48 474.01 L658.56 479.85 L655.65 485.35 L652.74 490.52 L649.83 495.37 L646.91 499.94 L644 504.24 L641.09 508.28 L638.18 512.09 L635.26 515.66 L632.35 519.02 L629.44 522.18 L626.53 525.16 L623.61 527.95 L620.7 530.58 L617.79 533.06 L614.88 535.38 L611.96 537.57 L609.05 539.63 L606.14 541.56 L603.23 543.38 L600.31 545.09 L597.4 546.7 L594.49 548.22 L591.58 549.64 L588.66 550.98 L585.75 552.24 L582.84 553.42 L579.93 554.53 L577.01 555.58 L574.1 556.57 L571.19 557.49 L568.28 558.36 L565.36 559.18 L562.45 559.95 L559.54 560.68 L556.63 561.36 L553.71 562 L550.8 562.6 Z" stroke="#74F3D6" fill="#DDA07E" stroke-width="1" stroke-linejoin="round"/>
<rect x="540.1" y="447.8" width="141.5" height="114.8" fill="none" stroke="#4a4a4a" stroke-width="0.9"/>
<line x1="538.5" y1="562.6" x2="540.1" y2="562.6" stroke="#222" stroke-width="0.8"/>
<text x="535.75" y="565.05" font-family="'Liberation Serif', serif" font-size="7.2" font-weight="bold" text-anchor="end" fill="#111">0</text>
<line x1="538.5" y1="543.47" x2="540.1" y2="543.47" stroke="#222" stroke-width="0.8"/>
<text x="535.75" y="545.91" font-family="'Liberation Serif', serif" font-size="7.2" font-weight="bold" text-anchor="end" fill="#111">50</text>
<line x1="538.5" y1="524.33" x2="540.1" y2="524.33" stroke="#222" stroke-width="0.8"/>
<text x="535.75" y="526.78" font-family="'Liberation Serif', serif" font-size="7.2" font-weight="bold" text-anchor="end" fill="#111">100</text>
<line x1="538.5" y1="505.2" x2="540.1" y2="505.2" stroke="#222" stroke-width="0.8"/>
<text x="535.75" y="507.65" font-family="'Liberation Serif', serif" font-size="7.2" font-weight="bold" text-anchor="end" fill="#111">150</text>
<line x1="538.5" y1="486.07" x2="540.1" y2="486.07" stroke="#222" stroke-width="0.8"/>
<text x="535.75" y="488.51" font-family="'Liberation Serif', serif" font-size="7.2" font-weight="bold" text-anchor="end" fill="#111">200</text>
<line x1="538.5" y1="466.93" x2="540.1" y2="466.93" stroke="#222" stroke-width="0.8"/>
<text x="535.75" y="469.38" font-family="'Liberation Serif', serif" font-size="7.2" font-weight="bold" text-anchor="end" fill="#111">250</text>
<line x1="538.5" y1="447.8" x2="540.1" y2="447.8" stroke="#222" stroke-width="0.8"/>
<text x="535.75" y="450.25" font-family="'Liberation Serif', serif" font-size="7.2" font-weight="bold" text-anchor="end" fill="#111">300</text>
<line x1="538.8" y1="553.03" x2="540.1" y2="553.03" stroke="#222" stroke-width="0.7"/>
<line x1="538.8" y1="533.9" x2="540.1" y2="533.9" stroke="#222" stroke-width="0.7"/>
<line x1="538.8" y1="514.77" x2="540.1" y2="514.77" stroke="#222" stroke-width="0.7"/>
<line x1="538.8" y1="495.63" x2="540.1" y2="495.63" stroke="#222" stroke-width="0.7"/>
<line x1="538.8" y1="476.5" x2="540.1" y2="476.5" stroke="#222" stroke-width="0.7"/>
<line x1="538.8" y1="457.37" x2="540.1" y2="457.37" stroke="#222" stroke-width="0.7"/>
<line x1="540.5" y1="562.6" x2="540.5" y2="564.2" stroke="#222" stroke-width="0.8"/>
<text x="540.5" y="572.2" font-family="'Liberation Serif', serif" font-size="7.2" font-weight="bold" text-anchor="middle" fill="#111">0</text>
<line x1="572.2" y1="562.6" x2="572.2" y2="564.2" stroke="#222" stroke-width="0.8"/>
<text x="572.2" y="572.2" font-family="'Liberation Serif', serif" font-size="7.2" font-weight="bold" text-anchor="middle" fill="#111">20</text>
<line x1="603.9" y1="562.6" x2="603.9" y2="564.2" stroke="#222" stroke-width="0.8"/>
<text x="603.9" y="572.2" font-family="'Liberation Serif', serif" font-size="7.2" font-weight="bold" text-anchor="middle" fill="#111">40</text>
<line x1="635.6" y1="562.6" x2="635.6" y2="564.2" stroke="#222" stroke-width="0.8"/>
<text x="635.6" y="572.2" font-family="'Liberation Serif', serif" font-size="7.2" font-weight="bold" text-anchor="middle" fill="#111">60</text>
<line x1="667.3" y1="562.6" x2="667.3" y2="564.2" stroke="#222" stroke-width="0.8"/>
<text x="667.3" y="572.2" font-family="'Liberation Serif', serif" font-size="7.2" font-weight="bold" text-anchor="middle" fill="#111">80</text>
<line x1="556.35" y1="562.6" x2="556.35" y2="563.9" stroke="#222" stroke-width="0.7"/>
<line x1="588.05" y1="562.6" x2="588.05" y2="563.9" stroke="#222" stroke-width="0.7"/>
<line x1="619.75" y1="562.6" x2="619.75" y2="563.9" stroke="#222" stroke-width="0.7"/>
<line x1="651.45" y1="562.6" x2="651.45" y2="563.9" stroke="#222" stroke-width="0.7"/>
<rect x="544" y="451.4" width="12.2" height="5.9" fill="#DDA07E" stroke="#74F3D6" stroke-width="0.9"/>
<text x="559.3" y="456.9" font-family="'Liberation Serif', serif" font-size="7.4" font-weight="bold" text-anchor="start" fill="#111">HAPP4</text>
<text x="611.53" y="580" font-family="'Liberation Serif', serif" font-size="7.6" font-weight="bold" text-anchor="middle" fill="#111">Strain (%)</text>
<text x="523.3" y="505.4" font-family="'Liberation Serif', serif" font-size="7.7" font-weight="bold" text-anchor="middle" fill="#111" transform="rotate(-90 523.3 505.4)">Stress (kPa)</text>
<text x="1.8" y="588.8" font-family="'Liberation Sans', sans-serif" font-size="12" font-weight="bold" text-anchor="start" fill="#000">Q</text>
<line x1="23.4" y1="591" x2="167.1" y2="591" stroke="#777" stroke-width="0.9"/>
<line x1="23.4" y1="683.7" x2="167.1" y2="683.7" stroke="#777" stroke-width="0.9"/>
<path d="M38 620.1 L66.8 614.6 L95.6 610.9 L124.3 604.9 L153 595.4" stroke="#F0303A" fill="none" stroke-width="0.9"/>
<line x1="38" y1="619.1" x2="38" y2="621.1" stroke="#F0303A" stroke-width="0.7"/>
<line x1="36.8" y1="619.1" x2="39.2" y2="619.1" stroke="#F0303A" stroke-width="0.7"/>
<line x1="36.8" y1="621.1" x2="39.2" y2="621.1" stroke="#F0303A" stroke-width="0.7"/>
<circle cx="38" cy="620.1" r="1.4" fill="#F0303A"/>
<line x1="66.8" y1="613.4" x2="66.8" y2="615.8" stroke="#F0303A" stroke-width="0.7"/>
<line x1="65.6" y1="613.4" x2="68" y2="613.4" stroke="#F0303A" stroke-width="0.7"/>
<line x1="65.6" y1="615.8" x2="68" y2="615.8" stroke="#F0303A" stroke-width="0.7"/>
<circle cx="66.8" cy="614.6" r="1.4" fill="#F0303A"/>
<line x1="95.6" y1="609.4" x2="95.6" y2="612.4" stroke="#F0303A" stroke-width="0.7"/>
<line x1="94.4" y1="609.4" x2="96.8" y2="609.4" stroke="#F0303A" stroke-width="0.7"/>
<line x1="94.4" y1="612.4" x2="96.8" y2="612.4" stroke="#F0303A" stroke-width="0.7"/>
<circle cx="95.6" cy="610.9" r="1.4" fill="#F0303A"/>
<line x1="124.3" y1="603.7" x2="124.3" y2="606.1" stroke="#F0303A" stroke-width="0.7"/>
<line x1="123.1" y1="603.7" x2="125.5" y2="603.7" stroke="#F0303A" stroke-width="0.7"/>
<line x1="123.1" y1="606.1" x2="125.5" y2="606.1" stroke="#F0303A" stroke-width="0.7"/>
<circle cx="124.3" cy="604.9" r="1.4" fill="#F0303A"/>
<line x1="153" y1="593.8" x2="153" y2="597" stroke="#F0303A" stroke-width="0.7"/>
<line x1="151.8" y1="593.8" x2="154.2" y2="593.8" stroke="#F0303A" stroke-width="0.7"/>
<line x1="151.8" y1="597" x2="154.2" y2="597" stroke="#F0303A" stroke-width="0.7"/>
<circle cx="153" cy="595.4" r="1.4" fill="#F0303A"/>
<path d="M38 635 L66.8 626.7 L95.6 625.1 L124.3 620.8 L153 613.6" stroke="#62F0CE" fill="none" stroke-width="0.9"/>
<line x1="38" y1="633" x2="38" y2="637" stroke="#62F0CE" stroke-width="0.7"/>
<line x1="36.8" y1="633" x2="39.2" y2="633" stroke="#62F0CE" stroke-width="0.7"/>
<line x1="36.8" y1="637" x2="39.2" y2="637" stroke="#62F0CE" stroke-width="0.7"/>
<circle cx="38" cy="635" r="1.4" fill="#62F0CE"/>
<line x1="66.8" y1="623.2" x2="66.8" y2="630.2" stroke="#62F0CE" stroke-width="0.7"/>
<line x1="65.6" y1="623.2" x2="68" y2="623.2" stroke="#62F0CE" stroke-width="0.7"/>
<line x1="65.6" y1="630.2" x2="68" y2="630.2" stroke="#62F0CE" stroke-width="0.7"/>
<circle cx="66.8" cy="626.7" r="1.4" fill="#62F0CE"/>
<line x1="95.6" y1="622.6" x2="95.6" y2="627.6" stroke="#62F0CE" stroke-width="0.7"/>
<line x1="94.4" y1="622.6" x2="96.8" y2="622.6" stroke="#62F0CE" stroke-width="0.7"/>
<line x1="94.4" y1="627.6" x2="96.8" y2="627.6" stroke="#62F0CE" stroke-width="0.7"/>
<circle cx="95.6" cy="625.1" r="1.4" fill="#62F0CE"/>
<line x1="124.3" y1="617.3" x2="124.3" y2="624.3" stroke="#62F0CE" stroke-width="0.7"/>
<line x1="123.1" y1="617.3" x2="125.5" y2="617.3" stroke="#62F0CE" stroke-width="0.7"/>
<line x1="123.1" y1="624.3" x2="125.5" y2="624.3" stroke="#62F0CE" stroke-width="0.7"/>
<circle cx="124.3" cy="620.8" r="1.4" fill="#62F0CE"/>
<line x1="153" y1="609.6" x2="153" y2="617.6" stroke="#62F0CE" stroke-width="0.7"/>
<line x1="151.8" y1="609.6" x2="154.2" y2="609.6" stroke="#62F0CE" stroke-width="0.7"/>
<line x1="151.8" y1="617.6" x2="154.2" y2="617.6" stroke="#62F0CE" stroke-width="0.7"/>
<circle cx="153" cy="613.6" r="1.4" fill="#62F0CE"/>
<path d="M38 655.9 L66.8 648.9 L95.6 637.9 L124.3 641.3 L153 636.1" stroke="#3C6FE8" fill="none" stroke-width="0.9"/>
<line x1="38" y1="652.4" x2="38" y2="659.4" stroke="#3C6FE8" stroke-width="0.7"/>
<line x1="36.8" y1="652.4" x2="39.2" y2="652.4" stroke="#3C6FE8" stroke-width="0.7"/>
<line x1="36.8" y1="659.4" x2="39.2" y2="659.4" stroke="#3C6FE8" stroke-width="0.7"/>
<circle cx="38" cy="655.9" r="1.4" fill="#3C6FE8"/>
<line x1="66.8" y1="645.9" x2="66.8" y2="651.9" stroke="#3C6FE8" stroke-width="0.7"/>
<line x1="65.6" y1="645.9" x2="68" y2="645.9" stroke="#3C6FE8" stroke-width="0.7"/>
<line x1="65.6" y1="651.9" x2="68" y2="651.9" stroke="#3C6FE8" stroke-width="0.7"/>
<circle cx="66.8" cy="648.9" r="1.4" fill="#3C6FE8"/>
<line x1="95.6" y1="634.9" x2="95.6" y2="640.9" stroke="#3C6FE8" stroke-width="0.7"/>
<line x1="94.4" y1="634.9" x2="96.8" y2="634.9" stroke="#3C6FE8" stroke-width="0.7"/>
<line x1="94.4" y1="640.9" x2="96.8" y2="640.9" stroke="#3C6FE8" stroke-width="0.7"/>
<circle cx="95.6" cy="637.9" r="1.4" fill="#3C6FE8"/>
<line x1="124.3" y1="639.8" x2="124.3" y2="642.8" stroke="#3C6FE8" stroke-width="0.7"/>
<line x1="123.1" y1="639.8" x2="125.5" y2="639.8" stroke="#3C6FE8" stroke-width="0.7"/>
<line x1="123.1" y1="642.8" x2="125.5" y2="642.8" stroke="#3C6FE8" stroke-width="0.7"/>
<circle cx="124.3" cy="641.3" r="1.4" fill="#3C6FE8"/>
<line x1="153" y1="634.1" x2="153" y2="638.1" stroke="#3C6FE8" stroke-width="0.7"/>
<line x1="151.8" y1="634.1" x2="154.2" y2="634.1" stroke="#3C6FE8" stroke-width="0.7"/>
<line x1="151.8" y1="638.1" x2="154.2" y2="638.1" stroke="#3C6FE8" stroke-width="0.7"/>
<circle cx="153" cy="636.1" r="1.4" fill="#3C6FE8"/>
<line x1="23.4" y1="591" x2="23.4" y2="683.7" stroke="#F0303A" stroke-width="0.9"/>
<line x1="167.1" y1="591" x2="167.1" y2="683.7" stroke="#62F0CE" stroke-width="0.9"/>
<line x1="184.6" y1="591" x2="184.6" y2="683.7" stroke="#3C6FE8" stroke-width="0.9"/>
<line x1="21.8" y1="683.7" x2="23.4" y2="683.7" stroke="#F0303A" stroke-width="0.8"/>
<text x="21" y="685.9" font-family="'Liberation Serif', serif" font-size="6.4" font-weight="bold" text-anchor="end" fill="#F0303A">0</text>
<line x1="21.8" y1="660.53" x2="23.4" y2="660.53" stroke="#F0303A" stroke-width="0.8"/>
<text x="21" y="662.73" font-family="'Liberation Serif', serif" font-size="6.4" font-weight="bold" text-anchor="end" fill="#F0303A">70</text>
<line x1="21.8" y1="637.35" x2="23.4" y2="637.35" stroke="#F0303A" stroke-width="0.8"/>
<text x="21" y="639.55" font-family="'Liberation Serif', serif" font-size="6.4" font-weight="bold" text-anchor="end" fill="#F0303A">140</text>
<line x1="21.8" y1="614.17" x2="23.4" y2="614.17" stroke="#F0303A" stroke-width="0.8"/>
<text x="21" y="616.38" font-family="'Liberation Serif', serif" font-size="6.4" font-weight="bold" text-anchor="end" fill="#F0303A">210</text>
<line x1="21.8" y1="591" x2="23.4" y2="591" stroke="#F0303A" stroke-width="0.8"/>
<text x="21" y="593.2" font-family="'Liberation Serif', serif" font-size="6.4" font-weight="bold" text-anchor="end" fill="#F0303A">280</text>
<line x1="22.4" y1="672.11" x2="23.4" y2="672.11" stroke="#F0303A" stroke-width="0.6"/>
<line x1="22.4" y1="648.94" x2="23.4" y2="648.94" stroke="#F0303A" stroke-width="0.6"/>
<line x1="22.4" y1="625.76" x2="23.4" y2="625.76" stroke="#F0303A" stroke-width="0.6"/>
<line x1="22.4" y1="602.59" x2="23.4" y2="602.59" stroke="#F0303A" stroke-width="0.6"/>
<line x1="167.1" y1="683.7" x2="168.7" y2="683.7" stroke="#62F0CE" stroke-width="0.8"/>
<text x="169.8" y="685.9" font-family="'Liberation Serif', serif" font-size="6.4" font-weight="bold" text-anchor="start" fill="#62F0CE">0</text>
<line x1="167.1" y1="663.02" x2="168.7" y2="663.02" stroke="#62F0CE" stroke-width="0.8"/>
<text x="169.8" y="665.22" font-family="'Liberation Serif', serif" font-size="6.4" font-weight="bold" text-anchor="start" fill="#62F0CE">20</text>
<line x1="167.1" y1="642.34" x2="168.7" y2="642.34" stroke="#62F0CE" stroke-width="0.8"/>
<text x="169.8" y="644.54" font-family="'Liberation Serif', serif" font-size="6.4" font-weight="bold" text-anchor="start" fill="#62F0CE">40</text>
<line x1="167.1" y1="621.66" x2="168.7" y2="621.66" stroke="#62F0CE" stroke-width="0.8"/>
<text x="169.8" y="623.86" font-family="'Liberation Serif', serif" font-size="6.4" font-weight="bold" text-anchor="start" fill="#62F0CE">60</text>
<line x1="167.1" y1="600.98" x2="168.7" y2="600.98" stroke="#62F0CE" stroke-width="0.8"/>
<text x="169.8" y="603.18" font-family="'Liberation Serif', serif" font-size="6.4" font-weight="bold" text-anchor="start" fill="#62F0CE">80</text>
<line x1="184.6" y1="683.7" x2="186.2" y2="683.7" stroke="#3C6FE8" stroke-width="0.8"/>
<text x="186.5" y="685.9" font-family="'Liberation Serif', serif" font-size="6.4" font-weight="bold" text-anchor="start" fill="#3C6FE8">0</text>
<line x1="184.6" y1="668.25" x2="186.2" y2="668.25" stroke="#3C6FE8" stroke-width="0.8"/>
<text x="186.5" y="670.45" font-family="'Liberation Serif', serif" font-size="6.4" font-weight="bold" text-anchor="start" fill="#3C6FE8">2</text>
<line x1="184.6" y1="652.8" x2="186.2" y2="652.8" stroke="#3C6FE8" stroke-width="0.8"/>
<text x="186.5" y="655" font-family="'Liberation Serif', serif" font-size="6.4" font-weight="bold" text-anchor="start" fill="#3C6FE8">4</text>
<line x1="184.6" y1="637.35" x2="186.2" y2="637.35" stroke="#3C6FE8" stroke-width="0.8"/>
<text x="186.5" y="639.55" font-family="'Liberation Serif', serif" font-size="6.4" font-weight="bold" text-anchor="start" fill="#3C6FE8">6</text>
<line x1="184.6" y1="621.9" x2="186.2" y2="621.9" stroke="#3C6FE8" stroke-width="0.8"/>
<text x="186.5" y="624.1" font-family="'Liberation Serif', serif" font-size="6.4" font-weight="bold" text-anchor="start" fill="#3C6FE8">8</text>
<line x1="184.6" y1="606.45" x2="186.2" y2="606.45" stroke="#3C6FE8" stroke-width="0.8"/>
<text x="186.5" y="608.65" font-family="'Liberation Serif', serif" font-size="6.4" font-weight="bold" text-anchor="start" fill="#3C6FE8">10</text>
<line x1="184.6" y1="591" x2="186.2" y2="591" stroke="#3C6FE8" stroke-width="0.8"/>
<text x="186.5" y="593.2" font-family="'Liberation Serif', serif" font-size="6.4" font-weight="bold" text-anchor="start" fill="#3C6FE8">12</text>
<line x1="38" y1="683.7" x2="38" y2="685.2" stroke="#555" stroke-width="0.7"/>
<line x1="66.8" y1="683.7" x2="66.8" y2="685.2" stroke="#555" stroke-width="0.7"/>
<line x1="95.6" y1="683.7" x2="95.6" y2="685.2" stroke="#555" stroke-width="0.7"/>
<line x1="124.3" y1="683.7" x2="124.3" y2="685.2" stroke="#555" stroke-width="0.7"/>
<line x1="153" y1="683.7" x2="153" y2="685.2" stroke="#555" stroke-width="0.7"/>
<text x="38" y="692.1" font-family="'Liberation Serif', serif" font-size="6" font-weight="bold" text-anchor="middle" fill="#111">HAP</text>
<text x="66.8" y="692.1" font-family="'Liberation Serif', serif" font-size="6" font-weight="bold" text-anchor="middle" fill="#111">HAPP1</text>
<text x="95.6" y="692.1" font-family="'Liberation Serif', serif" font-size="6" font-weight="bold" text-anchor="middle" fill="#111">HAPP2</text>
<text x="124.3" y="692.1" font-family="'Liberation Serif', serif" font-size="6" font-weight="bold" text-anchor="middle" fill="#111">HAPP3</text>
<text x="153" y="692.1" font-family="'Liberation Serif', serif" font-size="6" font-weight="bold" text-anchor="middle" fill="#111">HAPP4</text>
<text x="9.1" y="635.1" font-family="'Liberation Serif', serif" font-size="6.4" font-weight="bold" text-anchor="middle" fill="#F0303A" transform="rotate(-90 9.1 635.1)">Intensity (kPa)</text>
<text x="181.6" y="638.8" font-family="'Liberation Serif', serif" font-size="6.35" font-weight="bold" text-anchor="middle" fill="#62F0CE" transform="rotate(-90 181.6 638.8)">Toughness (kJ/m&#179;)</text>
<text x="198.6" y="637.2" font-family="'Liberation Serif', serif" font-size="6.3" font-weight="bold" text-anchor="middle" fill="#3C6FE8" transform="rotate(-90 198.6 637.2)">Energy dissipation (kJ/m&#179;)</text>
<defs><linearGradient id="glv" x1="0" y1="0" x2="0" y2="1"><stop offset="0" stop-color="#cbc6bc"/><stop offset="0.55" stop-color="#bdb7ac"/><stop offset="1" stop-color="#a6a095"/></linearGradient><linearGradient id="sbg" x1="0" y1="0" x2="1" y2="0.4"><stop offset="0" stop-color="#b9b9b6"/><stop offset="1" stop-color="#d9dad7"/></linearGradient><linearGradient id="sbg2" x1="0" y1="0" x2="0" y2="1"><stop offset="0" stop-color="#c6c6c3"/><stop offset="1" stop-color="#d4d5d2"/></linearGradient></defs>
<text x="204" y="588.7" font-family="'Liberation Sans', sans-serif" font-size="12" font-weight="bold" text-anchor="start" fill="#000">R</text>
<text x="204" y="644" font-family="'Liberation Sans', sans-serif" font-size="12" font-weight="bold" text-anchor="start" fill="#000">S</text>
<clipPath id="ep0"><ellipse cx="254.6" cy="615.1" rx="46.2" ry="22.8"/></clipPath>
<g clip-path="url(#ep0)">
<rect x="208.4" y="592.3" width="92.4" height="45.6" fill="#dcdfdb"/>
<g transform="translate(208.4 592.3)">
<path d="M0 11 Q14 11 30 12 Q50 12.5 66 14.5 Q82 16.5 89 19 Q94 21.5 91 24.5 Q86 26.5 76 27.5 Q58 30 40 34 Q20 38 0 39.5 Z" fill="url(#glv)"/>
<path d="M0 35 Q14 34 26 35 Q40 36 46 41 Q50 45 46 47 L0 47 Z" fill="#a9a398"/>
<path d="M4 41 Q16 39 30 43.5 M10 45 Q20 43 28 46" stroke="#5d5850" stroke-width="0.9" fill="none"/>
<path d="M6 22 Q26 27 56 25" stroke="#b2aca1" stroke-width="0.6" fill="none"/>
<path d="M37 13.5 Q48 10 64 11.5 Q67 14.5 63 17 Q50 18.5 39 17.5 Z" fill="#d6e03c"/>
</g></g>
<ellipse cx="254.6" cy="615.1" rx="46.2" ry="22.8" fill="none" stroke="#EE8B2E" stroke-width="1.8"/>
<clipPath id="ep1"><ellipse cx="348.8" cy="615.1" rx="46.2" ry="22.8"/></clipPath>
<g clip-path="url(#ep1)">
<rect x="302.6" y="592.3" width="92.4" height="45.6" fill="#dcdfdb"/>
<g transform="translate(302.6 592.3)">
<path d="M0 17 Q18 12 36 10.5 Q54 10 64 15 Q76 23 84 34 Q89 41 90 47 L78 47 Q72 36 64 31 Q52 28 40 31 Q22 36 0 42 Z" fill="url(#glv)"/>
<path d="M18 47 Q22 38 32 35.5 Q42 35 46 41 L47 47 Z" fill="#bdb7ac"/>
<path d="M6 43 L20 47 L4 47 Z" fill="#3e3b36"/>
<path d="M58 20 Q66 26 72 36" stroke="#a29c91" stroke-width="0.6" fill="none"/>
<path d="M38 11 Q50 8.5 58 11.5 Q65 15 67 20 Q63 21 58 18 Q50 15.5 40 16 Z" fill="#d6e03c"/>
</g></g>
<ellipse cx="348.8" cy="615.1" rx="46.2" ry="22.8" fill="none" stroke="#EE8B2E" stroke-width="1.8"/>
<clipPath id="ep2"><ellipse cx="443" cy="615.1" rx="46.2" ry="22.8"/></clipPath>
<g clip-path="url(#ep2)">
<rect x="396.8" y="592.3" width="92.4" height="45.6" fill="#dcdfdb"/>
<g transform="translate(396.8 592.3)">
<path d="M0 16 Q12 9 28 8 Q44 8 54 14 Q62 20 61 32 Q60 42 58 47 L48 47 Q48 40 44 36 Q36 33 28 36 Q14 42 0 44 Z" fill="url(#glv)"/>
<path d="M22 47 Q26 40 33 38 Q40 38 42 47 Z" fill="#c0bab0"/>
<path d="M44 18 Q48 26 46 36" stroke="#8f897f" stroke-width="0.6" fill="none"/>
<path d="M40 12 Q52 9.5 58 15 Q64 21 64 30 Q61 31 59.5 26 Q56 18 45 16.5 Z" fill="#d6e03c"/>
</g></g>
<ellipse cx="443" cy="615.1" rx="46.2" ry="22.8" fill="none" stroke="#EE8B2E" stroke-width="1.8"/>
<clipPath id="ep3"><ellipse cx="537.3" cy="615.1" rx="46.2" ry="22.8"/></clipPath>
<g clip-path="url(#ep3)">
<rect x="491.1" y="592.3" width="92.4" height="45.6" fill="#dcdfdb"/>
<g transform="translate(491.1 592.3)">
<path d="M0 10 Q14 5 28 5 Q44 7 54 13 Q64 20 63 30 Q60 40 50 45 Q40 48 30 47 L0 47 Z" fill="url(#glv)"/>
<path d="M18 34 Q30 30 42 33 Q50 36 48 42" stroke="#8f897f" stroke-width="0.8" fill="none"/>
<path d="M20 44 Q26 40 34 43 L30 47 L20 47 Z" fill="#3e3b36"/>
<path d="M0 4 L10 4 Q6 24 8 47 L0 47 Z" fill="#a8a297" opacity="0.7"/>
<path d="M55 15 Q61 18 64 26 Q65 34 60 41 Q58 39 59.5 33 Q60 24 55 19 Z" fill="#d6e03c"/>
</g></g>
<ellipse cx="537.3" cy="615.1" rx="46.2" ry="22.8" fill="none" stroke="#EE8B2E" stroke-width="1.8"/>
<clipPath id="ep4"><ellipse cx="631.6" cy="615.1" rx="46.2" ry="22.8"/></clipPath>
<g clip-path="url(#ep4)">
<rect x="585.4" y="592.3" width="92.4" height="45.6" fill="#dcdfdb"/>
<g transform="translate(585.4 592.3)">
<path d="M0 0 L26 0 Q26 9 32 13 Q58 13 84 16 Q92 18 91 22 Q88 26 74 26.5 L52 27.5 Q40 30 30 37 Q20 46 14 47 L0 47 Z" fill="url(#glv)"/>
<path d="M0 0 L18 0 Q12 22 14 47 L0 47 Z" fill="#a29c91"/>
<path d="M38 26.5 Q47 25.5 57 26.5 Q55 30.5 45 31 Z" fill="#d6e03c"/>
</g></g>
<ellipse cx="631.6" cy="615.1" rx="46.2" ry="22.8" fill="none" stroke="#EE8B2E" stroke-width="1.8"/>
<clipPath id="ep5"><ellipse cx="255.4" cy="670.7" rx="46.3" ry="22.5"/></clipPath>
<g clip-path="url(#ep5)">
<rect x="209.1" y="648.2" width="92.6" height="45" fill="#c8c9c6"/>
<g transform="translate(209.1 648.2)">
<path d="M0 0 L94 0 L94 48 L0 48 Z" fill="url(#sbg)"/>
<path d="M24 31 Q50 27 94 22 L94 48 L30 48 Q21 40 24 31 Z" fill="#c6c0b5"/>
<ellipse cx="47.5" cy="23" rx="14" ry="11" fill="#c27c0a"/>
<ellipse cx="47.5" cy="18.5" rx="11.5" ry="6" fill="#d9a024" opacity="0.85"/>
</g></g>
<ellipse cx="255.4" cy="670.7" rx="46.3" ry="22.5" fill="none" stroke="#3E7CCB" stroke-width="1.8"/>
<clipPath id="ep6"><ellipse cx="349.6" cy="670.7" rx="46.3" ry="22.5"/></clipPath>
<g clip-path="url(#ep6)">
<rect x="303.3" y="648.2" width="92.6" height="45" fill="#c8c9c6"/>
<g transform="translate(303.3 648.2)">
<path d="M0 0 L94 0 L94 48 L0 48 Z" fill="url(#sbg)"/>
<path d="M54 22 Q70 15 86 21 Q94 27 94 48 L55 48 Q51 34 54 22 Z" fill="#dcd8cf"/>
<path d="M32 30 Q40 24 50 26 Q56 32 54 48 L34 48 Q30 40 32 30 Z" fill="#e2dfd6"/>
<path d="M27 17 Q42 13 58 17 L57 27.5 Q42 30.5 27 27.5 Z" fill="#b9740c"/>
<path d="M29 17 Q42 14 56 17 L56 21 Q42 19 29 21 Z" fill="#d8a232" opacity="0.85"/>
</g></g>
<ellipse cx="349.6" cy="670.7" rx="46.3" ry="22.5" fill="none" stroke="#3E7CCB" stroke-width="1.8"/>
<clipPath id="ep7"><ellipse cx="443.8" cy="670.7" rx="46.3" ry="22.5"/></clipPath>
<g clip-path="url(#ep7)">
<rect x="397.5" y="648.2" width="92.6" height="45" fill="#c8c9c6"/>
<g transform="translate(397.5 648.2)">
<path d="M0 0 L94 0 L94 48 L0 48 Z" fill="url(#sbg)"/>
<path d="M38 8 Q50 0 80 1 Q94 6 94 26 L94 48 L44 48 Q40 36 46 28 Q38 20 38 8 Z" fill="#ddd9d1"/>
<path d="M46 30 Q62 24 94 27" stroke="#b6b0a6" stroke-width="0.8" fill="none"/>
<ellipse cx="40" cy="21.5" rx="10.8" ry="7.6" fill="#9c4410" transform="rotate(12 40 21.5)"/>
</g></g>
<ellipse cx="443.8" cy="670.7" rx="46.3" ry="22.5" fill="none" stroke="#3E7CCB" stroke-width="1.8"/>
<clipPath id="ep8"><ellipse cx="538.1" cy="670.7" rx="46.3" ry="22.5"/></clipPath>
<g clip-path="url(#ep8)">
<rect x="491.8" y="648.2" width="92.6" height="45" fill="#c8c9c6"/>
<g transform="translate(491.8 648.2)">
<path d="M0 0 L94 0 L94 48 L0 48 Z" fill="url(#sbg2)"/>
<path d="M0 6 Q20 1 37 9 Q39 24 31 34 Q14 35 0 31 Z" fill="#a7a39a"/>
<path d="M37 1 Q56 -1 76 3 Q78 12 70 16 Q54 14 40 14 Z" fill="#b6b1a8"/>
<path d="M74 5 Q88 7 94 13 L94 22 Q84 20 76 18 Z" fill="#aca79d"/>
<path d="M56 48 Q58 37 66 35 Q75 35 78 48 Z" fill="#b1aca2"/>
<path d="M34 30 L41 14 L56 13 L64 17 L66 36 L58 45 L50 41 Z" fill="#e3e5c4" stroke="#deb226" stroke-width="1.2"/>
</g></g>
<ellipse cx="538.1" cy="670.7" rx="46.3" ry="22.5" fill="none" stroke="#3E7CCB" stroke-width="1.8"/>
<clipPath id="ep9"><ellipse cx="632.4" cy="670.7" rx="46.3" ry="22.5"/></clipPath>
<g clip-path="url(#ep9)">
<rect x="586.1" y="648.2" width="92.6" height="45" fill="#c8c9c6"/>
<g transform="translate(586.1 648.2)">
<path d="M0 0 L94 0 L94 48 L0 48 Z" fill="url(#sbg2)"/>
<path d="M12 0 Q28 -2 38 4 Q38 14 30 18 Q18 16 12 8 Z" fill="#aaa59c"/>
<path d="M58 0 Q74 -2 88 4 Q84 14 74 17 Q62 14 58 8 Z" fill="#aaa59c"/>
<path d="M20 48 Q25 31 36 29 Q44 31 45 48 Z" fill="#aea99f"/>
<path d="M55 48 Q58 31 68 29 Q78 31 80 48 Z" fill="#aea99f"/>
<rect x="35" y="7.5" width="32" height="30.5" fill="#e6e8ce" stroke="#dcb028" stroke-width="1.0"/>
</g></g>
<ellipse cx="632.4" cy="670.7" rx="46.3" ry="22.5" fill="none" stroke="#3E7CCB" stroke-width="1.8"/>
<text x="1.8" y="702.3" font-family="'Liberation Sans', sans-serif" font-size="12" font-weight="bold" text-anchor="start" fill="#000">T</text>
<clipPath id="sem0"><rect x="6.8" y="704" width="130" height="88"/></clipPath>
<g clip-path="url(#sem0)">
<rect x="6.8" y="704" width="130" height="88" fill="#6a6a6a"/>
<defs><linearGradient id="g0_2" x1="0.98" y1="0.63" x2="0.02" y2="0.37"><stop offset="0.2" stop-color="rgb(77,77,77)"/><stop offset="1" stop-color="rgb(147,147,147)"/></linearGradient><linearGradient id="g0_4" x1="0.01" y1="0.41" x2="0.99" y2="0.59"><stop offset="0.2" stop-color="rgb(39,39,39)"/><stop offset="1" stop-color="rgb(94,94,94)"/></linearGradient><linearGradient id="g0_8" x1="0.01" y1="0.60" x2="0.99" y2="0.40"><stop offset="0.2" stop-color="rgb(88,88,88)"/><stop offset="1" stop-color="rgb(131,131,131)"/></linearGradient><linearGradient id="g0_9" x1="0.93" y1="0.75" x2="0.07" y2="0.25"><stop offset="0.2" stop-color="rgb(95,95,95)"/><stop offset="1" stop-color="rgb(149,149,149)"/></linearGradient><linearGradient id="g0_10" x1="0.17" y1="0.87" x2="0.83" y2="0.13"><stop offset="0.2" stop-color="rgb(92,92,92)"/><stop offset="1" stop-color="rgb(120,120,120)"/></linearGradient><linearGradient id="g0_11" x1="0.94" y1="0.74" x2="0.06" y2="0.26"><stop offset="0.2" stop-color="rgb(37,37,37)"/><stop offset="1" stop-color="rgb(78,78,78)"/></linearGradient><linearGradient id="g0_12" x1="0.97" y1="0.32" x2="0.03" y2="0.68"><stop offset="0.2" stop-color="rgb(94,94,94)"/><stop offset="1" stop-color="rgb(143,143,143)"/></linearGradient><linearGradient id="g0_13" x1="0.47" y1="1.00" x2="0.53" y2="0.00"><stop offset="0.2" stop-color="rgb(43,43,43)"/><stop offset="1" stop-color="rgb(71,71,71)"/></linearGradient><linearGradient id="g0_14" x1="0.10" y1="0.20" x2="0.90" y2="0.80"><stop offset="0.2" stop-color="rgb(70,70,70)"/><stop offset="1" stop-color="rgb(127,127,127)"/></linearGradient><linearGradient id="g0_15" x1="0.37" y1="0.98" x2="0.63" y2="0.02"><stop offset="0.2" stop-color="rgb(75,75,75)"/><stop offset="1" stop-color="rgb(125,125,125)"/></linearGradient><linearGradient id="g0_16" x1="0.71" y1="0.95" x2="0.29" y2="0.05"><stop offset="0.2" stop-color="rgb(79,79,79)"/><stop offset="1" stop-color="rgb(138,138,138)"/></linearGradient><linearGradient id="g0_17" x1="0.08" y1="0.22" x2="0.92" y2="0.78"><stop offset="0.2" stop-color="rgb(84,84,84)"/><stop offset="1" stop-color="rgb(145,145,145)"/></linearGradient><linearGradient id="g0_18" x1="0.99" y1="0.38" x2="0.01" y2="0.62"><stop offset="0.2" stop-color="rgb(77,77,77)"/><stop offset="1" stop-color="rgb(128,128,128)"/></linearGradient><linearGradient id="g0_19" x1="0.97" y1="0.34" x2="0.03" y2="0.66"><stop offset="0.2" stop-color="rgb(76,76,76)"/><stop offset="1" stop-color="rgb(120,120,120)"/></linearGradient><linearGradient id="g0_20" x1="0.98" y1="0.36" x2="0.02" y2="0.64"><stop offset="0.2" stop-color="rgb(92,92,92)"/><stop offset="1" stop-color="rgb(132,132,132)"/></linearGradient><linearGradient id="g0_21" x1="0.83" y1="0.87" x2="0.17" y2="0.13"><stop offset="0.2" stop-color="rgb(96,96,96)"/><stop offset="1" stop-color="rgb(126,126,126)"/></linearGradient><linearGradient id="g0_22" x1="0.97" y1="0.34" x2="0.03" y2="0.66"><stop offset="0.2" stop-color="rgb(84,84,84)"/><stop offset="1" stop-color="rgb(138,138,138)"/></linearGradient><linearGradient id="g0_23" x1="0.01" y1="0.59" x2="0.99" y2="0.41"><stop offset="0.2" stop-color="rgb(32,32,32)"/><stop offset="1" stop-color="rgb(85,85,85)"/></linearGradient><linearGradient id="g0_24" x1="0.62" y1="0.01" x2="0.38" y2="0.99"><stop offset="0.2" stop-color="rgb(79,79,79)"/><stop offset="1" stop-color="rgb(149,149,149)"/></linearGradient><linearGradient id="g0_25" x1="0.90" y1="0.20" x2="0.10" y2="0.80"><stop offset="0.2" stop-color="rgb(84,84,84)"/><stop offset="1" stop-color="rgb(121,121,121)"/></linearGradient><linearGradient id="g0_26" x1="0.06" y1="0.26" x2="0.94" y2="0.74"><stop offset="0.2" stop-color="rgb(45,45,45)"/><stop offset="1" stop-color="rgb(75,75,75)"/></linearGradient><linearGradient id="g0_29" x1="0.24" y1="0.07" x2="0.76" y2="0.93"><stop offset="0.2" stop-color="rgb(34,34,34)"/><stop offset="1" stop-color="rgb(76,76,76)"/></linearGradient><linearGradient id="g0_30" x1="0.36" y1="0.02" x2="0.64" y2="0.98"><stop offset="0.2" stop-color="rgb(31,31,31)"/><stop offset="1" stop-color="rgb(82,82,82)"/></linearGradient><linearGradient id="g0_31" x1="0.16" y1="0.13" x2="0.84" y2="0.87"><stop offset="0.2" stop-color="rgb(78,78,78)"/><stop offset="1" stop-color="rgb(131,131,131)"/></linearGradient><linearGradient id="g0_32" x1="0.04" y1="0.70" x2="0.96" y2="0.30"><stop offset="0.2" stop-color="rgb(89,89,89)"/><stop offset="1" stop-color="rgb(124,124,124)"/></linearGradient><linearGradient id="g0_33" x1="0.12" y1="0.17" x2="0.88" y2="0.83"><stop offset="0.2" stop-color="rgb(93,93,93)"/><stop offset="1" stop-color="rgb(151,151,151)"/></linearGradient><linearGradient id="g0_36" x1="0.39" y1="0.01" x2="0.61" y2="0.99"><stop offset="0.2" stop-color="rgb(79,79,79)"/><stop offset="1" stop-color="rgb(123,123,123)"/></linearGradient><linearGradient id="g0_39" x1="0.23" y1="0.08" x2="0.77" y2="0.92"><stop offset="0.2" stop-color="rgb(79,79,79)"/><stop offset="1" stop-color="rgb(132,132,132)"/></linearGradient></defs>
<path d="M22.45 700.42 Q33.65 691.54 43.33 680.86 Q48.85 690.03 54.56 699 Q46.61 706.92 38.68 714.87 Q31.5 706.75 22.45 700.42 Z" fill="url(#g0_2)" stroke="rgb(230,230,230)" stroke-width="0.74"/>
<path d="M22.45 700.42 Q25.27 699.61 29.01 696.88" stroke="rgb(181,181,181)" stroke-width="0.6" fill="none" opacity="0.8"/>
<path d="M110.5 709.38 Q111.4 703.62 115.86 705.38 Q107.8 660.22 99.62 615.52 Q94.83 654.54 87.7 683.82 Q92.83 690.88 94.62 700.91 Q102.56 705.11 110.5 709.38 Z" fill="url(#g0_4)" stroke="rgb(222,222,222)" stroke-width="1.02"/>
<path d="M115.86 705.38 Q112.36 699.5 105.55 694.03" stroke="rgb(212,212,212)" stroke-width="0.6" fill="none" opacity="0.8"/>
<path d="M114.72 703.59 L99.78 620.92 L104.33 673.08 Z" fill="rgb(188,188,188)" opacity="0.75"/>
<path d="M39.7 726.71 Q40.43 721.27 38.68 714.87 Q30.9 707.46 22.45 700.42 Q15.08 702.12 6.64 701.43 Q3.85 704.44 1.78 707.83 Q3.81 707.64 2.7 706.36 Q8.03 714.34 12.59 722.39 Q24.65 724.23 36.85 726.39 Q35.19 724.29 39.7 726.71 Z" fill="url(#g0_8)" stroke="rgb(201,201,201)" stroke-width="1.14"/>
<path d="M36.85 726.39 Q31.54 721.05 25.47 716.51" stroke="rgb(178,178,178)" stroke-width="0.6" fill="none" opacity="0.8"/>
<path d="M13.19 721.67 L35.51 725.35 L22.17 718.18 Z" fill="rgb(159,159,159)" opacity="0.75"/>
<path d="M39.7 726.71 Q41.35 720.31 38.68 714.87 Q47.34 708.24 54.56 699 Q60.48 701.16 66.78 702.52 Q66.61 708.77 67.52 714.32 Q60.11 724.23 52.69 734.14 Q50.5 733.69 48.3 733.24 Q43.08 731.28 39.7 726.71 Z" fill="url(#g0_9)" stroke="rgb(224,224,224)" stroke-width="0.9"/>
<path d="M39.7 726.71 Q44.3 722.89 47.63 721.77" stroke="rgb(188,188,188)" stroke-width="0.6" fill="none" opacity="0.8"/>
<path d="M48.65 732.01 L40.73 726 L48.82 723.17 Z" fill="rgb(167,167,167)" opacity="0.75"/>
<path d="M86.44 724.18 Q86.42 726.86 85.4 725.87 Q76.76 719.41 67.52 714.32 Q66.41 708.41 66.78 702.52 Q76.82 691.63 87.7 683.82 Q91.96 691.04 94.62 700.91 Q90.6 712.58 86.44 724.18 Z" fill="url(#g0_10)" stroke="rgb(207,207,207)" stroke-width="1.22"/>
<path d="M67.95 703.01 L87.2 685.8 L79.58 701.81 Z" fill="rgb(146,146,146)" opacity="0.75"/>
<path d="M108.16 719.94 Q97.29 722.09 86.44 724.18 Q89.55 712.44 94.62 700.91 Q102.44 705.54 110.5 709.38 Q108.69 714.59 108.16 719.94 Z" fill="url(#g0_11)" stroke="rgb(222,222,222)" stroke-width="1.61"/>
<path d="M108.16 719.94 Q113.64 724.72 116.89 733.15 Q123.14 724.49 130.47 718.49 Q130.5 712.58 134.6 705.65 Q125.71 704.72 115.86 705.38 Q112.46 706.47 110.5 709.38 Q108.72 714.62 108.16 719.94 Z" fill="url(#g0_12)" stroke="rgb(210,210,210)" stroke-width="1.34"/>
<path d="M134.6 705.65 Q135.47 703.25 137.66 702.09 Q168.22 712.36 202.51 721.51 Q180.35 727.51 163.68 735.34 Q149.8 728.94 135.92 722.57 Q132.64 720.62 130.47 718.49 Q134.88 712.78 134.6 705.65 Z" fill="url(#g0_13)" stroke="rgb(205,205,205)" stroke-width="0.69"/>
<path d="M202.51 721.51 Q184.22 722.03 167.48 721.88" stroke="rgb(181,181,181)" stroke-width="0.6" fill="none" opacity="0.8"/>
<path d="M135.9 706.6 L138.71 703.33 L144.35 711.56 Z" fill="rgb(158,158,158)" opacity="0.75"/>
<path d="M2.7 706.36 Q-4.62 723.82 -14.33 739.43 Q-3.79 744.09 7.14 747.71 Q10.17 735.29 12.59 722.39 Q7.17 715.6 2.7 706.36 Z" fill="url(#g0_14)" stroke="rgb(227,227,227)" stroke-width="0.95"/>
<path d="M18.88 748.91 Q14.7 749.22 9.94 751.88 Q9.33 748.84 7.14 747.71 Q10.94 735.71 12.59 722.39 Q23.85 726.11 36.85 726.39 Q27.8 737.66 18.88 748.91 Z" fill="url(#g0_15)" stroke="rgb(199,199,199)" stroke-width="1.54"/>
<path d="M32.73 754.87 Q40.39 743.9 48.3 733.24 Q43.19 730.72 39.7 726.71 Q37.79 728.4 36.85 726.39 Q28.86 737.7 18.88 748.91 Q25.77 751.94 32.73 754.87 Z" fill="url(#g0_16)" stroke="rgb(208,208,208)" stroke-width="1.58"/>
<path d="M61.17 749.01 Q69.19 748.24 76.43 751.35 Q81.85 749.07 85.84 745.07 Q84.7 735.54 85.4 725.87 Q76.12 721.23 67.52 714.32 Q59.26 723.31 52.69 734.14 Q58.83 740.93 61.17 749.01 Z" fill="url(#g0_17)" stroke="rgb(215,215,215)" stroke-width="1.61"/>
<path d="M67.52 714.32 Q68.17 719.82 70.22 725.3" stroke="rgb(196,196,196)" stroke-width="0.6" fill="none" opacity="0.8"/>
<path d="M84.29 726.73 L67.84 716.1 L73.69 729.35 Z" fill="rgb(190,190,190)" opacity="0.75"/>
<path d="M108.16 719.94 Q110.38 727.58 116.89 733.15 Q117.43 734.13 117.07 735.05 Q106.22 739.44 97.54 746.01 Q92.15 744.79 85.84 745.07 Q88.06 734.99 85.4 725.87 Q84.95 724.48 86.44 724.18 Q97.67 723.8 108.16 719.94 Z" fill="url(#g0_18)" stroke="rgb(223,223,223)" stroke-width="1.22"/>
<path d="M116.89 733.15 Q124.12 726.67 130.47 718.49 Q133.1 720.88 135.92 722.57 Q135.45 737 137.27 751.76 Q137.33 754.33 136.74 755.47 Q127.18 744.11 117.07 735.05 Q119.1 734.45 116.89 733.15 Z" fill="url(#g0_19)" stroke="rgb(228,228,228)" stroke-width="1.61"/>
<path d="M137.27 751.76 Q133.17 748.97 132.91 742.72" stroke="rgb(177,177,177)" stroke-width="0.6" fill="none" opacity="0.8"/>
<path d="M117.86 733.38 L130.36 719.9 L126.69 731.57 Z" fill="rgb(173,173,173)" opacity="0.75"/>
<path d="M135.92 722.57 Q149.63 729.27 163.68 735.34 Q150.92 744.19 137.27 751.76 Q136.29 737.19 135.92 722.57 Z" fill="url(#g0_20)" stroke="rgb(203,203,203)" stroke-width="0.97"/>
<path d="M163.68 735.34 Q156.97 734.85 154.22 737.9" stroke="rgb(170,170,170)" stroke-width="0.6" fill="none" opacity="0.8"/>
<path d="M9.49 753.49 Q4.01 752.79 9.94 751.88 Q10.22 749.62 7.14 747.71 Q-4.42 743.92 -14.33 739.43 Q-88.13 749.58 -173.21 759.02 Q-79.66 762.68 -0.38 768.84 Q5.99 761.52 9.49 753.49 Z" fill="url(#g0_21)" stroke="rgb(212,212,212)" stroke-width="0.71"/>
<path d="M-14.33 739.43 Q-15.86 743.84 -20.61 749.6" stroke="rgb(210,210,210)" stroke-width="0.6" fill="none" opacity="0.8"/>
<path d="M32.73 754.87 Q38.37 761.14 46.27 767.45 Q44.18 769.27 45.2 772.56 Q35.28 776.7 23.68 777.79 Q17.3 765.3 9.49 753.49 Q12.36 753.98 9.94 751.88 Q15.4 751.25 18.88 748.91 Q25.94 753.46 32.73 754.87 Z" fill="url(#g0_22)" stroke="rgb(213,213,213)" stroke-width="1.46"/>
<path d="M45.2 772.56 Q43.04 769.96 38.11 765.67" stroke="rgb(202,202,202)" stroke-width="0.6" fill="none" opacity="0.8"/>
<path d="M32.73 754.87 Q40.95 758.92 46.27 767.45 Q53.25 757.32 61.17 749.01 Q57.17 741.41 52.69 734.14 Q50.7 732.46 48.3 733.24 Q40.63 744.11 32.73 754.87 Z" fill="url(#g0_23)" stroke="rgb(212,212,212)" stroke-width="1.12"/>
<path d="M48.3 734.4 L33.97 754.3 L44.84 746.12 Z" fill="rgb(189,189,189)" opacity="0.75"/>
<path d="M61.17 749.01 Q69.38 749.17 76.43 751.35 Q78.34 753.18 79 755.79 Q66.6 770.9 56.4 788.56 Q50.65 780.81 45.2 772.56 Q47.73 769.22 46.27 767.45 Q52.97 757.6 61.17 749.01 Z" fill="url(#g0_24)" stroke="rgb(227,227,227)" stroke-width="0.89"/>
<path d="M61.17 749.01 Q64.35 755.23 63.63 761.04" stroke="rgb(217,217,217)" stroke-width="0.6" fill="none" opacity="0.8"/>
<path d="M46.44 771.88 L47.43 767.18 L54.14 766.71 Z" fill="rgb(187,187,187)" opacity="0.75"/>
<path d="M111.46 763.1 Q106.21 754.35 97.54 746.01 Q91.78 745.1 85.84 745.07 Q81.62 748.68 76.43 751.35 Q78.95 753.86 79 755.79 Q83.94 764.54 86.66 776.6 Q97.86 768.15 111.46 763.1 Z" fill="url(#g0_25)" stroke="rgb(229,229,229)" stroke-width="1.29"/>
<path d="M111.46 763.1 Q106.22 754.63 97.54 746.01 Q107.53 740.81 117.07 735.05 Q127.81 744.09 136.74 755.47 Q134.43 759.93 133.67 764.88 Q126.3 765.56 119.13 766.51 Q114.9 765.75 111.46 763.1 Z" fill="url(#g0_26)" stroke="rgb(204,204,204)" stroke-width="0.96"/>
<path d="M97.54 746.01 Q100.27 746.52 106.07 750.4" stroke="rgb(219,219,219)" stroke-width="0.6" fill="none" opacity="0.8"/>
<path d="M132.51 764.1 L119.14 765.61 L122.4 759.8 Z" fill="rgb(148,148,148)" opacity="0.75"/>
<path d="M23.68 777.79 Q16.42 765.86 9.49 753.49 Q4.94 762.2 -0.38 768.84 Q0.42 775.64 1.42 782.43 Q1.65 784.45 2.93 785.25 Q12.2 784.7 21.06 782.52 Q22.89 780.36 23.68 777.79 Z" fill="url(#g0_29)" stroke="rgb(201,201,201)" stroke-width="1.14"/>
<path d="M23.68 777.79 Q34.4 775.05 45.2 772.56 Q49.7 781.01 56.4 788.56 Q58.13 791.21 56.32 792.94 Q40.19 797.52 23.87 801.12 Q23.77 791.32 21.06 782.52 Q23.14 780.45 23.68 777.79 Z" fill="url(#g0_30)" stroke="rgb(214,214,214)" stroke-width="1.55"/>
<path d="M45.2 772.56 Q43.7 778.69 41.51 782.76" stroke="rgb(220,220,220)" stroke-width="0.6" fill="none" opacity="0.8"/>
<path d="M86.54 780.9 Q81.79 786.99 75.58 792.52 Q65.76 793.63 57.05 792.47 Q58.64 791.36 56.32 792.94 Q57.76 790 56.4 788.56 Q68.06 773.3 79 755.79 Q83.23 765.63 86.66 776.6 Q86.52 778.77 86.54 780.9 Z" fill="url(#g0_31)" stroke="rgb(201,201,201)" stroke-width="1.26"/>
<path d="M111.46 763.1 Q99.14 770.07 86.66 776.6 Q85.34 779.05 86.54 780.9 Q94.47 784.75 101.82 789.43 Q110.08 777.86 119.13 766.51 Q115.52 764.64 111.46 763.1 Z" fill="url(#g0_32)" stroke="rgb(207,207,207)" stroke-width="1.36"/>
<path d="M119.13 766.51 Q126.41 765.57 133.67 764.88 Q132.87 768.98 134.92 768.93 Q134.65 778.73 137.84 787.56 Q137.33 791.32 135.47 794.07 Q120.99 797.63 106.75 800.03 Q106.06 793.57 101.82 789.43 Q110.09 777.87 119.13 766.51 Z" fill="url(#g0_33)" stroke="rgb(230,230,230)" stroke-width="1.02"/>
<path d="M21.06 782.52 Q11.62 782.4 2.93 785.25 Q8.68 804.19 14.22 823.33 Q18.79 811.24 23.87 801.12 Q22.73 791.58 21.06 782.52 Z" fill="url(#g0_36)" stroke="rgb(226,226,226)" stroke-width="0.92"/>
<path d="M20.62 783.77 L3.94 786.27 L13.97 791.82 Z" fill="rgb(151,151,151)" opacity="0.75"/>
<path d="M101.82 789.43 Q102.77 795.2 106.75 800.03 Q100.39 813.26 94.86 828.19 Q85.71 809.61 75.58 792.52 Q81.02 786.67 86.54 780.9 Q94.05 786.76 101.82 789.43 Z" fill="url(#g0_39)" stroke="rgb(213,213,213)" stroke-width="1.4"/>
</g>
<clipPath id="sem1"><rect x="142.3" y="704" width="130" height="88"/></clipPath>
<g clip-path="url(#sem1)">
<rect x="142.3" y="704" width="130" height="88" fill="#6c6c6c"/>
<defs><linearGradient id="g1_4" x1="0.46" y1="1.00" x2="0.54" y2="0.00"><stop offset="0.2" stop-color="rgb(42,42,42)"/><stop offset="1" stop-color="rgb(73,73,73)"/></linearGradient><linearGradient id="g1_5" x1="0.35" y1="0.98" x2="0.65" y2="0.02"><stop offset="0.2" stop-color="rgb(80,80,80)"/><stop offset="1" stop-color="rgb(149,149,149)"/></linearGradient><linearGradient id="g1_9" x1="0.01" y1="0.38" x2="0.99" y2="0.62"><stop offset="0.2" stop-color="rgb(74,74,74)"/><stop offset="1" stop-color="rgb(141,141,141)"/></linearGradient><linearGradient id="g1_10" x1="0.00" y1="0.54" x2="1.00" y2="0.46"><stop offset="0.2" stop-color="rgb(42,42,42)"/><stop offset="1" stop-color="rgb(77,77,77)"/></linearGradient><linearGradient id="g1_11" x1="0.56" y1="0.00" x2="0.44" y2="1.00"><stop offset="0.2" stop-color="rgb(89,89,89)"/><stop offset="1" stop-color="rgb(130,130,130)"/></linearGradient><linearGradient id="g1_12" x1="0.27" y1="0.94" x2="0.73" y2="0.06"><stop offset="0.2" stop-color="rgb(91,91,91)"/><stop offset="1" stop-color="rgb(122,122,122)"/></linearGradient><linearGradient id="g1_13" x1="0.99" y1="0.38" x2="0.01" y2="0.62"><stop offset="0.2" stop-color="rgb(84,84,84)"/><stop offset="1" stop-color="rgb(124,124,124)"/></linearGradient><linearGradient id="g1_14" x1="0.77" y1="0.92" x2="0.23" y2="0.08"><stop offset="0.2" stop-color="rgb(84,84,84)"/><stop offset="1" stop-color="rgb(120,120,120)"/></linearGradient><linearGradient id="g1_15" x1="0.99" y1="0.57" x2="0.01" y2="0.43"><stop offset="0.2" stop-color="rgb(79,79,79)"/><stop offset="1" stop-color="rgb(124,124,124)"/></linearGradient><linearGradient id="g1_16" x1="0.17" y1="0.88" x2="0.83" y2="0.12"><stop offset="0.2" stop-color="rgb(96,96,96)"/><stop offset="1" stop-color="rgb(127,127,127)"/></linearGradient><linearGradient id="g1_17" x1="0.31" y1="0.96" x2="0.69" y2="0.04"><stop offset="0.2" stop-color="rgb(97,97,97)"/><stop offset="1" stop-color="rgb(128,128,128)"/></linearGradient><linearGradient id="g1_19" x1="0.61" y1="0.99" x2="0.39" y2="0.01"><stop offset="0.2" stop-color="rgb(93,93,93)"/><stop offset="1" stop-color="rgb(121,121,121)"/></linearGradient><linearGradient id="g1_20" x1="0.08" y1="0.23" x2="0.92" y2="0.77"><stop offset="0.2" stop-color="rgb(90,90,90)"/><stop offset="1" stop-color="rgb(145,145,145)"/></linearGradient><linearGradient id="g1_21" x1="0.59" y1="0.99" x2="0.41" y2="0.01"><stop offset="0.2" stop-color="rgb(96,96,96)"/><stop offset="1" stop-color="rgb(120,120,120)"/></linearGradient><linearGradient id="g1_22" x1="0.07" y1="0.75" x2="0.93" y2="0.25"><stop offset="0.2" stop-color="rgb(71,71,71)"/><stop offset="1" stop-color="rgb(131,131,131)"/></linearGradient><linearGradient id="g1_23" x1="0.20" y1="0.10" x2="0.80" y2="0.90"><stop offset="0.2" stop-color="rgb(89,89,89)"/><stop offset="1" stop-color="rgb(120,120,120)"/></linearGradient><linearGradient id="g1_24" x1="0.35" y1="0.98" x2="0.65" y2="0.02"><stop offset="0.2" stop-color="rgb(76,76,76)"/><stop offset="1" stop-color="rgb(151,151,151)"/></linearGradient><linearGradient id="g1_25" x1="0.79" y1="0.91" x2="0.21" y2="0.09"><stop offset="0.2" stop-color="rgb(82,82,82)"/><stop offset="1" stop-color="rgb(123,123,123)"/></linearGradient><linearGradient id="g1_26" x1="0.53" y1="1.00" x2="0.47" y2="0.00"><stop offset="0.2" stop-color="rgb(93,93,93)"/><stop offset="1" stop-color="rgb(135,135,135)"/></linearGradient><linearGradient id="g1_27" x1="0.13" y1="0.83" x2="0.87" y2="0.17"><stop offset="0.2" stop-color="rgb(86,86,86)"/><stop offset="1" stop-color="rgb(144,144,144)"/></linearGradient><linearGradient id="g1_28" x1="0.07" y1="0.76" x2="0.93" y2="0.24"><stop offset="0.2" stop-color="rgb(95,95,95)"/><stop offset="1" stop-color="rgb(136,136,136)"/></linearGradient><linearGradient id="g1_29" x1="0.90" y1="0.80" x2="0.10" y2="0.20"><stop offset="0.2" stop-color="rgb(70,70,70)"/><stop offset="1" stop-color="rgb(139,139,139)"/></linearGradient><linearGradient id="g1_30" x1="0.46" y1="1.00" x2="0.54" y2="0.00"><stop offset="0.2" stop-color="rgb(77,77,77)"/><stop offset="1" stop-color="rgb(143,143,143)"/></linearGradient><linearGradient id="g1_31" x1="0.04" y1="0.31" x2="0.96" y2="0.69"><stop offset="0.2" stop-color="rgb(84,84,84)"/><stop offset="1" stop-color="rgb(142,142,142)"/></linearGradient><linearGradient id="g1_32" x1="0.32" y1="0.04" x2="0.68" y2="0.96"><stop offset="0.2" stop-color="rgb(90,90,90)"/><stop offset="1" stop-color="rgb(127,127,127)"/></linearGradient><linearGradient id="g1_33" x1="0.58" y1="0.01" x2="0.42" y2="0.99"><stop offset="0.2" stop-color="rgb(77,77,77)"/><stop offset="1" stop-color="rgb(121,121,121)"/></linearGradient><linearGradient id="g1_34" x1="0.87" y1="0.84" x2="0.13" y2="0.16"><stop offset="0.2" stop-color="rgb(85,85,85)"/><stop offset="1" stop-color="rgb(152,152,152)"/></linearGradient><linearGradient id="g1_36" x1="0.74" y1="0.94" x2="0.26" y2="0.06"><stop offset="0.2" stop-color="rgb(89,89,89)"/><stop offset="1" stop-color="rgb(120,120,120)"/></linearGradient><linearGradient id="g1_37" x1="0.92" y1="0.24" x2="0.08" y2="0.76"><stop offset="0.2" stop-color="rgb(82,82,82)"/><stop offset="1" stop-color="rgb(125,125,125)"/></linearGradient><linearGradient id="g1_38" x1="0.00" y1="0.43" x2="1.00" y2="0.57"><stop offset="0.2" stop-color="rgb(40,40,40)"/><stop offset="1" stop-color="rgb(78,78,78)"/></linearGradient><linearGradient id="g1_39" x1="0.32" y1="0.03" x2="0.68" y2="0.97"><stop offset="0.2" stop-color="rgb(84,84,84)"/><stop offset="1" stop-color="rgb(121,121,121)"/></linearGradient><linearGradient id="g1_40" x1="0.71" y1="0.05" x2="0.29" y2="0.95"><stop offset="0.2" stop-color="rgb(75,75,75)"/><stop offset="1" stop-color="rgb(146,146,146)"/></linearGradient><linearGradient id="g1_41" x1="0.95" y1="0.72" x2="0.05" y2="0.28"><stop offset="0.2" stop-color="rgb(77,77,77)"/><stop offset="1" stop-color="rgb(131,131,131)"/></linearGradient><linearGradient id="g1_42" x1="0.33" y1="0.97" x2="0.67" y2="0.03"><stop offset="0.2" stop-color="rgb(72,72,72)"/><stop offset="1" stop-color="rgb(136,136,136)"/></linearGradient><linearGradient id="g1_43" x1="0.00" y1="0.53" x2="1.00" y2="0.47"><stop offset="0.2" stop-color="rgb(96,96,96)"/><stop offset="1" stop-color="rgb(126,126,126)"/></linearGradient><linearGradient id="g1_46" x1="0.19" y1="0.89" x2="0.81" y2="0.11"><stop offset="0.2" stop-color="rgb(97,97,97)"/><stop offset="1" stop-color="rgb(130,130,130)"/></linearGradient><linearGradient id="g1_47" x1="0.32" y1="0.97" x2="0.68" y2="0.03"><stop offset="0.2" stop-color="rgb(89,89,89)"/><stop offset="1" stop-color="rgb(121,121,121)"/></linearGradient><linearGradient id="g1_48" x1="0.51" y1="0.00" x2="0.49" y2="1.00"><stop offset="0.2" stop-color="rgb(92,92,92)"/><stop offset="1" stop-color="rgb(127,127,127)"/></linearGradient><linearGradient id="g1_49" x1="0.00" y1="0.55" x2="1.00" y2="0.45"><stop offset="0.2" stop-color="rgb(71,71,71)"/><stop offset="1" stop-color="rgb(146,146,146)"/></linearGradient><linearGradient id="g1_50" x1="0.72" y1="0.05" x2="0.28" y2="0.95"><stop offset="0.2" stop-color="rgb(80,80,80)"/><stop offset="1" stop-color="rgb(132,132,132)"/></linearGradient><linearGradient id="g1_51" x1="0.06" y1="0.73" x2="0.94" y2="0.27"><stop offset="0.2" stop-color="rgb(72,72,72)"/><stop offset="1" stop-color="rgb(130,130,130)"/></linearGradient><linearGradient id="g1_52" x1="0.64" y1="0.02" x2="0.36" y2="0.98"><stop offset="0.2" stop-color="rgb(93,93,93)"/><stop offset="1" stop-color="rgb(123,123,123)"/></linearGradient><linearGradient id="g1_53" x1="0.05" y1="0.28" x2="0.95" y2="0.72"><stop offset="0.2" stop-color="rgb(87,87,87)"/><stop offset="1" stop-color="rgb(132,132,132)"/></linearGradient><linearGradient id="g1_55" x1="1.00" y1="0.55" x2="0.00" y2="0.45"><stop offset="0.2" stop-color="rgb(89,89,89)"/><stop offset="1" stop-color="rgb(130,130,130)"/></linearGradient><linearGradient id="g1_58" x1="0.39" y1="0.99" x2="0.61" y2="0.01"><stop offset="0.2" stop-color="rgb(89,89,89)"/><stop offset="1" stop-color="rgb(120,120,120)"/></linearGradient><linearGradient id="g1_59" x1="0.22" y1="0.92" x2="0.78" y2="0.08"><stop offset="0.2" stop-color="rgb(83,83,83)"/><stop offset="1" stop-color="rgb(152,152,152)"/></linearGradient><linearGradient id="g1_61" x1="0.47" y1="1.00" x2="0.53" y2="0.00"><stop offset="0.2" stop-color="rgb(97,97,97)"/><stop offset="1" stop-color="rgb(145,145,145)"/></linearGradient></defs>
<path d="M215.6 710.44 Q206.73 708.16 197.89 705.85 Q202.44 699.34 204.2 691.46 Q211.99 697.07 219.59 703.08 Q218.33 707.12 215.6 710.44 Z" fill="url(#g1_4)" stroke="rgb(229,229,229)" stroke-width="0.87"/>
<path d="M218.77 703.05 L215.1 709.82 L212.96 704.49 Z" fill="rgb(183,183,183)" opacity="0.75"/>
<path d="M219.59 703.08 Q224.69 701.08 229.32 698.05 Q222.9 670.57 215.56 645.34 Q210.87 670.6 204.2 691.46 Q211.69 697.77 219.59 703.08 Z" fill="url(#g1_5)" stroke="rgb(216,216,216)" stroke-width="0.85"/>
<path d="M204.2 691.46 Q208.08 691.2 211.81 689.43" stroke="rgb(218,218,218)" stroke-width="0.6" fill="none" opacity="0.8"/>
<path d="M219.4 701.59 L228.34 696.97 L220.37 691.56 Z" fill="rgb(157,157,157)" opacity="0.75"/>
<path d="M145.14 707.88 Q146.43 706.41 143.48 705.78 Q80.48 706.24 16.3 706.48 Q72.73 715.41 130.93 724.23 Q132.57 720.63 138.95 719.17 Q142.94 713.55 145.14 707.88 Z" fill="url(#g1_9)" stroke="rgb(203,203,203)" stroke-width="0.95"/>
<path d="M138.95 719.17 Q133.27 718.05 125.18 716.6" stroke="rgb(176,176,176)" stroke-width="0.6" fill="none" opacity="0.8"/>
<path d="M164.55 717.11 Q160.28 723.05 157.19 730.75 Q147.58 725.83 138.95 719.17 Q142.66 713.55 145.14 707.88 Q150.84 706.05 155.7 702.29 Q159.54 704.83 163.95 706.39 Q164.54 711.69 164.55 717.11 Z" fill="url(#g1_10)" stroke="rgb(222,222,222)" stroke-width="1.59"/>
<path d="M164.55 717.11 Q160.73 714.24 158.97 714.92" stroke="rgb(219,219,219)" stroke-width="0.6" fill="none" opacity="0.8"/>
<path d="M163.73 716.86 L156.95 729.41 L157.16 718.33 Z" fill="rgb(165,165,165)" opacity="0.75"/>
<path d="M164.55 717.11 Q163.47 711.79 163.95 706.39 Q171.86 704.94 179.06 701.2 Q181.52 701.21 183.05 702.44 Q181.01 715.81 178.58 728.94 Q171.31 724.37 164.55 717.11 Z" fill="url(#g1_11)" stroke="rgb(217,217,217)" stroke-width="0.9"/>
<path d="M196.6 726.24 Q187.39 726.58 178.16 726.7 Q178.19 728.04 178.58 728.94 Q180.83 715.7 183.05 702.44 Q189.36 704.4 195.36 707.82 Q196.29 716.99 196.6 726.24 Z" fill="url(#g1_12)" stroke="rgb(230,230,230)" stroke-width="0.74"/>
<path d="M215.6 710.44 Q220.55 715.96 223.94 721.74 Q220.32 722.91 219.39 724.99 Q208.84 727.47 198.55 731.1 Q197.11 729.2 196.6 726.24 Q196.24 717.06 195.36 707.82 Q198.41 708.86 197.89 705.85 Q206.74 707.55 215.6 710.44 Z" fill="url(#g1_13)" stroke="rgb(224,224,224)" stroke-width="1.59"/>
<path d="M198.6 706.85 L214.89 711.07 L206.75 713.84 Z" fill="rgb(185,185,185)" opacity="0.75"/>
<path d="M215.6 710.44 Q218.85 716.62 223.94 721.74 Q228.78 719.11 233.8 718.6 Q234.05 718.97 234.81 720 Q235.86 713.14 239.71 706.96 Q233.65 703.68 229.32 698.05 Q224.72 701.34 219.59 703.08 Q218.21 707.02 215.6 710.44 Z" fill="url(#g1_14)" stroke="rgb(223,223,223)" stroke-width="0.83"/>
<path d="M234.81 720 Q246.56 721.28 257.43 725.1 Q259.35 721.98 260.04 717.73 Q257.49 711.52 256.23 705.09 Q252.52 702.88 248.41 701.95 Q243.62 703.77 239.71 706.96 Q235.95 713.55 234.81 720 Z" fill="url(#g1_15)" stroke="rgb(208,208,208)" stroke-width="1.49"/>
<path d="M277.46 708.29 Q271.29 713.99 264.69 719.34 Q262.22 718.88 260.04 717.73 Q259.12 711.21 256.23 705.09 Q264.1 703.1 271.27 698.54 Q273.42 704.13 277.46 708.29 Z" fill="url(#g1_16)" stroke="rgb(230,230,230)" stroke-width="0.67"/>
<path d="M260.04 717.73 Q259.35 715.84 261.4 713.74" stroke="rgb(190,190,190)" stroke-width="0.6" fill="none" opacity="0.8"/>
<path d="M277.46 708.29 Q297.37 716.35 317.41 724.38 Q297.58 724.64 282.07 726.67 Q272.47 723.25 264.69 719.34 Q271.17 713.86 277.46 708.29 Z" fill="url(#g1_17)" stroke="rgb(208,208,208)" stroke-width="0.75"/>
<path d="M264.69 719.34 Q268.75 717.63 272.94 717.71" stroke="rgb(219,219,219)" stroke-width="0.6" fill="none" opacity="0.8"/>
<path d="M159.77 738.88 Q158.81 734.88 157.19 730.75 Q147.6 726.16 138.95 719.17 Q135.33 722.1 130.93 724.23 Q131.73 730.43 134.79 736.93 Q142.05 740.78 149.86 743.16 Q153.26 739.59 159.77 738.88 Z" fill="url(#g1_19)" stroke="rgb(209,209,209)" stroke-width="1.54"/>
<path d="M157.19 730.75 Q154.98 732.16 148.98 733.64" stroke="rgb(211,211,211)" stroke-width="0.6" fill="none" opacity="0.8"/>
<path d="M164.41 741.22 Q169.99 736.83 175.45 732.02 Q177.78 729.19 178.16 726.7 Q177.72 728.02 178.58 728.94 Q171.22 723.86 164.55 717.11 Q161.17 724.22 157.19 730.75 Q157.83 735.08 159.77 738.88 Q162.1 740.04 164.41 741.22 Z" fill="url(#g1_20)" stroke="rgb(203,203,203)" stroke-width="1.53"/>
<path d="M198.55 731.1 Q200.25 732.51 199.87 733.91 Q193.19 738 188.13 744.53 Q181.73 738.32 175.45 732.02 Q178.08 729.67 178.16 726.7 Q187.37 726.43 196.6 726.24 Q196.61 729.11 198.55 731.1 Z" fill="url(#g1_21)" stroke="rgb(222,222,222)" stroke-width="0.95"/>
<path d="M196.03 726.73 L197.83 731.2 L193.03 730.77 Z" fill="rgb(167,167,167)" opacity="0.75"/>
<path d="M198.55 731.1 Q198.36 732.24 199.87 733.91 Q203.4 736.45 204.75 739.21 Q210.72 742.02 216.69 744.83 Q218.32 743.12 219.53 741.06 Q219.36 733.05 219.39 724.99 Q208.97 728.01 198.55 731.1 Z" fill="url(#g1_22)" stroke="rgb(214,214,214)" stroke-width="0.74"/>
<path d="M198.55 731.1 Q201.48 732.76 201.27 736.01" stroke="rgb(178,178,178)" stroke-width="0.6" fill="none" opacity="0.8"/>
<path d="M233.8 718.6 Q234.89 728.92 236.74 739.21 Q228.1 739.81 219.53 741.06 Q220.34 732.55 219.39 724.99 Q221.62 723.31 223.94 721.74 Q228.81 720.42 233.8 718.6 Z" fill="url(#g1_23)" stroke="rgb(195,195,195)" stroke-width="1.35"/>
<path d="M254.24 744.21 Q247.04 744.14 239.52 741.94 Q238.29 740.38 236.74 739.21 Q236.52 729.28 233.8 718.6 Q235.38 720.55 234.81 720 Q246.17 722.11 257.43 725.1 Q258.92 729.48 259.55 734 Q256.4 738.8 254.24 744.21 Z" fill="url(#g1_24)" stroke="rgb(209,209,209)" stroke-width="0.8"/>
<path d="M233.8 718.6 Q238.36 722.22 239.65 723.08" stroke="rgb(171,171,171)" stroke-width="0.6" fill="none" opacity="0.8"/>
<path d="M259.55 734 Q257.71 729.95 257.43 725.1 Q259.43 721.9 260.04 717.73 Q262.75 719.48 264.69 719.34 Q274.18 722.7 282.07 726.67 Q274.11 729.52 268.61 733.36 Q263.93 734.56 259.55 734 Z" fill="url(#g1_25)" stroke="rgb(227,227,227)" stroke-width="1.16"/>
<path d="M275.31 745.69 Q316.23 737.97 356.06 729.84 Q332.27 727.7 317.41 724.38 Q299.76 726.34 282.07 726.67 Q276.92 730.14 268.61 733.36 Q270.91 739.81 275.31 745.69 Z" fill="url(#g1_26)" stroke="rgb(231,231,231)" stroke-width="1.46"/>
<path d="M282.07 726.67 Q285.8 727.54 292.86 727.01" stroke="rgb(205,205,205)" stroke-width="0.6" fill="none" opacity="0.8"/>
<path d="M146.93 758.94 Q145.09 761.27 142.09 761.82 Q131.34 761.08 121.48 759.3 Q128.79 748.35 134.79 736.93 Q141.87 741.7 149.86 743.16 Q148.33 751.06 146.93 758.94 Z" fill="url(#g1_27)" stroke="rgb(230,230,230)" stroke-width="1.65"/>
<path d="M146.3 758.39 L141.84 761.04 L141.44 755.71 Z" fill="rgb(176,176,176)" opacity="0.75"/>
<path d="M161.15 764.4 Q164.15 756.22 166.81 747.75 Q165.64 744.46 164.41 741.22 Q162.3 739.44 159.77 738.88 Q154.7 740.7 149.86 743.16 Q149.5 751.06 146.93 758.94 Q153.31 761.35 159.81 763.5 Q160.17 762.07 161.15 764.4 Z" fill="url(#g1_28)" stroke="rgb(219,219,219)" stroke-width="1.06"/>
<path d="M166.81 747.75 Q173.2 749.26 179.75 750.56 Q182.24 749.77 186.11 750.34 Q185.61 746.99 188.13 744.53 Q181.88 738.17 175.45 732.02 Q169.85 736.52 164.41 741.22 Q167.57 744.47 166.81 747.75 Z" fill="url(#g1_29)" stroke="rgb(224,224,224)" stroke-width="1.44"/>
<path d="M188.13 744.53 Q185.38 745.56 181.03 744.26" stroke="rgb(182,182,182)" stroke-width="0.6" fill="none" opacity="0.8"/>
<path d="M199.87 733.91 Q202.91 735.62 204.75 739.21 Q200.77 749.09 197.13 759.08 Q196.51 757.96 195.97 757.57 Q191.48 753.28 186.11 750.34 Q188 747.43 188.13 744.53 Q194.07 739.65 199.87 733.91 Z" fill="url(#g1_30)" stroke="rgb(195,195,195)" stroke-width="0.79"/>
<path d="M218.47 755.62 Q218.45 749.98 216.69 744.83 Q210.72 742.03 204.75 739.21 Q202.36 749.66 197.13 759.08 Q204.24 761.85 212.15 763.26 Q215.62 759.85 218.47 755.62 Z" fill="url(#g1_31)" stroke="rgb(209,209,209)" stroke-width="1.14"/>
<path d="M216.69 744.83 Q212.27 747.86 209.88 747.5" stroke="rgb(183,183,183)" stroke-width="0.6" fill="none" opacity="0.8"/>
<path d="M217.78 755.36 L216.14 745.43 L213.24 751.44 Z" fill="rgb(176,176,176)" opacity="0.75"/>
<path d="M229.82 757.86 Q234.26 749.73 239.52 741.94 Q237.6 740.86 236.74 739.21 Q228.3 739.35 219.53 741.06 Q219.33 743.48 216.69 744.83 Q217.18 750.38 218.47 755.62 Q224.38 755.84 229.82 757.86 Z" fill="url(#g1_32)" stroke="rgb(198,198,198)" stroke-width="1.12"/>
<path d="M257.88 755.71 Q253.45 759.07 252.55 763.77 Q252.04 765.2 251.31 766.33 Q241.93 762.9 231.4 761.87 Q231.07 759.74 229.82 757.86 Q236.36 750.87 239.52 741.94 Q246.84 743.41 254.24 744.21 Q256.78 749.56 257.88 755.71 Z" fill="url(#g1_33)" stroke="rgb(203,203,203)" stroke-width="1.07"/>
<path d="M252.55 763.77 Q250.8 763.98 249.67 761.12" stroke="rgb(219,219,219)" stroke-width="0.6" fill="none" opacity="0.8"/>
<path d="M257.88 755.71 Q257.16 749.17 254.24 744.21 Q256.88 739.09 259.55 734 Q264.03 734.78 268.61 733.36 Q272.56 739.16 275.31 745.69 Q270.95 750.31 265.9 754.4 Q262.13 753.55 257.88 755.71 Z" fill="url(#g1_34)" stroke="rgb(205,205,205)" stroke-width="1.58"/>
<path d="M268.61 733.36 Q265.6 735.61 264.12 740.53" stroke="rgb(204,204,204)" stroke-width="0.6" fill="none" opacity="0.8"/>
<path d="M121.48 759.3 Q131.96 759.77 142.09 761.82 Q141.03 769.17 143.5 776.44 Q139.01 780.08 134.23 783.39 Q121.87 774.2 107.66 766.14 Q116.82 763.71 121.48 759.3 Z" fill="url(#g1_36)" stroke="rgb(229,229,229)" stroke-width="1.64"/>
<path d="M122.14 760.11 L141.1 762.43 L130.67 765.52 Z" fill="rgb(181,181,181)" opacity="0.75"/>
<path d="M159.81 763.5 Q153.14 761.61 146.93 758.94 Q144.13 759.75 142.09 761.82 Q143.84 768.97 143.5 776.44 Q148.58 779.13 153.76 779.99 Q157.01 771.86 159.81 763.5 Z" fill="url(#g1_37)" stroke="rgb(209,209,209)" stroke-width="0.77"/>
<path d="M175.22 773.03 Q176.59 761.41 179.75 750.56 Q173.56 748.09 166.81 747.75 Q165.05 756.52 161.15 764.4 Q167.97 769.54 175.22 773.03 Z" fill="url(#g1_38)" stroke="rgb(196,196,196)" stroke-width="1.17"/>
<path d="M175.22 773.03 Q177.79 761.91 179.75 750.56 Q183.08 752.13 186.11 750.34 Q190.26 755.13 195.97 757.57 Q192.16 767.03 188.01 776.39 Q184.06 777.74 180.12 778.26 Q177.7 775.6 175.22 773.03 Z" fill="url(#g1_39)" stroke="rgb(215,215,215)" stroke-width="0.74"/>
<path d="M188.01 776.39 Q186.74 773.78 187.36 772.28" stroke="rgb(216,216,216)" stroke-width="0.6" fill="none" opacity="0.8"/>
<path d="M197.26 779.3 Q192 778.61 188.01 776.39 Q193.04 767.19 195.97 757.57 Q196.48 758.13 197.13 759.08 Q204.28 761.79 212.15 763.26 Q210.5 769.71 211.11 776.39 Q204.39 778.32 197.26 779.3 Z" fill="url(#g1_40)" stroke="rgb(205,205,205)" stroke-width="0.69"/>
<path d="M211.11 776.39 Q212.39 769.63 212.15 763.26 Q215.11 759.2 218.47 755.62 Q223.9 757.8 229.82 757.86 Q230.29 760.13 231.4 761.87 Q229.72 767.8 229.9 773.85 Q224.27 776.77 219.24 781.94 Q214.87 779.72 211.11 776.39 Z" fill="url(#g1_41)" stroke="rgb(224,224,224)" stroke-width="1.06"/>
<path d="M231.4 761.87 Q241.41 763.56 251.31 766.33 Q250.3 766.77 251.73 766.51 Q245.12 772.19 239.83 778.69 Q234.29 776.92 229.9 773.85 Q231.76 768.04 231.4 761.87 Z" fill="url(#g1_42)" stroke="rgb(211,211,211)" stroke-width="1.31"/>
<path d="M230.77 773.5 L232.16 762.48 L236.35 768.75 Z" fill="rgb(135,135,135)" opacity="0.75"/>
<path d="M257.88 755.71 Q256.57 760.22 252.55 763.77 Q259.22 771.62 266.36 778.76 Q269.3 771.45 273.66 766.83 Q272.47 763.17 273.03 759.52 Q268.78 757.89 265.9 754.4 Q262.14 755.73 257.88 755.71 Z" fill="url(#g1_43)" stroke="rgb(199,199,199)" stroke-width="0.74"/>
<path d="M159.5 795.69 Q159.49 796.08 159.08 796.19 Q148.83 796.19 138.43 794.62 Q137.92 788.83 134.23 783.39 Q138.42 779.54 143.5 776.44 Q148.58 779.12 153.76 779.99 Q155.98 787.83 159.5 795.69 Z" fill="url(#g1_46)" stroke="rgb(222,222,222)" stroke-width="1.17"/>
<path d="M143.5 776.44 Q146.89 780.21 149.26 781.43" stroke="rgb(221,221,221)" stroke-width="0.6" fill="none" opacity="0.8"/>
<path d="M175.22 773.03 Q168.2 768.67 161.15 764.4 Q160.56 764.12 159.81 763.5 Q155.65 771.05 153.76 779.99 Q157.84 786.59 159.5 795.69 Q167.33 790.54 175.39 788.78 Q177.59 783.43 180.12 778.26 Q178.08 775.57 175.22 773.03 Z" fill="url(#g1_47)" stroke="rgb(198,198,198)" stroke-width="1.62"/>
<path d="M161.15 764.4 Q162.92 765.9 166.36 767.91" stroke="rgb(173,173,173)" stroke-width="0.6" fill="none" opacity="0.8"/>
<path d="M200.07 797.44 Q201.05 797.51 200.86 796.55 Q190.29 792.63 180.16 790.48 Q178.87 789.34 175.39 788.78 Q179.62 784.06 180.12 778.26 Q184.68 778.53 188.01 776.39 Q192.32 778.59 197.26 779.3 Q199.64 788.53 200.07 797.44 Z" fill="url(#g1_48)" stroke="rgb(198,198,198)" stroke-width="0.9"/>
<path d="M199.18 796.59 L199.9 795.77 L193.96 791.25 Z" fill="rgb(138,138,138)" opacity="0.75"/>
<path d="M200.07 797.44 Q210.38 791.37 220.82 786.79 Q220.32 784.37 219.24 781.94 Q215.64 778.72 211.11 776.39 Q204.76 778.53 197.26 779.3 Q197.55 788.78 200.07 797.44 Z" fill="url(#g1_49)" stroke="rgb(222,222,222)" stroke-width="1.17"/>
<path d="M218.48 782.14 L211 777.03 L212.11 782.08 Z" fill="rgb(173,173,173)" opacity="0.75"/>
<path d="M219.24 781.94 Q224.35 777.6 229.9 773.85 Q234.55 776.63 239.83 778.69 Q241.16 785.14 242.69 791.62 Q231.06 789.81 219.39 787.9 Q219.17 787.77 220.82 786.79 Q221.35 784.23 219.24 781.94 Z" fill="url(#g1_50)" stroke="rgb(204,204,204)" stroke-width="1.63"/>
<path d="M220.82 786.79 Q223.26 784.71 226.44 786.63" stroke="rgb(210,210,210)" stroke-width="0.6" fill="none" opacity="0.8"/>
<path d="M243.05 793.27 Q249.15 789.44 256.2 787.9 Q254.81 776.46 251.73 766.51 Q245.77 772.53 239.83 778.69 Q240.87 785.27 242.69 791.62 Q243.28 791.5 243.05 793.27 Z" fill="url(#g1_51)" stroke="rgb(224,224,224)" stroke-width="1.16"/>
<path d="M262.66 789.02 Q259.3 787.15 256.2 787.9 Q253.82 777.21 251.73 766.51 Q251.19 765.91 251.31 766.33 Q251.45 764.15 252.55 763.77 Q259.43 771.38 266.36 778.76 Q266.2 782.07 267.13 786.09 Q265.11 787.89 262.66 789.02 Z" fill="url(#g1_52)" stroke="rgb(214,214,214)" stroke-width="0.79"/>
<path d="M267.13 786.09 Q280.55 784.4 294.33 783.12 Q283.6 775.14 273.66 766.83 Q270.12 772.92 266.36 778.76 Q265.97 782.76 267.13 786.09 Z" fill="url(#g1_53)" stroke="rgb(196,196,196)" stroke-width="1.02"/>
<path d="M159.82 852.1 Q148.34 822.35 136.79 797.21 Q137.9 796.28 138.43 794.62 Q148.76 795.1 159.08 796.19 Q157.76 821.96 159.82 852.1 Z" fill="url(#g1_55)" stroke="rgb(205,205,205)" stroke-width="1.26"/>
<path d="M159.82 852.1 Q155.41 841.18 150.53 828.98" stroke="rgb(180,180,180)" stroke-width="0.6" fill="none" opacity="0.8"/>
<path d="M200.07 797.44 Q201.05 797.33 200.86 796.55 Q204 818.49 206.04 842.65 Q213.59 822.42 221.88 809.01 Q220.62 798.46 219.39 787.9 Q220.91 785.83 220.82 786.79 Q210.5 792.68 200.07 797.44 Z" fill="url(#g1_58)" stroke="rgb(210,210,210)" stroke-width="1.22"/>
<path d="M220.82 786.79 Q218.54 791.17 217.74 794.52" stroke="rgb(202,202,202)" stroke-width="0.6" fill="none" opacity="0.8"/>
<path d="M243.05 793.27 Q242.65 794.46 242.01 795.67 Q232.28 801.13 221.88 809.01 Q219.58 798.69 219.39 787.9 Q230.75 789.17 242.69 791.62 Q243.48 792.24 243.05 793.27 Z" fill="url(#g1_59)" stroke="rgb(217,217,217)" stroke-width="1.53"/>
<path d="M242.69 791.62 Q241.87 793.3 238.87 794.59" stroke="rgb(210,210,210)" stroke-width="0.6" fill="none" opacity="0.8"/>
<path d="M222.84 807.93 L220.54 788.5 L228.01 796.8 Z" fill="rgb(178,178,178)" opacity="0.75"/>
<path d="M243.05 793.27 Q249.9 791.16 256.2 787.9 Q259.85 786.93 262.66 789.02 Q269.3 820.91 273.11 849.17 Q257.49 821.76 242.01 795.67 Q243.03 794.8 243.05 793.27 Z" fill="url(#g1_61)" stroke="rgb(217,217,217)" stroke-width="1.3"/>
</g>
<clipPath id="sem2"><rect x="277.6" y="704" width="130" height="88"/></clipPath>
<g clip-path="url(#sem2)">
<rect x="277.6" y="704" width="130" height="88" fill="#6c6c6c"/>
<defs><linearGradient id="g2_2" x1="0.07" y1="0.75" x2="0.93" y2="0.25"><stop offset="0.2" stop-color="rgb(72,72,72)"/><stop offset="1" stop-color="rgb(134,134,134)"/></linearGradient><linearGradient id="g2_4" x1="0.00" y1="0.51" x2="1.00" y2="0.49"><stop offset="0.2" stop-color="rgb(74,74,74)"/><stop offset="1" stop-color="rgb(125,125,125)"/></linearGradient><linearGradient id="g2_5" x1="0.40" y1="0.01" x2="0.60" y2="0.99"><stop offset="0.2" stop-color="rgb(77,77,77)"/><stop offset="1" stop-color="rgb(127,127,127)"/></linearGradient><linearGradient id="g2_7" x1="0.95" y1="0.28" x2="0.05" y2="0.72"><stop offset="0.2" stop-color="rgb(80,80,80)"/><stop offset="1" stop-color="rgb(150,150,150)"/></linearGradient><linearGradient id="g2_10" x1="0.09" y1="0.21" x2="0.91" y2="0.79"><stop offset="0.2" stop-color="rgb(85,85,85)"/><stop offset="1" stop-color="rgb(150,150,150)"/></linearGradient><linearGradient id="g2_11" x1="0.17" y1="0.87" x2="0.83" y2="0.13"><stop offset="0.2" stop-color="rgb(73,73,73)"/><stop offset="1" stop-color="rgb(145,145,145)"/></linearGradient><linearGradient id="g2_12" x1="0.88" y1="0.18" x2="0.12" y2="0.82"><stop offset="0.2" stop-color="rgb(72,72,72)"/><stop offset="1" stop-color="rgb(147,147,147)"/></linearGradient><linearGradient id="g2_13" x1="1.00" y1="0.57" x2="0.00" y2="0.43"><stop offset="0.2" stop-color="rgb(90,90,90)"/><stop offset="1" stop-color="rgb(144,144,144)"/></linearGradient><linearGradient id="g2_14" x1="0.94" y1="0.27" x2="0.06" y2="0.73"><stop offset="0.2" stop-color="rgb(86,86,86)"/><stop offset="1" stop-color="rgb(133,133,133)"/></linearGradient><linearGradient id="g2_15" x1="0.97" y1="0.68" x2="0.03" y2="0.32"><stop offset="0.2" stop-color="rgb(91,91,91)"/><stop offset="1" stop-color="rgb(129,129,129)"/></linearGradient><linearGradient id="g2_16" x1="0.00" y1="0.44" x2="1.00" y2="0.56"><stop offset="0.2" stop-color="rgb(75,75,75)"/><stop offset="1" stop-color="rgb(139,139,139)"/></linearGradient><linearGradient id="g2_19" x1="0.75" y1="0.07" x2="0.25" y2="0.93"><stop offset="0.2" stop-color="rgb(79,79,79)"/><stop offset="1" stop-color="rgb(128,128,128)"/></linearGradient><linearGradient id="g2_20" x1="0.23" y1="0.92" x2="0.77" y2="0.08"><stop offset="0.2" stop-color="rgb(77,77,77)"/><stop offset="1" stop-color="rgb(148,148,148)"/></linearGradient><linearGradient id="g2_21" x1="0.94" y1="0.73" x2="0.06" y2="0.27"><stop offset="0.2" stop-color="rgb(31,31,31)"/><stop offset="1" stop-color="rgb(96,96,96)"/></linearGradient><linearGradient id="g2_22" x1="0.36" y1="0.02" x2="0.64" y2="0.98"><stop offset="0.2" stop-color="rgb(78,78,78)"/><stop offset="1" stop-color="rgb(133,133,133)"/></linearGradient><linearGradient id="g2_23" x1="0.04" y1="0.31" x2="0.96" y2="0.69"><stop offset="0.2" stop-color="rgb(93,93,93)"/><stop offset="1" stop-color="rgb(141,141,141)"/></linearGradient><linearGradient id="g2_24" x1="0.99" y1="0.43" x2="0.01" y2="0.57"><stop offset="0.2" stop-color="rgb(91,91,91)"/><stop offset="1" stop-color="rgb(150,150,150)"/></linearGradient><linearGradient id="g2_25" x1="0.77" y1="0.08" x2="0.23" y2="0.92"><stop offset="0.2" stop-color="rgb(33,33,33)"/><stop offset="1" stop-color="rgb(79,79,79)"/></linearGradient><linearGradient id="g2_28" x1="0.98" y1="0.64" x2="0.02" y2="0.36"><stop offset="0.2" stop-color="rgb(72,72,72)"/><stop offset="1" stop-color="rgb(144,144,144)"/></linearGradient><linearGradient id="g2_29" x1="0.98" y1="0.63" x2="0.02" y2="0.37"><stop offset="0.2" stop-color="rgb(86,86,86)"/><stop offset="1" stop-color="rgb(128,128,128)"/></linearGradient><linearGradient id="g2_30" x1="0.75" y1="0.93" x2="0.25" y2="0.07"><stop offset="0.2" stop-color="rgb(80,80,80)"/><stop offset="1" stop-color="rgb(142,142,142)"/></linearGradient><linearGradient id="g2_31" x1="0.73" y1="0.95" x2="0.27" y2="0.05"><stop offset="0.2" stop-color="rgb(88,88,88)"/><stop offset="1" stop-color="rgb(153,153,153)"/></linearGradient><linearGradient id="g2_32" x1="0.52" y1="0.00" x2="0.48" y2="1.00"><stop offset="0.2" stop-color="rgb(76,76,76)"/><stop offset="1" stop-color="rgb(128,128,128)"/></linearGradient><linearGradient id="g2_33" x1="0.93" y1="0.25" x2="0.07" y2="0.75"><stop offset="0.2" stop-color="rgb(79,79,79)"/><stop offset="1" stop-color="rgb(144,144,144)"/></linearGradient><linearGradient id="g2_34" x1="1.00" y1="0.48" x2="0.00" y2="0.52"><stop offset="0.2" stop-color="rgb(72,72,72)"/><stop offset="1" stop-color="rgb(129,129,129)"/></linearGradient><linearGradient id="g2_37" x1="0.69" y1="0.96" x2="0.31" y2="0.04"><stop offset="0.2" stop-color="rgb(93,93,93)"/><stop offset="1" stop-color="rgb(131,131,131)"/></linearGradient><linearGradient id="g2_38" x1="0.12" y1="0.83" x2="0.88" y2="0.17"><stop offset="0.2" stop-color="rgb(91,91,91)"/><stop offset="1" stop-color="rgb(150,150,150)"/></linearGradient><linearGradient id="g2_39" x1="0.45" y1="0.00" x2="0.55" y2="1.00"><stop offset="0.2" stop-color="rgb(79,79,79)"/><stop offset="1" stop-color="rgb(153,153,153)"/></linearGradient><linearGradient id="g2_40" x1="0.95" y1="0.28" x2="0.05" y2="0.72"><stop offset="0.2" stop-color="rgb(85,85,85)"/><stop offset="1" stop-color="rgb(128,128,128)"/></linearGradient><linearGradient id="g2_41" x1="0.90" y1="0.79" x2="0.10" y2="0.21"><stop offset="0.2" stop-color="rgb(81,81,81)"/><stop offset="1" stop-color="rgb(148,148,148)"/></linearGradient><linearGradient id="g2_42" x1="0.12" y1="0.18" x2="0.88" y2="0.82"><stop offset="0.2" stop-color="rgb(82,82,82)"/><stop offset="1" stop-color="rgb(142,142,142)"/></linearGradient><linearGradient id="g2_43" x1="0.97" y1="0.68" x2="0.03" y2="0.32"><stop offset="0.2" stop-color="rgb(90,90,90)"/><stop offset="1" stop-color="rgb(148,148,148)"/></linearGradient><linearGradient id="g2_45" x1="0.03" y1="0.33" x2="0.97" y2="0.67"><stop offset="0.2" stop-color="rgb(36,36,36)"/><stop offset="1" stop-color="rgb(95,95,95)"/></linearGradient><linearGradient id="g2_46" x1="0.05" y1="0.28" x2="0.95" y2="0.72"><stop offset="0.2" stop-color="rgb(81,81,81)"/><stop offset="1" stop-color="rgb(120,120,120)"/></linearGradient><linearGradient id="g2_47" x1="0.58" y1="0.01" x2="0.42" y2="0.99"><stop offset="0.2" stop-color="rgb(40,40,40)"/><stop offset="1" stop-color="rgb(87,87,87)"/></linearGradient><linearGradient id="g2_48" x1="0.99" y1="0.43" x2="0.01" y2="0.57"><stop offset="0.2" stop-color="rgb(87,87,87)"/><stop offset="1" stop-color="rgb(137,137,137)"/></linearGradient><linearGradient id="g2_49" x1="0.73" y1="0.06" x2="0.27" y2="0.94"><stop offset="0.2" stop-color="rgb(95,95,95)"/><stop offset="1" stop-color="rgb(133,133,133)"/></linearGradient><linearGradient id="g2_50" x1="0.00" y1="0.47" x2="1.00" y2="0.53"><stop offset="0.2" stop-color="rgb(88,88,88)"/><stop offset="1" stop-color="rgb(138,138,138)"/></linearGradient><linearGradient id="g2_51" x1="0.40" y1="0.01" x2="0.60" y2="0.99"><stop offset="0.2" stop-color="rgb(98,98,98)"/><stop offset="1" stop-color="rgb(150,150,150)"/></linearGradient><linearGradient id="g2_52" x1="0.82" y1="0.12" x2="0.18" y2="0.88"><stop offset="0.2" stop-color="rgb(78,78,78)"/><stop offset="1" stop-color="rgb(131,131,131)"/></linearGradient><linearGradient id="g2_57" x1="0.30" y1="0.96" x2="0.70" y2="0.04"><stop offset="0.2" stop-color="rgb(92,92,92)"/><stop offset="1" stop-color="rgb(147,147,147)"/></linearGradient><linearGradient id="g2_58" x1="0.45" y1="0.00" x2="0.55" y2="1.00"><stop offset="0.2" stop-color="rgb(78,78,78)"/><stop offset="1" stop-color="rgb(144,144,144)"/></linearGradient><linearGradient id="g2_60" x1="1.00" y1="0.53" x2="0.00" y2="0.47"><stop offset="0.2" stop-color="rgb(94,94,94)"/><stop offset="1" stop-color="rgb(147,147,147)"/></linearGradient></defs>
<path d="M312.73 697.03 Q309.39 694.67 309.9 688.69 Q298.03 695.45 286.18 703.01 Q284.78 704.81 285.48 706.64 Q291.59 712.8 298.19 718.41 Q297.9 717.1 297.58 716.42 Q305.17 706.73 312.73 697.03 Z" fill="url(#g2_2)" stroke="rgb(204,204,204)" stroke-width="1.12"/>
<path d="M357.7 712.84 Q357.19 715.78 356.21 718.17 Q352.94 717.22 351.15 720.51 Q341.91 710.35 333.98 699.43 Q340.9 691.07 346.48 680.24 Q352.09 696.55 357.7 712.84 Z" fill="url(#g2_4)" stroke="rgb(204,204,204)" stroke-width="1.3"/>
<path d="M357.7 712.84 Q351.87 696.91 346.48 680.24 Q349.95 673.82 352.96 666.18 Q360 682.95 366.83 700.07 Q361.85 705.36 357.7 712.84 Z" fill="url(#g2_5)" stroke="rgb(230,230,230)" stroke-width="1.44"/>
<path d="M357.7 712.84 Q355.45 706.36 354.94 700.13" stroke="rgb(172,172,172)" stroke-width="0.6" fill="none" opacity="0.8"/>
<path d="M365.96 699.25 L357.57 711 L358.75 697.14 Z" fill="rgb(196,196,196)" opacity="0.75"/>
<path d="M387.9 701.41 Q396.8 699.8 405.77 702.64 Q408.86 699.42 412.58 696.89 Q400.1 657.72 386.86 624.55 Q388.9 665.65 389.65 703.36 Q388.63 702.71 387.9 701.41 Z" fill="url(#g2_7)" stroke="rgb(200,200,200)" stroke-width="1.12"/>
<path d="M298.19 718.41 Q294.86 723.45 291.63 728.56 Q286.71 726.5 282.05 727.41 Q279.7 722.96 275.43 719.96 Q278.56 713.69 283.16 708.3 Q284.56 709.04 285.48 706.64 Q291.34 713 298.19 718.41 Z" fill="url(#g2_10)" stroke="rgb(216,216,216)" stroke-width="0.66"/>
<path d="M323.1 710.96 Q323.33 706.82 323.39 702.74 Q318.13 699.66 312.73 697.03 Q305.94 707.02 297.58 716.42 Q306.57 721.4 317.17 724.21 Q320.73 718.39 323.1 710.96 Z" fill="url(#g2_11)" stroke="rgb(231,231,231)" stroke-width="1.52"/>
<path d="M334.69 726.51 Q325.79 726.71 316.9 726.53 Q317.95 725.03 317.17 724.21 Q319.55 717.12 323.1 710.96 Q330.33 716.42 337.16 722.38 Q335.84 724.42 334.69 726.51 Z" fill="url(#g2_12)" stroke="rgb(208,208,208)" stroke-width="0.86"/>
<path d="M333.98 726.15 L317.61 726.18 L325.8 724.05 Z" fill="rgb(171,171,171)" opacity="0.75"/>
<path d="M351.57 721.1 Q350.63 720.41 351.15 720.51 Q342.25 710.13 333.98 699.43 Q329.03 701.6 323.39 702.74 Q323.38 706.91 323.1 710.96 Q330.48 716.47 337.16 722.38 Q344.1 721.43 351.57 721.1 Z" fill="url(#g2_13)" stroke="rgb(205,205,205)" stroke-width="1.5"/>
<path d="M323.39 702.74 Q324.45 705.04 329.28 708.78" stroke="rgb(175,175,175)" stroke-width="0.6" fill="none" opacity="0.8"/>
<path d="M350 719.9 L334.2 700.5 L339.3 711.59 Z" fill="rgb(152,152,152)" opacity="0.75"/>
<path d="M357.7 712.84 Q356.95 715.51 356.21 718.17 Q358.67 719.82 362.07 720.07 Q370.39 711.99 380.09 704.13 Q372.87 702.69 366.83 700.07 Q362.38 706.67 357.7 712.84 Z" fill="url(#g2_14)" stroke="rgb(206,206,206)" stroke-width="1.65"/>
<path d="M387.12 723.49 Q387.82 712.43 387.9 701.41 Q387.86 703.56 389.65 703.36 Q384.98 703.51 380.09 704.13 Q370.03 712 362.07 720.07 Q369.19 722.66 375.89 725.62 Q381.36 722.96 387.12 723.49 Z" fill="url(#g2_15)" stroke="rgb(210,210,210)" stroke-width="1.22"/>
<path d="M386.59 722.65 L387.3 702.34 L383.56 712.77 Z" fill="rgb(146,146,146)" opacity="0.75"/>
<path d="M387.12 723.49 Q387.3 712.37 387.9 701.41 Q396.7 700.7 405.77 702.64 Q407.74 710.24 411.78 716.51 Q406.81 720.63 403.88 725.8 Q398.42 725.23 393.03 727.89 Q389.97 725.81 387.12 723.49 Z" fill="url(#g2_16)" stroke="rgb(215,215,215)" stroke-width="1.29"/>
<path d="M291.7 742.67 Q283.38 742.75 275.05 744.82 Q271.8 740.56 266.89 737.1 Q273.72 732.04 282.05 727.41 Q286.61 728.45 291.63 728.56 Q291.67 729.13 293.12 728.71 Q292.16 735.67 291.7 742.67 Z" fill="url(#g2_19)" stroke="rgb(222,222,222)" stroke-width="0.73"/>
<path d="M268.21 736.92 L282.16 728.01 L279.47 733.73 Z" fill="rgb(169,169,169)" opacity="0.75"/>
<path d="M314.08 739.44 Q303.38 734.69 293.12 728.71 Q292.05 728.66 291.63 728.56 Q296.18 723.94 298.19 718.41 Q298.99 718.78 297.58 716.42 Q307.48 719.76 317.17 724.21 Q318.14 725.16 316.9 726.53 Q317.26 731.59 319.27 737.26 Q317.25 738.94 314.08 739.44 Z" fill="url(#g2_20)" stroke="rgb(205,205,205)" stroke-width="0.71"/>
<path d="M329.4 740.69 Q331.56 733.54 334.69 726.51 Q325.84 726.1 316.9 726.53 Q318.54 731.95 319.27 737.26 Q324.42 738.23 329.4 740.69 Z" fill="url(#g2_21)" stroke="rgb(225,225,225)" stroke-width="1.3"/>
<path d="M319.27 737.26 Q323.13 737.98 324.05 736.28" stroke="rgb(194,194,194)" stroke-width="0.6" fill="none" opacity="0.8"/>
<path d="M319.73 736.89 L329.05 740.06 L324.74 735.49 Z" fill="rgb(174,174,174)" opacity="0.75"/>
<path d="M336.58 747.79 Q344.61 734.99 352.52 722.06 Q350.99 722.35 351.57 721.1 Q344.11 722.26 337.16 722.38 Q335.62 724.06 334.69 726.51 Q332.67 733.33 329.4 740.69 Q333.76 742.74 336.58 747.79 Z" fill="url(#g2_22)" stroke="rgb(211,211,211)" stroke-width="0.69"/>
<path d="M352.52 722.06 Q356.14 734.17 360.49 745.48 Q365.8 744.36 370.96 742.7 Q372.01 743.79 371.01 741.96 Q371.66 733.03 375.89 725.62 Q368.1 723.51 362.07 720.07 Q359.04 718.69 356.21 718.17 Q353.73 719.39 351.15 720.51 Q352.39 721.62 351.57 721.1 Q352.41 721.86 352.52 722.06 Z" fill="url(#g2_23)" stroke="rgb(198,198,198)" stroke-width="1.43"/>
<path d="M360.56 744.13 L370.18 741.57 L363.26 735.43 Z" fill="rgb(189,189,189)" opacity="0.75"/>
<path d="M391.98 738.51 Q392.36 736.87 393.18 735.52 Q393.45 731.68 393.03 727.89 Q390.07 725.7 387.12 723.49 Q382.05 725.63 375.89 725.62 Q374.28 733.67 371.01 741.96 Q381.66 739.88 391.98 738.51 Z" fill="url(#g2_24)" stroke="rgb(215,215,215)" stroke-width="1.14"/>
<path d="M393.03 727.89 Q398.48 726.87 403.88 725.8 Q410.15 732.52 417.52 738.91 Q414.19 740.6 412.63 743.38 Q402.93 739.33 393.18 735.52 Q394.83 732.11 393.03 727.89 Z" fill="url(#g2_25)" stroke="rgb(198,198,198)" stroke-width="1.07"/>
<path d="M274.94 753.99 Q275.32 749.36 275.05 744.82 Q283.51 744.34 291.7 742.67 Q294.43 746.74 295.9 750.98 Q285.42 752.49 274.94 753.99 Z" fill="url(#g2_28)" stroke="rgb(231,231,231)" stroke-width="0.97"/>
<path d="M300.75 755.21 Q298.41 752.83 295.9 750.98 Q294.47 746.67 291.7 742.67 Q292.66 735.97 293.12 728.71 Q303.66 733.82 314.08 739.44 Q311.64 746.86 309.17 754.27 Q305.34 755.62 300.75 755.21 Z" fill="url(#g2_29)" stroke="rgb(195,195,195)" stroke-width="1.58"/>
<path d="M312.76 759.24 Q325.4 752.3 338.19 745.7 Q336.27 746.71 336.58 747.79 Q332.45 744.35 329.4 740.69 Q324.3 739.13 319.27 737.26 Q317.1 738.9 314.08 739.44 Q311.8 746.85 309.17 754.27 Q309.76 757.82 312.76 759.24 Z" fill="url(#g2_30)" stroke="rgb(214,214,214)" stroke-width="1.6"/>
<path d="M319.55 737.98 L314.78 739.99 L320.09 742.82 Z" fill="rgb(141,141,141)" opacity="0.75"/>
<path d="M336.58 747.79 Q344.73 735.5 352.52 722.06 Q355.42 735.01 360.49 745.48 Q359.23 750.84 355.46 754.77 Q348.49 751.99 341.47 748.84 Q340.24 747.1 338.19 745.7 Q336.75 746.91 336.58 747.79 Z" fill="url(#g2_31)" stroke="rgb(215,215,215)" stroke-width="1"/>
<path d="M354.82 753.92 L341.95 748.46 L347.9 747.49 Z" fill="rgb(180,180,180)" opacity="0.75"/>
<path d="M378.77 755.41 Q376.3 762.22 372.4 768.2 Q370.14 765.85 369.58 767.62 Q363.09 762.91 355.74 760.06 Q356.72 757.3 355.46 754.77 Q357.2 749.54 360.49 745.48 Q365.7 743.55 370.96 742.7 Q373.51 750.18 378.77 755.41 Z" fill="url(#g2_32)" stroke="rgb(228,228,228)" stroke-width="0.84"/>
<path d="M391.98 738.51 Q381.5 740.1 371.01 741.96 Q371.95 742.7 370.96 742.7 Q374.16 749.37 378.77 755.41 Q385.49 753.69 392.59 752.59 Q390.66 745.65 391.98 738.51 Z" fill="url(#g2_33)" stroke="rgb(199,199,199)" stroke-width="0.66"/>
<path d="M371.76 742.98 L378.95 754.68 L378.33 747.47 Z" fill="rgb(135,135,135)" opacity="0.75"/>
<path d="M391.98 738.51 Q392.67 737.19 393.18 735.52 Q402.74 739.73 412.63 743.38 Q407.4 750.87 401.74 758.2 Q399.2 757.2 396.84 757.79 Q395.07 754.4 392.59 752.59 Q391.77 745.36 391.98 738.51 Z" fill="url(#g2_34)" stroke="rgb(228,228,228)" stroke-width="1.01"/>
<path d="M289.07 770.9 Q283.89 773.44 279.02 773.36 Q276.62 765.12 272.66 757.74 Q273.76 755.85 274.94 753.99 Q285.42 753.55 295.9 750.98 Q299.76 752.29 300.75 755.21 Q294 762.8 289.07 770.9 Z" fill="url(#g2_37)" stroke="rgb(211,211,211)" stroke-width="0.7"/>
<path d="M289.07 770.9 Q296.45 763.33 300.75 755.21 Q304.94 755.08 309.17 754.27 Q311.68 755.88 312.76 759.24 Q314.53 763.14 317.96 766.76 Q307.84 775.5 297.08 782.19 Q291.93 777.72 289.07 770.9 Z" fill="url(#g2_38)" stroke="rgb(213,213,213)" stroke-width="1.26"/>
<path d="M312.76 759.24 Q312.95 760.92 309.42 764.96" stroke="rgb(193,193,193)" stroke-width="0.6" fill="none" opacity="0.8"/>
<path d="M312.76 759.24 Q325.81 753.76 338.19 745.7 Q339.19 747.95 341.47 748.84 Q338.38 759.82 333.37 770.88 Q327.32 771.24 321.29 770.45 Q319.07 769.19 317.96 766.76 Q314.97 763.09 312.76 759.24 Z" fill="url(#g2_39)" stroke="rgb(211,211,211)" stroke-width="1.05"/>
<path d="M355.46 754.77 Q354.98 757.75 355.74 760.06 Q352.6 766.23 348.46 772.02 Q341.22 773.24 334.57 772.85 Q334.55 771.4 333.37 770.88 Q338.08 760.16 341.47 748.84 Q348.78 750.8 355.46 754.77 Z" fill="url(#g2_40)" stroke="rgb(213,213,213)" stroke-width="0.78"/>
<path d="M341.47 748.84 Q341.04 755.78 342.96 759.21" stroke="rgb(214,214,214)" stroke-width="0.6" fill="none" opacity="0.8"/>
<path d="M335.4 772.08 L334.29 770.27 L340.06 767.03 Z" fill="rgb(193,193,193)" opacity="0.75"/>
<path d="M352.34 778.83 Q359.98 779.42 367.58 779.73 Q367.7 773.5 369.58 767.62 Q362.25 764.64 355.74 760.06 Q352.95 766.76 348.46 772.02 Q350.97 775.17 352.34 778.83 Z" fill="url(#g2_41)" stroke="rgb(211,211,211)" stroke-width="0.66"/>
<path d="M392.59 752.59 Q394.57 755.3 396.84 757.79 Q391.54 766.57 387.83 776.56 Q380.66 771.37 372.4 768.2 Q377.05 761.85 378.77 755.41 Q385.68 755.18 392.59 752.59 Z" fill="url(#g2_42)" stroke="rgb(195,195,195)" stroke-width="1.27"/>
<path d="M387.65 775.4 L373.47 767.71 L383.23 766.63 Z" fill="rgb(152,152,152)" opacity="0.75"/>
<path d="M389.88 782.15 Q389.83 778.19 387.83 776.56 Q392.88 767.27 396.84 757.79 Q399.14 759.49 401.74 758.2 Q403.77 759.81 406.38 760.54 Q407.13 767.19 406.97 773.95 Q398.42 777.67 389.88 782.15 Z" fill="url(#g2_43)" stroke="rgb(225,225,225)" stroke-width="0.97"/>
<path d="M279.7 775.43 Q246.66 781.38 216.27 788.44 Q247.82 791.83 277.91 795.54 Q277.77 794.29 280.18 794.1 Q281.66 784.38 279.7 775.43 Z" fill="url(#g2_45)" stroke="rgb(226,226,226)" stroke-width="1.44"/>
<path d="M280.18 794.1 Q275.04 791.56 271.14 792.63" stroke="rgb(171,171,171)" stroke-width="0.6" fill="none" opacity="0.8"/>
<path d="M289.07 770.9 Q283.89 771.77 279.02 773.36 Q279.75 774.77 279.7 775.43 Q279.41 784.83 280.18 794.1 Q288.9 796.85 297.66 797.67 Q298.41 793.5 301.48 791.82 Q298.77 786.83 297.08 782.19 Q293.51 775.76 289.07 770.9 Z" fill="url(#g2_46)" stroke="rgb(220,220,220)" stroke-width="0.74"/>
<path d="M297.08 782.19 Q298.99 787.11 301.48 791.82 Q309.48 791.97 317.48 792.07 Q317.89 792.31 317.11 790.54 Q318.03 780.79 321.29 770.45 Q320.31 767.36 317.96 766.76 Q307.59 774.59 297.08 782.19 Z" fill="url(#g2_47)" stroke="rgb(204,204,204)" stroke-width="1.27"/>
<path d="M317.96 766.76 Q317.24 771.62 313.35 775.88" stroke="rgb(185,185,185)" stroke-width="0.6" fill="none" opacity="0.8"/>
<path d="M334.57 772.85 Q334.9 781.81 334.57 790.65 Q334.3 788.88 335.26 789.14 Q326.17 789.89 317.11 790.54 Q318.7 780.48 321.29 770.45 Q327.45 771.3 333.37 770.88 Q333.64 772.49 334.57 772.85 Z" fill="url(#g2_48)" stroke="rgb(208,208,208)" stroke-width="1.36"/>
<path d="M334.57 772.85 Q333.36 775.31 330.96 777.25" stroke="rgb(176,176,176)" stroke-width="0.6" fill="none" opacity="0.8"/>
<path d="M334.57 772.85 Q341.31 771.5 348.46 772.02 Q350.27 775.54 352.34 778.83 Q350.75 786.55 347.85 793.36 Q341.03 792.8 334.57 790.65 Q334.11 781.76 334.57 772.85 Z" fill="url(#g2_49)" stroke="rgb(213,213,213)" stroke-width="1.19"/>
<path d="M335.29 789.92 L335.29 773.54 L339.6 781.63 Z" fill="rgb(172,172,172)" opacity="0.75"/>
<path d="M352.34 778.83 Q351.58 786.48 347.85 793.36 Q349.86 795.49 353.43 796.58 Q360.71 795.63 368.06 795.58 Q369.55 791.69 371.09 787.81 Q368.31 784.31 367.58 779.73 Q359.96 779.85 352.34 778.83 Z" fill="url(#g2_50)" stroke="rgb(215,215,215)" stroke-width="1.07"/>
<path d="M389.88 786.19 Q380.31 786.31 371.09 787.81 Q370.36 783.15 367.58 779.73 Q370.22 774.46 369.58 767.62 Q371.72 768.95 372.4 768.2 Q380.16 772.23 387.83 776.56 Q387.76 779.25 389.88 782.15 Q389.13 783.79 389.88 786.19 Z" fill="url(#g2_51)" stroke="rgb(202,202,202)" stroke-width="1.22"/>
<path d="M408.3 792.05 Q398.45 789 388.75 785.34 Q389.14 785.8 389.88 786.19 Q391.48 784.08 389.88 782.15 Q398.34 777.69 406.97 773.95 Q411.34 777.67 414.44 782.06 Q411.66 787.14 408.3 792.05 Z" fill="url(#g2_52)" stroke="rgb(226,226,226)" stroke-width="0.95"/>
<path d="M335.26 789.14 Q334.75 809.51 332.31 827.87 Q324.99 808.53 317.48 792.07 Q317.06 791.06 317.11 790.54 Q326.17 790.17 335.26 789.14 Z" fill="url(#g2_57)" stroke="rgb(195,195,195)" stroke-width="1.57"/>
<path d="M335.26 789.14 Q330.1 794.15 328.72 797.73" stroke="rgb(204,204,204)" stroke-width="0.6" fill="none" opacity="0.8"/>
<path d="M334.48 790.01 L331.77 825.63 L329.17 803.69 Z" fill="rgb(193,193,193)" opacity="0.75"/>
<path d="M334.57 790.65 Q341.01 793.72 347.85 793.36 Q350.81 794.79 353.43 796.58 Q343.34 819.12 333.41 842.17 Q333.83 830.86 332.31 827.87 Q333.46 808.62 335.26 789.14 Q334.42 788.07 334.57 790.65 Z" fill="url(#g2_58)" stroke="rgb(223,223,223)" stroke-width="1.56"/>
<path d="M334.96 791.93 L347.18 794.42 L340.24 800.2 Z" fill="rgb(149,149,149)" opacity="0.75"/>
<path d="M388.75 785.34 Q387.64 807.21 386.44 828.94 Q377.14 812.74 368.06 795.58 Q370.51 792.12 371.09 787.81 Q380.54 788.56 389.88 786.19 Q388.65 786.62 388.75 785.34 Z" fill="url(#g2_60)" stroke="rgb(231,231,231)" stroke-width="1.1"/>
<path d="M386.44 828.94 Q385.26 821.12 385.33 816.43" stroke="rgb(181,181,181)" stroke-width="0.6" fill="none" opacity="0.8"/>
</g>
<clipPath id="sem3"><rect x="413.1" y="704" width="130" height="88"/></clipPath>
<g clip-path="url(#sem3)">
<rect x="413.1" y="704" width="130" height="88" fill="#8c8c8c"/>
<defs><linearGradient id="g3_1" x1="0.14" y1="0.15" x2="0.86" y2="0.85"><stop offset="0.2" stop-color="rgb(46,46,46)"/><stop offset="1" stop-color="rgb(115,115,115)"/></linearGradient><linearGradient id="g3_3" x1="0.52" y1="0.00" x2="0.48" y2="1.00"><stop offset="0.2" stop-color="rgb(118,118,118)"/><stop offset="1" stop-color="rgb(149,149,149)"/></linearGradient><linearGradient id="g3_6" x1="0.99" y1="0.62" x2="0.01" y2="0.38"><stop offset="0.2" stop-color="rgb(120,120,120)"/><stop offset="1" stop-color="rgb(163,163,163)"/></linearGradient><linearGradient id="g3_9" x1="0.81" y1="0.89" x2="0.19" y2="0.11"><stop offset="0.2" stop-color="rgb(119,119,119)"/><stop offset="1" stop-color="rgb(173,173,173)"/></linearGradient><linearGradient id="g3_10" x1="0.72" y1="0.95" x2="0.28" y2="0.05"><stop offset="0.2" stop-color="rgb(111,111,111)"/><stop offset="1" stop-color="rgb(173,173,173)"/></linearGradient><linearGradient id="g3_11" x1="0.89" y1="0.82" x2="0.11" y2="0.18"><stop offset="0.2" stop-color="rgb(105,105,105)"/><stop offset="1" stop-color="rgb(149,149,149)"/></linearGradient><linearGradient id="g3_12" x1="0.05" y1="0.72" x2="0.95" y2="0.28"><stop offset="0.2" stop-color="rgb(109,109,109)"/><stop offset="1" stop-color="rgb(167,167,167)"/></linearGradient><linearGradient id="g3_13" x1="0.27" y1="0.94" x2="0.73" y2="0.06"><stop offset="0.2" stop-color="rgb(114,114,114)"/><stop offset="1" stop-color="rgb(158,158,158)"/></linearGradient><linearGradient id="g3_14" x1="0.06" y1="0.25" x2="0.94" y2="0.75"><stop offset="0.2" stop-color="rgb(121,121,121)"/><stop offset="1" stop-color="rgb(153,153,153)"/></linearGradient><linearGradient id="g3_16" x1="0.37" y1="0.02" x2="0.63" y2="0.98"><stop offset="0.2" stop-color="rgb(107,107,107)"/><stop offset="1" stop-color="rgb(156,156,156)"/></linearGradient><linearGradient id="g3_17" x1="0.45" y1="0.00" x2="0.55" y2="1.00"><stop offset="0.2" stop-color="rgb(115,115,115)"/><stop offset="1" stop-color="rgb(165,165,165)"/></linearGradient><linearGradient id="g3_18" x1="0.89" y1="0.19" x2="0.11" y2="0.81"><stop offset="0.2" stop-color="rgb(116,116,116)"/><stop offset="1" stop-color="rgb(146,146,146)"/></linearGradient><linearGradient id="g3_19" x1="0.30" y1="0.04" x2="0.70" y2="0.96"><stop offset="0.2" stop-color="rgb(111,111,111)"/><stop offset="1" stop-color="rgb(148,148,148)"/></linearGradient><linearGradient id="g3_20" x1="0.48" y1="0.00" x2="0.52" y2="1.00"><stop offset="0.2" stop-color="rgb(107,107,107)"/><stop offset="1" stop-color="rgb(148,148,148)"/></linearGradient><linearGradient id="g3_21" x1="0.83" y1="0.13" x2="0.17" y2="0.87"><stop offset="0.2" stop-color="rgb(108,108,108)"/><stop offset="1" stop-color="rgb(148,148,148)"/></linearGradient><linearGradient id="g3_22" x1="0.35" y1="0.98" x2="0.65" y2="0.02"><stop offset="0.2" stop-color="rgb(122,122,122)"/><stop offset="1" stop-color="rgb(151,151,151)"/></linearGradient><linearGradient id="g3_23" x1="0.01" y1="0.62" x2="0.99" y2="0.38"><stop offset="0.2" stop-color="rgb(108,108,108)"/><stop offset="1" stop-color="rgb(165,165,165)"/></linearGradient><linearGradient id="g3_24" x1="0.02" y1="0.64" x2="0.98" y2="0.36"><stop offset="0.2" stop-color="rgb(111,111,111)"/><stop offset="1" stop-color="rgb(169,169,169)"/></linearGradient><linearGradient id="g3_25" x1="0.81" y1="0.11" x2="0.19" y2="0.89"><stop offset="0.2" stop-color="rgb(114,114,114)"/><stop offset="1" stop-color="rgb(171,171,171)"/></linearGradient><linearGradient id="g3_26" x1="0.90" y1="0.80" x2="0.10" y2="0.20"><stop offset="0.2" stop-color="rgb(102,102,102)"/><stop offset="1" stop-color="rgb(156,156,156)"/></linearGradient><linearGradient id="g3_27" x1="0.96" y1="0.31" x2="0.04" y2="0.69"><stop offset="0.2" stop-color="rgb(31,31,31)"/><stop offset="1" stop-color="rgb(109,109,109)"/></linearGradient><linearGradient id="g3_28" x1="0.34" y1="0.03" x2="0.66" y2="0.97"><stop offset="0.2" stop-color="rgb(109,109,109)"/><stop offset="1" stop-color="rgb(172,172,172)"/></linearGradient><linearGradient id="g3_29" x1="0.59" y1="0.01" x2="0.41" y2="0.99"><stop offset="0.2" stop-color="rgb(119,119,119)"/><stop offset="1" stop-color="rgb(152,152,152)"/></linearGradient><linearGradient id="g3_30" x1="0.06" y1="0.74" x2="0.94" y2="0.26"><stop offset="0.2" stop-color="rgb(104,104,104)"/><stop offset="1" stop-color="rgb(172,172,172)"/></linearGradient><linearGradient id="g3_33" x1="0.98" y1="0.36" x2="0.02" y2="0.64"><stop offset="0.2" stop-color="rgb(119,119,119)"/><stop offset="1" stop-color="rgb(168,168,168)"/></linearGradient><linearGradient id="g3_34" x1="0.70" y1="0.96" x2="0.30" y2="0.04"><stop offset="0.2" stop-color="rgb(120,120,120)"/><stop offset="1" stop-color="rgb(167,167,167)"/></linearGradient><linearGradient id="g3_35" x1="1.00" y1="0.54" x2="0.00" y2="0.46"><stop offset="0.2" stop-color="rgb(106,106,106)"/><stop offset="1" stop-color="rgb(162,162,162)"/></linearGradient><linearGradient id="g3_36" x1="0.96" y1="0.31" x2="0.04" y2="0.69"><stop offset="0.2" stop-color="rgb(124,124,124)"/><stop offset="1" stop-color="rgb(165,165,165)"/></linearGradient><linearGradient id="g3_37" x1="0.98" y1="0.35" x2="0.02" y2="0.65"><stop offset="0.2" stop-color="rgb(125,125,125)"/><stop offset="1" stop-color="rgb(166,166,166)"/></linearGradient><linearGradient id="g3_38" x1="0.03" y1="0.32" x2="0.97" y2="0.68"><stop offset="0.2" stop-color="rgb(123,123,123)"/><stop offset="1" stop-color="rgb(166,166,166)"/></linearGradient><linearGradient id="g3_39" x1="0.89" y1="0.19" x2="0.11" y2="0.81"><stop offset="0.2" stop-color="rgb(104,104,104)"/><stop offset="1" stop-color="rgb(172,172,172)"/></linearGradient><linearGradient id="g3_44" x1="0.08" y1="0.77" x2="0.92" y2="0.23"><stop offset="0.2" stop-color="rgb(120,120,120)"/><stop offset="1" stop-color="rgb(153,153,153)"/></linearGradient></defs>
<path d="M414.28 712.05 Q412.95 709.43 410.54 707.94 Q420.17 689.59 429.43 670.34 Q434.92 686.33 440.74 701.96 Q427.68 707.41 414.28 712.05 Z" fill="url(#g3_1)" stroke="rgb(212,212,212)" stroke-width="1.17"/>
<path d="M479.04 708.83 Q469.08 702.24 458.05 701.54 Q464.7 668.76 469.44 631.43 Q475.56 666.4 481.45 702.67 Q479.1 703.03 479.04 708.83 Z" fill="url(#g3_3)" stroke="rgb(221,221,221)" stroke-width="0.9"/>
<path d="M469.44 631.43 Q469.68 648.69 468.58 665.04" stroke="rgb(219,219,219)" stroke-width="0.6" fill="none" opacity="0.8"/>
<path d="M480.7 701.35 L478.48 707.02 L475.63 694.76 Z" fill="rgb(202,202,202)" opacity="0.75"/>
<path d="M524.65 694.35 Q534 705.15 542.49 716.58 Q542.71 713.62 544.25 715.27 Q544.85 710.96 546.7 708.76 Q542.23 690.54 537.86 671.98 Q532.32 685.61 524.65 694.35 Z" fill="url(#g3_6)" stroke="rgb(221,221,221)" stroke-width="1.25"/>
<path d="M525.81 694.91 L542.23 715.36 L536.72 703.18 Z" fill="rgb(198,198,198)" opacity="0.75"/>
<path d="M414.28 712.05 Q427.34 706.57 440.74 701.96 Q443.51 705.93 447.33 709.31 Q439.25 715.67 432.7 722.38 Q423.64 722.72 415.2 722.18 Q414.51 717.17 414.28 712.05 Z" fill="url(#g3_9)" stroke="rgb(201,201,201)" stroke-width="0.77"/>
<path d="M416.39 721.5 L415.54 712.17 L423.31 715.13 Z" fill="rgb(206,206,206)" opacity="0.75"/>
<path d="M432.7 722.38 Q437.96 725.59 442.04 729.93 Q449.01 725.26 455.86 720.28 Q452.91 714.63 452.27 707.85 Q449.48 709.39 447.33 709.31 Q440.99 716.18 432.7 722.38 Z" fill="url(#g3_10)" stroke="rgb(206,206,206)" stroke-width="1.57"/>
<path d="M442.36 728.97 L455.08 720.09 L447.32 721.1 Z" fill="rgb(187,187,187)" opacity="0.75"/>
<path d="M467.68 727.24 Q467.28 728.58 466.74 728.34 Q460.79 725.23 455.86 720.28 Q453.16 713.95 452.27 707.85 Q454.28 703.82 458.05 701.54 Q468.54 705.2 479.04 708.83 Q480.39 712.05 483.35 714.87 Q474.92 720.71 467.68 727.24 Z" fill="url(#g3_11)" stroke="rgb(208,208,208)" stroke-width="0.99"/>
<path d="M467.68 727.24 Q467.38 723.78 468.64 719.49" stroke="rgb(199,199,199)" stroke-width="0.6" fill="none" opacity="0.8"/>
<path d="M483.35 714.87 Q480.57 712.11 479.04 708.83 Q479.61 705.71 481.45 702.67 Q493.36 698.51 505.28 694.5 Q506.89 698.05 509.71 700.81 Q508.55 703.75 508.53 706.47 Q498.93 712.41 489.69 718.75 Q486.89 716.3 483.35 714.87 Z" fill="url(#g3_12)" stroke="rgb(195,195,195)" stroke-width="1.53"/>
<path d="M482.45 702.99 L504.37 695.48 L493.65 703.13 Z" fill="rgb(186,186,186)" opacity="0.75"/>
<path d="M496.93 731.77 Q506.88 730.93 516.88 732.16 Q518.53 727.29 521.01 722.76 Q514.89 714.5 508.53 706.47 Q499.07 712.56 489.69 718.75 Q494.66 724.97 496.93 731.77 Z" fill="url(#g3_13)" stroke="rgb(210,210,210)" stroke-width="1.56"/>
<path d="M516.06 731.38 L519.86 722.73 L512.04 724.62 Z" fill="rgb(188,188,188)" opacity="0.75"/>
<path d="M524.65 694.35 Q517.08 697.32 509.71 700.81 Q508.96 703.58 508.53 706.47 Q514.83 714.56 521.01 722.76 Q530.61 718.42 542.49 716.58 Q532.78 705.64 524.65 694.35 Z" fill="url(#g3_14)" stroke="rgb(227,227,227)" stroke-width="1.18"/>
<path d="M423.51 746.12 Q420.79 733.29 415.39 722.45 Q394.04 734.72 374.64 748.2 Q396.34 751.36 416.39 755.73 Q419.98 750.94 423.51 746.12 Z" fill="url(#g3_16)" stroke="rgb(213,213,213)" stroke-width="1.21"/>
<path d="M415.68 754.72 L422.23 745.88 L412.97 746.55 Z" fill="rgb(214,214,214)" opacity="0.75"/>
<path d="M427.52 746.24 Q434.64 743.98 442.47 742.95 Q440.65 736.06 442.04 729.93 Q436.55 726.79 432.7 722.38 Q423.66 721.58 415.2 722.18 Q414.82 721.92 415.39 722.45 Q419.71 734.25 423.51 746.12 Q425.46 746.44 427.52 746.24 Z" fill="url(#g3_17)" stroke="rgb(209,209,209)" stroke-width="0.99"/>
<path d="M423.9 745.08 L427.59 745.2 L427.13 738.9 Z" fill="rgb(193,193,193)" opacity="0.75"/>
<path d="M452.62 747.85 Q448.09 744.38 442.47 742.95 Q442.07 736.45 442.04 729.93 Q449.26 726.04 455.86 720.28 Q462.12 723.21 466.74 728.34 Q461.47 737.57 455.76 746.73 Q453.98 745.81 452.62 747.85 Z" fill="url(#g3_18)" stroke="rgb(201,201,201)" stroke-width="1.4"/>
<path d="M486.21 744.1 Q476.17 736.89 467.68 727.24 Q467.54 728.95 466.74 728.34 Q461.33 737.58 455.76 746.73 Q466.3 751.46 474.61 759.3 Q477.66 759.34 479.84 757.04 Q482.76 750.41 486.21 744.1 Z" fill="url(#g3_19)" stroke="rgb(219,219,219)" stroke-width="1.29"/>
<path d="M467.15 729.58 L457.04 746.49 L467.16 741.04 Z" fill="rgb(167,167,167)" opacity="0.75"/>
<path d="M491.55 740.53 Q495.24 736.94 496.93 731.77 Q493.1 725.38 489.69 718.75 Q486.44 718.41 483.35 714.87 Q474.93 720.58 467.68 727.24 Q475.93 736.37 486.21 744.1 Q488.97 742.72 491.55 740.53 Z" fill="url(#g3_20)" stroke="rgb(202,202,202)" stroke-width="0.7"/>
<path d="M467.68 727.24 Q473.4 727.27 476.47 726.65" stroke="rgb(206,206,206)" stroke-width="0.6" fill="none" opacity="0.8"/>
<path d="M486.19 742.94 L491.1 739.65 L487.21 735.17 Z" fill="rgb(203,203,203)" opacity="0.75"/>
<path d="M505.68 756.67 Q512.57 747.19 521.62 740.2 Q517.44 736.76 516.88 732.16 Q506.92 731.78 496.93 731.77 Q495.56 736.59 491.55 740.53 Q497.88 749.38 505.68 756.67 Z" fill="url(#g3_21)" stroke="rgb(207,207,207)" stroke-width="1.41"/>
<path d="M491.55 740.53 Q496.69 740.22 497.85 742.67" stroke="rgb(204,204,204)" stroke-width="0.6" fill="none" opacity="0.8"/>
<path d="M505.75 755.36 L520.41 740.2 L509.66 743.86 Z" fill="rgb(180,180,180)" opacity="0.75"/>
<path d="M542.49 716.58 Q531.8 719.96 521.01 722.76 Q519.08 727.49 516.88 732.16 Q521.14 735.5 521.62 740.2 Q527.07 742.63 531.35 747.21 Q536.01 747.54 540.59 747.35 Q543.82 736.53 549.23 726.85 Q548.14 720 544.25 715.27 Q542.59 717.11 542.49 716.58 Z" fill="url(#g3_22)" stroke="rgb(228,228,228)" stroke-width="1.39"/>
<path d="M540.01 746.05 L547.96 727.18 L538.48 733.71 Z" fill="rgb(174,174,174)" opacity="0.75"/>
<path d="M548.45 757.14 Q576.38 749.64 604.52 742.24 Q574.18 736.01 549.23 726.85 Q546.52 737.74 540.59 747.35 Q546.46 751.18 548.45 757.14 Z" fill="url(#g3_23)" stroke="rgb(209,209,209)" stroke-width="1.58"/>
<path d="M416.39 755.73 Q395.43 752.43 374.64 748.2 Q359.72 748.44 350.84 751.06 Q376.77 767.02 404.81 782.34 Q410.89 775.48 421.22 771.95 Q416.83 763.68 416.39 755.73 Z" fill="url(#g3_24)" stroke="rgb(195,195,195)" stroke-width="1.05"/>
<path d="M427.52 746.24 Q433.92 756.1 440.86 765.65 Q436.65 772.06 430.58 776.3 Q425.89 774.24 421.22 771.95 Q419.62 763.48 416.39 755.73 Q419.9 750.85 423.51 746.12 Q425.63 747.61 427.52 746.24 Z" fill="url(#g3_25)" stroke="rgb(203,203,203)" stroke-width="1.53"/>
<path d="M439.73 765.22 L430.27 775.02 L430.66 765.01 Z" fill="rgb(218,218,218)" opacity="0.75"/>
<path d="M427.52 746.24 Q434.16 743.67 442.47 742.95 Q446.65 746.61 452.62 747.85 Q450.32 754.02 447.56 760.12 Q444.01 761.82 440.86 765.65 Q433.66 756.17 427.52 746.24 Z" fill="url(#g3_26)" stroke="rgb(212,212,212)" stroke-width="1.23"/>
<path d="M460.86 776.85 Q453.77 769.11 447.56 760.12 Q451.61 755.18 452.62 747.85 Q454.4 747.86 455.76 746.73 Q465.57 752.47 474.61 759.3 Q468 766.98 464.66 776.8 Q462.46 775.44 460.86 776.85 Z" fill="url(#g3_27)" stroke="rgb(214,214,214)" stroke-width="1.47"/>
<path d="M473.38 759.46 L464.23 775.56 L463.87 764.26 Z" fill="rgb(193,193,193)" opacity="0.75"/>
<path d="M505.68 770.95 Q505.55 763.73 505.68 756.67 Q498.84 748.08 491.55 740.53 Q489.43 743.62 486.21 744.1 Q484.69 751.46 479.84 757.04 Q490.35 765.21 501.25 772.69 Q504.41 773.48 505.68 770.95 Z" fill="url(#g3_28)" stroke="rgb(213,213,213)" stroke-width="0.75"/>
<path d="M505.68 770.95 Q512.37 771.32 519.26 771.04 Q525.97 759.28 531.35 747.21 Q526.9 743.12 521.62 740.2 Q514.16 749.91 505.68 756.67 Q505.8 763.74 505.68 770.95 Z" fill="url(#g3_29)" stroke="rgb(222,222,222)" stroke-width="0.77"/>
<path d="M521.22 741.56 L506.57 756.71 L515.37 753.35 Z" fill="rgb(203,203,203)" opacity="0.75"/>
<path d="M545.47 769.67 Q534.37 770.98 523.53 771.02 Q519.63 772.17 519.26 771.04 Q524.61 758.98 531.35 747.21 Q536 748.35 540.59 747.35 Q544.6 752.15 548.45 757.14 Q545.57 761.7 545.73 766.37 Q544.52 767.24 545.47 769.67 Z" fill="url(#g3_30)" stroke="rgb(216,216,216)" stroke-width="1"/>
<path d="M437.05 790.09 Q434.47 783.01 430.58 776.3 Q425.68 774.65 421.22 771.95 Q413.22 777.42 404.81 782.34 Q405.81 789.65 407.89 796.77 Q410.39 795.35 409.27 796.91 Q421.25 794.87 433.32 794.13 Q433.44 791.49 437.05 790.09 Z" fill="url(#g3_33)" stroke="rgb(214,214,214)" stroke-width="1.33"/>
<path d="M439.42 789.91 Q438.86 788.11 437.05 790.09 Q434.45 782.71 430.58 776.3 Q436.26 771.4 440.86 765.65 Q444.01 764.75 447.56 760.12 Q452.52 769.66 460.86 776.85 Q450.25 783.48 439.42 789.91 Z" fill="url(#g3_34)" stroke="rgb(227,227,227)" stroke-width="1.52"/>
<path d="M439.42 789.91 Q449.14 782.97 460.86 776.85 Q462.76 776.39 464.66 776.8 Q471.07 783.31 476.16 790.63 Q476.11 791.55 475.62 792.37 Q466.79 797.13 459.27 804.63 Q449.43 797.22 439.42 789.91 Z" fill="url(#g3_35)" stroke="rgb(228,228,228)" stroke-width="1.03"/>
<path d="M460.86 776.85 Q462.2 780.99 462.39 783.07" stroke="rgb(188,188,188)" stroke-width="0.6" fill="none" opacity="0.8"/>
<path d="M476.16 790.63 Q485.32 789.04 494.32 784.97 Q495.39 781.34 499.39 779.53 Q499.24 775.99 501.25 772.69 Q491.17 763.92 479.84 757.04 Q477.73 759.33 474.61 759.3 Q471.54 768.88 464.66 776.8 Q472.32 782.44 476.16 790.63 Z" fill="url(#g3_36)" stroke="rgb(213,213,213)" stroke-width="1.57"/>
<path d="M505.68 770.95 Q512.78 772.51 519.26 771.04 Q521.33 771.12 523.53 771.02 Q524.89 780.8 530 790.84 Q525.76 797.96 521.05 804.35 Q510.67 790.64 499.39 779.53 Q501.89 776.55 501.25 772.69 Q503.12 771.55 505.68 770.95 Z" fill="url(#g3_37)" stroke="rgb(196,196,196)" stroke-width="1.5"/>
<path d="M518.87 771.76 L522.79 771.74 L517.43 776.09 Z" fill="rgb(166,166,166)" opacity="0.75"/>
<path d="M543.44 786.95 Q544.7 778.21 545.47 769.67 Q534.81 771.94 523.53 771.02 Q527.48 780.98 530 790.84 Q535.39 790.24 540.83 789.23 Q542.53 788.56 543.44 786.95 Z" fill="url(#g3_38)" stroke="rgb(228,228,228)" stroke-width="1.53"/>
<path d="M545.47 769.67 Q545.09 770.79 543.37 772.25" stroke="rgb(206,206,206)" stroke-width="0.6" fill="none" opacity="0.8"/>
<path d="M622.59 811.3 Q582.35 788.36 545.73 766.37 Q544.97 767.49 545.47 769.67 Q542.83 777.88 543.44 786.95 Q583.31 799.37 622.59 811.3 Z" fill="url(#g3_39)" stroke="rgb(229,229,229)" stroke-width="0.68"/>
<path d="M476.16 790.63 Q485.22 787.24 494.32 784.97 Q495.33 811.79 496.13 838.38 Q485.82 813.08 475.62 792.37 Q477.4 793.08 476.16 790.63 Z" fill="url(#g3_44)" stroke="rgb(207,207,207)" stroke-width="1.64"/>
<path d="M476.16 790.63 Q476.89 791.08 480.04 795.19" stroke="rgb(177,177,177)" stroke-width="0.6" fill="none" opacity="0.8"/>
<path d="M493.62 786.3 L495.28 835.44 L489.81 806.03 Z" fill="rgb(197,197,197)" opacity="0.75"/>
</g>
<clipPath id="sem4"><rect x="548.2" y="704" width="130" height="88"/></clipPath>
<g clip-path="url(#sem4)">
<rect x="548.2" y="704" width="130" height="88" fill="#606060"/>
<defs><linearGradient id="g4_4" x1="0.86" y1="0.15" x2="0.14" y2="0.85"><stop offset="0.2" stop-color="rgb(79,79,79)"/><stop offset="1" stop-color="rgb(118,118,118)"/></linearGradient><linearGradient id="g4_5" x1="0.62" y1="0.02" x2="0.38" y2="0.98"><stop offset="0.2" stop-color="rgb(85,85,85)"/><stop offset="1" stop-color="rgb(105,105,105)"/></linearGradient><linearGradient id="g4_6" x1="0.69" y1="0.04" x2="0.31" y2="0.96"><stop offset="0.2" stop-color="rgb(76,76,76)"/><stop offset="1" stop-color="rgb(105,105,105)"/></linearGradient><linearGradient id="g4_7" x1="0.14" y1="0.85" x2="0.86" y2="0.15"><stop offset="0.2" stop-color="rgb(72,72,72)"/><stop offset="1" stop-color="rgb(97,97,97)"/></linearGradient><linearGradient id="g4_9" x1="0.08" y1="0.23" x2="0.92" y2="0.77"><stop offset="0.2" stop-color="rgb(65,65,65)"/><stop offset="1" stop-color="rgb(100,100,100)"/></linearGradient><linearGradient id="g4_10" x1="0.52" y1="1.00" x2="0.48" y2="0.00"><stop offset="0.2" stop-color="rgb(66,66,66)"/><stop offset="1" stop-color="rgb(103,103,103)"/></linearGradient><linearGradient id="g4_12" x1="0.33" y1="0.97" x2="0.67" y2="0.03"><stop offset="0.2" stop-color="rgb(68,68,68)"/><stop offset="1" stop-color="rgb(101,101,101)"/></linearGradient><linearGradient id="g4_13" x1="0.00" y1="0.57" x2="1.00" y2="0.43"><stop offset="0.2" stop-color="rgb(82,82,82)"/><stop offset="1" stop-color="rgb(101,101,101)"/></linearGradient><linearGradient id="g4_14" x1="0.61" y1="0.01" x2="0.39" y2="0.99"><stop offset="0.2" stop-color="rgb(64,64,64)"/><stop offset="1" stop-color="rgb(115,115,115)"/></linearGradient><linearGradient id="g4_15" x1="0.74" y1="0.94" x2="0.26" y2="0.06"><stop offset="0.2" stop-color="rgb(33,33,33)"/><stop offset="1" stop-color="rgb(78,78,78)"/></linearGradient><linearGradient id="g4_16" x1="0.27" y1="0.06" x2="0.73" y2="0.94"><stop offset="0.2" stop-color="rgb(81,81,81)"/><stop offset="1" stop-color="rgb(101,101,101)"/></linearGradient><linearGradient id="g4_17" x1="0.67" y1="0.03" x2="0.33" y2="0.97"><stop offset="0.2" stop-color="rgb(44,44,44)"/><stop offset="1" stop-color="rgb(65,65,65)"/></linearGradient><linearGradient id="g4_18" x1="0.69" y1="0.96" x2="0.31" y2="0.04"><stop offset="0.2" stop-color="rgb(83,83,83)"/><stop offset="1" stop-color="rgb(107,107,107)"/></linearGradient><linearGradient id="g4_19" x1="0.14" y1="0.84" x2="0.86" y2="0.16"><stop offset="0.2" stop-color="rgb(74,74,74)"/><stop offset="1" stop-color="rgb(98,98,98)"/></linearGradient><linearGradient id="g4_20" x1="0.65" y1="0.98" x2="0.35" y2="0.02"><stop offset="0.2" stop-color="rgb(80,80,80)"/><stop offset="1" stop-color="rgb(121,121,121)"/></linearGradient><linearGradient id="g4_21" x1="0.93" y1="0.75" x2="0.07" y2="0.25"><stop offset="0.2" stop-color="rgb(84,84,84)"/><stop offset="1" stop-color="rgb(107,107,107)"/></linearGradient><linearGradient id="g4_22" x1="0.34" y1="0.98" x2="0.66" y2="0.02"><stop offset="0.2" stop-color="rgb(85,85,85)"/><stop offset="1" stop-color="rgb(99,99,99)"/></linearGradient><linearGradient id="g4_23" x1="0.82" y1="0.89" x2="0.18" y2="0.11"><stop offset="0.2" stop-color="rgb(44,44,44)"/><stop offset="1" stop-color="rgb(74,74,74)"/></linearGradient><linearGradient id="g4_24" x1="0.03" y1="0.32" x2="0.97" y2="0.68"><stop offset="0.2" stop-color="rgb(78,78,78)"/><stop offset="1" stop-color="rgb(108,108,108)"/></linearGradient><linearGradient id="g4_25" x1="0.99" y1="0.41" x2="0.01" y2="0.59"><stop offset="0.2" stop-color="rgb(78,78,78)"/><stop offset="1" stop-color="rgb(111,111,111)"/></linearGradient><linearGradient id="g4_26" x1="0.44" y1="1.00" x2="0.56" y2="0.00"><stop offset="0.2" stop-color="rgb(75,75,75)"/><stop offset="1" stop-color="rgb(113,113,113)"/></linearGradient><linearGradient id="g4_27" x1="0.20" y1="0.10" x2="0.80" y2="0.90"><stop offset="0.2" stop-color="rgb(74,74,74)"/><stop offset="1" stop-color="rgb(99,99,99)"/></linearGradient><linearGradient id="g4_28" x1="0.01" y1="0.43" x2="0.99" y2="0.57"><stop offset="0.2" stop-color="rgb(77,77,77)"/><stop offset="1" stop-color="rgb(100,100,100)"/></linearGradient><linearGradient id="g4_29" x1="0.39" y1="0.01" x2="0.61" y2="0.99"><stop offset="0.2" stop-color="rgb(64,64,64)"/><stop offset="1" stop-color="rgb(95,95,95)"/></linearGradient><linearGradient id="g4_30" x1="0.97" y1="0.68" x2="0.03" y2="0.32"><stop offset="0.2" stop-color="rgb(71,71,71)"/><stop offset="1" stop-color="rgb(101,101,101)"/></linearGradient><linearGradient id="g4_31" x1="0.46" y1="1.00" x2="0.54" y2="0.00"><stop offset="0.2" stop-color="rgb(81,81,81)"/><stop offset="1" stop-color="rgb(119,119,119)"/></linearGradient><linearGradient id="g4_32" x1="0.23" y1="0.08" x2="0.77" y2="0.92"><stop offset="0.2" stop-color="rgb(76,76,76)"/><stop offset="1" stop-color="rgb(98,98,98)"/></linearGradient><linearGradient id="g4_33" x1="0.00" y1="0.57" x2="1.00" y2="0.43"><stop offset="0.2" stop-color="rgb(70,70,70)"/><stop offset="1" stop-color="rgb(107,107,107)"/></linearGradient><linearGradient id="g4_34" x1="0.95" y1="0.28" x2="0.05" y2="0.72"><stop offset="0.2" stop-color="rgb(42,42,42)"/><stop offset="1" stop-color="rgb(84,84,84)"/></linearGradient><linearGradient id="g4_37" x1="0.87" y1="0.84" x2="0.13" y2="0.16"><stop offset="0.2" stop-color="rgb(82,82,82)"/><stop offset="1" stop-color="rgb(113,113,113)"/></linearGradient><linearGradient id="g4_38" x1="0.32" y1="0.96" x2="0.68" y2="0.04"><stop offset="0.2" stop-color="rgb(65,65,65)"/><stop offset="1" stop-color="rgb(117,117,117)"/></linearGradient><linearGradient id="g4_39" x1="0.93" y1="0.24" x2="0.07" y2="0.76"><stop offset="0.2" stop-color="rgb(30,30,30)"/><stop offset="1" stop-color="rgb(73,73,73)"/></linearGradient><linearGradient id="g4_40" x1="0.83" y1="0.12" x2="0.17" y2="0.88"><stop offset="0.2" stop-color="rgb(85,85,85)"/><stop offset="1" stop-color="rgb(105,105,105)"/></linearGradient><linearGradient id="g4_41" x1="0.98" y1="0.36" x2="0.02" y2="0.64"><stop offset="0.2" stop-color="rgb(76,76,76)"/><stop offset="1" stop-color="rgb(116,116,116)"/></linearGradient><linearGradient id="g4_42" x1="0.71" y1="0.04" x2="0.29" y2="0.96"><stop offset="0.2" stop-color="rgb(38,38,38)"/><stop offset="1" stop-color="rgb(80,80,80)"/></linearGradient><linearGradient id="g4_43" x1="0.83" y1="0.88" x2="0.17" y2="0.12"><stop offset="0.2" stop-color="rgb(80,80,80)"/><stop offset="1" stop-color="rgb(111,111,111)"/></linearGradient><linearGradient id="g4_44" x1="0.65" y1="0.02" x2="0.35" y2="0.98"><stop offset="0.2" stop-color="rgb(82,82,82)"/><stop offset="1" stop-color="rgb(108,108,108)"/></linearGradient><linearGradient id="g4_45" x1="0.37" y1="0.98" x2="0.63" y2="0.02"><stop offset="0.2" stop-color="rgb(69,69,69)"/><stop offset="1" stop-color="rgb(109,109,109)"/></linearGradient><linearGradient id="g4_46" x1="0.65" y1="0.02" x2="0.35" y2="0.98"><stop offset="0.2" stop-color="rgb(71,71,71)"/><stop offset="1" stop-color="rgb(101,101,101)"/></linearGradient><linearGradient id="g4_49" x1="0.65" y1="0.02" x2="0.35" y2="0.98"><stop offset="0.2" stop-color="rgb(73,73,73)"/><stop offset="1" stop-color="rgb(94,94,94)"/></linearGradient><linearGradient id="g4_50" x1="0.83" y1="0.87" x2="0.17" y2="0.13"><stop offset="0.2" stop-color="rgb(68,68,68)"/><stop offset="1" stop-color="rgb(112,112,112)"/></linearGradient><linearGradient id="g4_51" x1="0.88" y1="0.82" x2="0.12" y2="0.18"><stop offset="0.2" stop-color="rgb(77,77,77)"/><stop offset="1" stop-color="rgb(100,100,100)"/></linearGradient><linearGradient id="g4_52" x1="0.02" y1="0.65" x2="0.98" y2="0.35"><stop offset="0.2" stop-color="rgb(74,74,74)"/><stop offset="1" stop-color="rgb(114,114,114)"/></linearGradient><linearGradient id="g4_53" x1="0.97" y1="0.68" x2="0.03" y2="0.32"><stop offset="0.2" stop-color="rgb(82,82,82)"/><stop offset="1" stop-color="rgb(99,99,99)"/></linearGradient><linearGradient id="g4_54" x1="0.86" y1="0.85" x2="0.14" y2="0.15"><stop offset="0.2" stop-color="rgb(65,65,65)"/><stop offset="1" stop-color="rgb(120,120,120)"/></linearGradient><linearGradient id="g4_55" x1="0.57" y1="1.00" x2="0.43" y2="0.00"><stop offset="0.2" stop-color="rgb(74,74,74)"/><stop offset="1" stop-color="rgb(118,118,118)"/></linearGradient><linearGradient id="g4_56" x1="1.00" y1="0.43" x2="0.00" y2="0.57"><stop offset="0.2" stop-color="rgb(69,69,69)"/><stop offset="1" stop-color="rgb(98,98,98)"/></linearGradient><linearGradient id="g4_57" x1="0.59" y1="0.99" x2="0.41" y2="0.01"><stop offset="0.2" stop-color="rgb(81,81,81)"/><stop offset="1" stop-color="rgb(99,99,99)"/></linearGradient><linearGradient id="g4_58" x1="0.96" y1="0.69" x2="0.04" y2="0.31"><stop offset="0.2" stop-color="rgb(80,80,80)"/><stop offset="1" stop-color="rgb(120,120,120)"/></linearGradient><linearGradient id="g4_59" x1="0.14" y1="0.85" x2="0.86" y2="0.15"><stop offset="0.2" stop-color="rgb(73,73,73)"/><stop offset="1" stop-color="rgb(104,104,104)"/></linearGradient><linearGradient id="g4_61" x1="0.22" y1="0.08" x2="0.78" y2="0.92"><stop offset="0.2" stop-color="rgb(68,68,68)"/><stop offset="1" stop-color="rgb(97,97,97)"/></linearGradient><linearGradient id="g4_62" x1="0.55" y1="1.00" x2="0.45" y2="0.00"><stop offset="0.2" stop-color="rgb(70,70,70)"/><stop offset="1" stop-color="rgb(118,118,118)"/></linearGradient><linearGradient id="g4_63" x1="0.01" y1="0.58" x2="0.99" y2="0.42"><stop offset="0.2" stop-color="rgb(66,66,66)"/><stop offset="1" stop-color="rgb(102,102,102)"/></linearGradient><linearGradient id="g4_64" x1="0.99" y1="0.42" x2="0.01" y2="0.58"><stop offset="0.2" stop-color="rgb(76,76,76)"/><stop offset="1" stop-color="rgb(113,113,113)"/></linearGradient><linearGradient id="g4_65" x1="0.91" y1="0.79" x2="0.09" y2="0.21"><stop offset="0.2" stop-color="rgb(81,81,81)"/><stop offset="1" stop-color="rgb(109,109,109)"/></linearGradient><linearGradient id="g4_66" x1="0.82" y1="0.11" x2="0.18" y2="0.89"><stop offset="0.2" stop-color="rgb(83,83,83)"/><stop offset="1" stop-color="rgb(110,110,110)"/></linearGradient><linearGradient id="g4_67" x1="0.01" y1="0.57" x2="0.99" y2="0.43"><stop offset="0.2" stop-color="rgb(81,81,81)"/><stop offset="1" stop-color="rgb(103,103,103)"/></linearGradient><linearGradient id="g4_68" x1="0.75" y1="0.07" x2="0.25" y2="0.93"><stop offset="0.2" stop-color="rgb(85,85,85)"/><stop offset="1" stop-color="rgb(111,111,111)"/></linearGradient><linearGradient id="g4_69" x1="0.33" y1="0.97" x2="0.67" y2="0.03"><stop offset="0.2" stop-color="rgb(78,78,78)"/><stop offset="1" stop-color="rgb(102,102,102)"/></linearGradient><linearGradient id="g4_70" x1="0.26" y1="0.06" x2="0.74" y2="0.94"><stop offset="0.2" stop-color="rgb(85,85,85)"/><stop offset="1" stop-color="rgb(116,116,116)"/></linearGradient><linearGradient id="g4_71" x1="0.93" y1="0.75" x2="0.07" y2="0.25"><stop offset="0.2" stop-color="rgb(72,72,72)"/><stop offset="1" stop-color="rgb(118,118,118)"/></linearGradient><linearGradient id="g4_72" x1="0.14" y1="0.15" x2="0.86" y2="0.85"><stop offset="0.2" stop-color="rgb(75,75,75)"/><stop offset="1" stop-color="rgb(109,109,109)"/></linearGradient><linearGradient id="g4_73" x1="0.40" y1="0.01" x2="0.60" y2="0.99"><stop offset="0.2" stop-color="rgb(80,80,80)"/><stop offset="1" stop-color="rgb(113,113,113)"/></linearGradient><linearGradient id="g4_74" x1="0.73" y1="0.94" x2="0.27" y2="0.06"><stop offset="0.2" stop-color="rgb(69,69,69)"/><stop offset="1" stop-color="rgb(105,105,105)"/></linearGradient><linearGradient id="g4_75" x1="0.96" y1="0.69" x2="0.04" y2="0.31"><stop offset="0.2" stop-color="rgb(83,83,83)"/><stop offset="1" stop-color="rgb(110,110,110)"/></linearGradient><linearGradient id="g4_76" x1="0.16" y1="0.13" x2="0.84" y2="0.87"><stop offset="0.2" stop-color="rgb(84,84,84)"/><stop offset="1" stop-color="rgb(101,101,101)"/></linearGradient><linearGradient id="g4_77" x1="0.32" y1="0.03" x2="0.68" y2="0.97"><stop offset="0.2" stop-color="rgb(73,73,73)"/><stop offset="1" stop-color="rgb(115,115,115)"/></linearGradient><linearGradient id="g4_78" x1="0.57" y1="1.00" x2="0.43" y2="0.00"><stop offset="0.2" stop-color="rgb(70,70,70)"/><stop offset="1" stop-color="rgb(118,118,118)"/></linearGradient><linearGradient id="g4_79" x1="0.56" y1="0.00" x2="0.44" y2="1.00"><stop offset="0.2" stop-color="rgb(82,82,82)"/><stop offset="1" stop-color="rgb(106,106,106)"/></linearGradient><linearGradient id="g4_80" x1="0.81" y1="0.89" x2="0.19" y2="0.11"><stop offset="0.2" stop-color="rgb(79,79,79)"/><stop offset="1" stop-color="rgb(109,109,109)"/></linearGradient><linearGradient id="g4_81" x1="0.85" y1="0.14" x2="0.15" y2="0.86"><stop offset="0.2" stop-color="rgb(80,80,80)"/><stop offset="1" stop-color="rgb(114,114,114)"/></linearGradient><linearGradient id="g4_82" x1="1.00" y1="0.43" x2="0.00" y2="0.57"><stop offset="0.2" stop-color="rgb(72,72,72)"/><stop offset="1" stop-color="rgb(94,94,94)"/></linearGradient><linearGradient id="g4_87" x1="0.12" y1="0.82" x2="0.88" y2="0.18"><stop offset="0.2" stop-color="rgb(78,78,78)"/><stop offset="1" stop-color="rgb(108,108,108)"/></linearGradient><linearGradient id="g4_89" x1="0.39" y1="0.01" x2="0.61" y2="0.99"><stop offset="0.2" stop-color="rgb(80,80,80)"/><stop offset="1" stop-color="rgb(105,105,105)"/></linearGradient><linearGradient id="g4_90" x1="0.70" y1="0.96" x2="0.30" y2="0.04"><stop offset="0.2" stop-color="rgb(83,83,83)"/><stop offset="1" stop-color="rgb(100,100,100)"/></linearGradient><linearGradient id="g4_92" x1="0.14" y1="0.16" x2="0.86" y2="0.84"><stop offset="0.2" stop-color="rgb(82,82,82)"/><stop offset="1" stop-color="rgb(103,103,103)"/></linearGradient><linearGradient id="g4_94" x1="0.05" y1="0.28" x2="0.95" y2="0.72"><stop offset="0.2" stop-color="rgb(69,69,69)"/><stop offset="1" stop-color="rgb(111,111,111)"/></linearGradient></defs>
<path d="M601.87 697.33 Q599.36 703.09 597.42 709.89 Q591.99 705.41 587 700.29 Q593.89 692.86 601.18 686.18 Q601.74 691.46 601.87 697.33 Z" fill="url(#g4_4)" stroke="rgb(167,167,167)" stroke-width="0.99"/>
<path d="M587 700.29 Q587.22 700.61 588.31 699.06" stroke="rgb(179,179,179)" stroke-width="0.6" fill="none" opacity="0.8"/>
<path d="M587.79 700.14 L600.84 687.16 L595.65 696.14 Z" fill="rgb(152,152,152)" opacity="0.75"/>
<path d="M620.31 664.61 Q616.52 645.33 611.54 632.62 Q606.67 661.31 601.18 686.18 Q602.81 690.2 601.87 697.33 Q605.91 704.53 610.82 706.81 Q612.06 700.54 614.11 701.6 Q617.61 683.19 620.31 664.61 Z" fill="url(#g4_5)" stroke="rgb(185,185,185)" stroke-width="1.08"/>
<path d="M620.31 664.61 Q618.42 669.15 614.26 672.6" stroke="rgb(161,161,161)" stroke-width="0.6" fill="none" opacity="0.8"/>
<path d="M619.97 664.49 Q621.87 685.04 624.32 704.61 Q622.39 704.19 621.02 707.32 Q617.31 706.17 614.11 701.6 Q617.41 683.49 620.31 664.61 Q620.16 662.65 619.97 664.49 Z" fill="url(#g4_6)" stroke="rgb(169,169,169)" stroke-width="0.95"/>
<path d="M620.93 705.81 L614.58 700.56 L618.9 695.54 Z" fill="rgb(166,166,166)" opacity="0.75"/>
<path d="M619.97 664.49 Q629.05 682.7 638.12 700.83 Q636.2 701.56 636.49 704.96 Q630.43 705.19 624.32 704.61 Q622.37 684.83 619.97 664.49 Z" fill="url(#g4_7)" stroke="rgb(165,165,165)" stroke-width="0.54"/>
<path d="M620.75 666.82 L637.45 700.26 L629.43 688.85 Z" fill="rgb(128,128,128)" opacity="0.75"/>
<path d="M654.6 711.7 Q659.77 705.23 665.53 701.29 Q663.95 692.06 664.28 680.48 Q656.36 690.47 648.86 702.27 Q652.07 706.57 654.6 711.7 Z" fill="url(#g4_9)" stroke="rgb(180,180,180)" stroke-width="0.61"/>
<path d="M664.28 680.48 Q664.58 691.2 665.53 701.29 Q667.83 701.53 668.96 707.11 Q673.15 704.3 677.42 702.34 Q678.81 668.28 681.61 631.08 Q672.76 659.54 664.28 680.48 Z" fill="url(#g4_10)" stroke="rgb(166,166,166)" stroke-width="0.97"/>
<path d="M548.27 724.12 Q518.62 717.41 490.11 710.61 Q519.89 710.28 546.68 708.69 Q547.78 715.21 551.42 721.55 Q551.18 723.39 548.27 724.12 Z" fill="url(#g4_12)" stroke="rgb(174,174,174)" stroke-width="1.11"/>
<path d="M550.04 721.13 L547.14 723.49 L541.04 719.14 Z" fill="rgb(132,132,132)" opacity="0.75"/>
<path d="M551.42 721.55 Q550 714.26 546.68 708.69 Q551.5 705.65 556.39 702.69 Q557.91 701.92 559.5 700.9 Q560.06 702.51 561.2 703.26 Q558.62 711.6 556.24 720.07 Q553.75 721.44 551.42 721.55 Z" fill="url(#g4_13)" stroke="rgb(188,188,188)" stroke-width="0.87"/>
<path d="M559.5 700.9 Q558.16 704.22 556.93 704.89" stroke="rgb(173,173,173)" stroke-width="0.6" fill="none" opacity="0.8"/>
<path d="M570.35 716.2 Q570.2 710.01 571.45 703.13 Q566.11 704.17 561.2 703.26 Q558.83 711.69 556.24 720.07 Q558.31 721.96 561.25 722.51 Q565.56 718.44 570.35 716.2 Z" fill="url(#g4_14)" stroke="rgb(189,189,189)" stroke-width="0.9"/>
<path d="M570.35 716.2 Q571.33 709.73 571.45 703.13 Q572.95 703.78 573.66 702.99 Q576.86 704.09 580.11 703.56 Q582.99 709.6 586.49 715.56 Q582.69 719.71 577.64 721.98 Q574.45 717.62 570.35 716.2 Z" fill="url(#g4_15)" stroke="rgb(189,189,189)" stroke-width="0.51"/>
<path d="M597.42 709.89 Q598.35 713.53 598.16 716.83 Q597.58 716.4 598.21 717 Q596.08 716.28 595.56 717.36 Q590.94 716.97 586.49 715.56 Q582.55 709.39 580.11 703.56 Q584.85 703.41 587 700.29 Q592.17 705.88 597.42 709.89 Z" fill="url(#g4_16)" stroke="rgb(169,169,169)" stroke-width="0.62"/>
<path d="M610.82 706.81 Q606.5 701.57 601.87 697.33 Q599.17 702.95 597.42 709.89 Q597.19 713.73 598.16 716.83 Q604.91 717.4 611.53 717.02 Q610 711.53 610.82 706.81 Z" fill="url(#g4_17)" stroke="rgb(178,178,178)" stroke-width="0.86"/>
<path d="M611.53 717.02 Q609.65 714.11 607.31 712.82" stroke="rgb(140,140,140)" stroke-width="0.6" fill="none" opacity="0.8"/>
<path d="M614.11 701.6 Q612.78 704.96 610.82 706.81 Q611.26 711.94 611.53 717.02 Q614.24 718.93 616.83 721.18 Q618.39 721.66 619.71 721.19 Q620.33 721.22 620.09 719.61 Q620.35 713.47 621.02 707.32 Q617.66 703.79 614.11 701.6 Z" fill="url(#g4_18)" stroke="rgb(165,165,165)" stroke-width="0.93"/>
<path d="M624.32 704.61 Q630.58 704.47 636.49 704.96 Q635.69 709.16 635.36 713.32 Q627.71 716.06 620.09 719.61 Q619.93 713.78 621.02 707.32 Q623.01 706.25 624.32 704.61 Z" fill="url(#g4_19)" stroke="rgb(177,177,177)" stroke-width="0.95"/>
<path d="M621.53 707.53 L624.57 705.04 L625.35 708.21 Z" fill="rgb(166,166,166)" opacity="0.75"/>
<path d="M636.49 704.96 Q636.28 709.2 635.36 713.32 Q637.11 714.02 637.66 715.28 Q643.83 716.65 649.89 718.7 Q653.06 717.56 656.5 716.64 Q655.92 714.29 654.6 711.7 Q651.43 707.13 648.86 702.27 Q643.42 701.02 638.12 700.83 Q637.7 703.3 636.49 704.96 Z" fill="url(#g4_20)" stroke="rgb(184,184,184)" stroke-width="0.48"/>
<path d="M649.48 718.04 L655.56 716.14 L648.43 713.63 Z" fill="rgb(112,112,112)" opacity="0.75"/>
<path d="M654.6 711.7 Q659.96 706.09 665.53 701.29 Q667.24 704.21 668.96 707.11 Q667.01 711.34 666.21 715.57 Q661.27 715.1 656.31 715.54 Q656.02 716.47 656.5 716.64 Q656.44 713.73 654.6 711.7 Z" fill="url(#g4_21)" stroke="rgb(198,198,198)" stroke-width="1"/>
<path d="M666.21 715.57 Q665.37 713.98 666 712.22" stroke="rgb(183,183,183)" stroke-width="0.6" fill="none" opacity="0.8"/>
<path d="M655.14 711.67 L665.2 702.09 L660.79 709.19 Z" fill="rgb(116,116,116)" opacity="0.75"/>
<path d="M668.96 707.11 Q667.62 711.33 666.21 715.57 Q668.93 716.47 670.63 718.98 Q675.06 713.48 680.14 708.77 Q678.15 706.07 677.42 702.34 Q673.11 705.59 668.96 707.11 Z" fill="url(#g4_22)" stroke="rgb(165,165,165)" stroke-width="0.48"/>
<path d="M666.21 715.57 Q669.96 713.93 671.92 712.07" stroke="rgb(186,186,186)" stroke-width="0.6" fill="none" opacity="0.8"/>
<path d="M669.26 707.39 L666.73 715.17 L670.43 710.9 Z" fill="rgb(136,136,136)" opacity="0.75"/>
<path d="M680.14 708.77 Q684.44 711.82 689.42 714.14 Q684.1 720.28 678.3 726.07 Q674.8 722.16 670.63 718.98 Q675.59 714.02 680.14 708.77 Z" fill="url(#g4_23)" stroke="rgb(187,187,187)" stroke-width="0.82"/>
<path d="M689.42 714.14 Q687.86 715.79 683.8 715.65" stroke="rgb(147,147,147)" stroke-width="0.6" fill="none" opacity="0.8"/>
<path d="M549.44 728.12 Q549.91 726.27 548.27 724.12 Q519.19 717.37 490.11 710.61 Q472.75 708.82 459.09 708.07 Q500.62 722.97 543.94 737.75 Q542.67 731.36 549.44 728.12 Z" fill="url(#g4_24)" stroke="rgb(197,197,197)" stroke-width="0.6"/>
<path d="M545.86 723.93 L492.35 711.5 L518.62 719.81 Z" fill="rgb(120,120,120)" opacity="0.75"/>
<path d="M559.16 736.92 Q561.91 732.64 566.58 730.45 Q563.73 726.47 561.25 722.51 Q558.84 721.12 556.24 720.07 Q553.73 720.56 551.42 721.55 Q550.2 723.03 548.27 724.12 Q549.93 726.14 549.44 728.12 Q554.24 732.74 559.16 736.92 Z" fill="url(#g4_25)" stroke="rgb(198,198,198)" stroke-width="0.82"/>
<path d="M549.96 727.97 L558.91 736.07 L555.28 729.01 Z" fill="rgb(125,125,125)" opacity="0.75"/>
<path d="M566.58 730.45 Q564.94 726.3 561.25 722.51 Q565.87 719.44 570.35 716.2 Q574.36 718.4 577.64 721.98 Q577.17 725.39 576.58 728.79 Q574.17 730.4 571.69 731.92 Q569.09 731.37 566.58 730.45 Z" fill="url(#g4_26)" stroke="rgb(190,190,190)" stroke-width="0.69"/>
<path d="M577.64 721.98 Q582.21 719.01 586.49 715.56 Q590.52 717.05 595.56 717.36 Q592.54 725.99 588.48 734.3 Q582.65 731.16 576.58 728.79 Q576.47 725.53 577.64 721.98 Z" fill="url(#g4_27)" stroke="rgb(183,183,183)" stroke-width="0.72"/>
<path d="M577.64 721.98 Q578.51 721.5 580.02 723.69" stroke="rgb(187,187,187)" stroke-width="0.6" fill="none" opacity="0.8"/>
<path d="M586.37 716.2 L594.71 717.86 L587.62 720.46 Z" fill="rgb(120,120,120)" opacity="0.75"/>
<path d="M598.21 717 Q599.29 725.86 602.17 733.38 Q598.3 735.32 594.62 737.54 Q591.75 736.65 588.55 736.63 Q588.05 735.93 588.48 734.3 Q591.99 725.79 595.56 717.36 Q596.57 718.83 598.21 717 Z" fill="url(#g4_28)" stroke="rgb(173,173,173)" stroke-width="0.49"/>
<path d="M595.48 718.32 L597.92 717.99 L595.6 724.01 Z" fill="rgb(157,157,157)" opacity="0.75"/>
<path d="M612.72 735.16 Q611.92 735.57 611.34 736.48 Q606.71 735.79 602.17 733.38 Q599.92 725.19 598.21 717 Q599.04 717.71 598.16 716.83 Q604.71 716.44 611.53 717.02 Q613.21 719.97 616.83 721.18 Q613.92 727.84 612.72 735.16 Z" fill="url(#g4_29)" stroke="rgb(197,197,197)" stroke-width="0.64"/>
<path d="M598.16 716.83 Q600.53 719.44 603.16 721.56" stroke="rgb(143,143,143)" stroke-width="0.6" fill="none" opacity="0.8"/>
<path d="M598.93 717.67 L598.89 717.51 L603.28 721.61 Z" fill="rgb(126,126,126)" opacity="0.75"/>
<path d="M629.63 729.42 Q624.61 725.38 619.71 721.19 Q618.75 722.35 616.83 721.18 Q615.39 728.25 612.72 735.16 Q620.79 737.33 628.96 738.4 Q629.48 734.03 629.63 729.42 Z" fill="url(#g4_30)" stroke="rgb(168,168,168)" stroke-width="0.87"/>
<path d="M635.36 713.32 Q627.61 716.23 620.09 719.61 Q621.41 720.51 619.71 721.19 Q625.4 724.73 629.63 729.42 Q633.13 728.02 637.23 727.9 Q636.63 721.54 637.66 715.28 Q635.48 715.37 635.36 713.32 Z" fill="url(#g4_31)" stroke="rgb(183,183,183)" stroke-width="0.56"/>
<path d="M649.89 718.7 Q646.8 726.94 643.75 735.2 Q640.77 730.31 637.23 727.9 Q638.15 721.99 637.66 715.28 Q643.76 717.09 649.89 718.7 Z" fill="url(#g4_32)" stroke="rgb(191,191,191)" stroke-width="1.04"/>
<path d="M656.5 716.64 Q656.33 716.33 656.31 715.54 Q658.78 724.76 662.19 733.5 Q657.67 735.72 654.09 739.4 Q649.59 738.42 645.51 735.99 Q645.87 734.39 643.75 735.2 Q647.33 727.03 649.89 718.7 Q653.1 719.38 656.5 716.64 Z" fill="url(#g4_33)" stroke="rgb(175,175,175)" stroke-width="0.98"/>
<path d="M645.51 735.99 Q647.84 735.82 647.95 732.25" stroke="rgb(165,165,165)" stroke-width="0.6" fill="none" opacity="0.8"/>
<path d="M656.19 717.54 L656.02 716.52 L654.28 722.68 Z" fill="rgb(151,151,151)" opacity="0.75"/>
<path d="M666.21 715.57 Q661.88 716.33 656.31 715.54 Q660.73 724.6 662.19 733.5 Q666.36 733.12 670.08 734.18 Q673.65 732.28 678.04 731.62 Q676.82 728.3 678.3 726.07 Q674.37 722.57 670.63 718.98 Q668.4 716.94 666.21 715.57 Z" fill="url(#g4_34)" stroke="rgb(187,187,187)" stroke-width="1.11"/>
<path d="M657.32 716.3 L662.72 732.82 L664.61 724.82 Z" fill="rgb(110,110,110)" opacity="0.75"/>
<path d="M559.16 736.92 Q554.61 731.96 549.44 728.12 Q546.62 732.86 543.94 737.75 Q546.62 741.02 547.27 745.54 Q551.92 744.41 556.49 742.41 Q556.86 739.44 559.16 736.92 Z" fill="url(#g4_37)" stroke="rgb(166,166,166)" stroke-width="0.78"/>
<path d="M559.16 736.92 Q563.09 734.26 566.58 730.45 Q569.1 731.27 571.69 731.92 Q571.22 738.51 571.94 744.73 Q569.97 745.95 567.63 746.69 Q565.88 746.79 564.29 749.08 Q561.26 744.81 556.49 742.41 Q558.59 739.73 559.16 736.92 Z" fill="url(#g4_38)" stroke="rgb(169,169,169)" stroke-width="0.91"/>
<path d="M571.69 731.92 Q573.67 729.88 576.58 728.79 Q582.71 731.08 588.48 734.3 Q587.23 735.69 588.55 736.63 Q586.23 740.07 585.91 744.64 Q579.03 744.15 571.94 744.73 Q571.85 738.32 571.69 731.92 Z" fill="url(#g4_39)" stroke="rgb(190,190,190)" stroke-width="0.79"/>
<path d="M585.48 744.02 L572.62 744.1 L579.82 740.29 Z" fill="rgb(127,127,127)" opacity="0.75"/>
<path d="M604.63 750.89 Q595.14 750.51 585.61 750.72 Q586.65 747.51 585.91 744.64 Q587.32 740.69 588.55 736.63 Q591.5 736.9 594.62 737.54 Q599.18 744.53 604.91 751.12 Q603.15 749.43 604.02 748.98 Q603.57 749.58 604.63 750.89 Z" fill="url(#g4_40)" stroke="rgb(184,184,184)" stroke-width="1.06"/>
<path d="M611.43 743.26 Q607.88 746.58 604.91 751.12 Q600.38 743.86 594.62 737.54 Q599.54 736.32 602.17 733.38 Q606.53 735.59 611.34 736.48 Q611.25 739.88 611.43 743.26 Z" fill="url(#g4_41)" stroke="rgb(168,168,168)" stroke-width="1.05"/>
<path d="M602.39 733.94 L610.82 736.79 L605.71 737.97 Z" fill="rgb(157,157,157)" opacity="0.75"/>
<path d="M628.96 738.4 Q628.76 743.15 630.13 748.1 Q628.52 749.21 627.66 750.97 Q619.47 747.58 611.43 743.26 Q612.38 740.11 611.34 736.48 Q611.32 735.29 612.72 735.16 Q620.89 736.23 628.96 738.4 Z" fill="url(#g4_42)" stroke="rgb(179,179,179)" stroke-width="1.1"/>
<path d="M629.63 729.42 Q633.62 729.17 637.23 727.9 Q640.65 731.31 643.75 735.2 Q643.94 735.74 645.51 735.99 Q642.41 740.54 640.95 746.01 Q635.63 746.27 630.13 748.1 Q629.31 743.45 628.96 738.4 Q630.37 734.41 629.63 729.42 Z" fill="url(#g4_43)" stroke="rgb(172,172,172)" stroke-width="0.69"/>
<path d="M658.69 745.24 Q655.53 742.72 654.09 739.4 Q649.84 737.04 645.51 735.99 Q642.53 740.48 640.95 746.01 Q642.48 749.83 644.89 753.12 Q648.41 754.33 652.1 753.97 Q655.27 749.52 658.69 745.24 Z" fill="url(#g4_44)" stroke="rgb(170,170,170)" stroke-width="1.08"/>
<path d="M658.69 745.24 Q656.67 742.3 654.09 739.4 Q658.51 736.84 662.19 733.5 Q666.21 733.62 670.08 734.18 Q669.9 741.76 668.6 749.34 Q666.72 748.13 666.12 749.3 Q662.53 746.48 658.69 745.24 Z" fill="url(#g4_45)" stroke="rgb(173,173,173)" stroke-width="1.04"/>
<path d="M670.08 734.18 Q669.06 738.1 667.36 739.84" stroke="rgb(167,167,167)" stroke-width="0.6" fill="none" opacity="0.8"/>
<path d="M678.04 731.62 Q679.47 731.73 680.94 731.69 Q680.91 740.88 682.41 749.81 Q680.16 750.18 678.98 753.08 Q674.13 750 668.6 749.34 Q669.47 741.76 670.08 734.18 Q674.05 732.85 678.04 731.62 Z" fill="url(#g4_46)" stroke="rgb(195,195,195)" stroke-width="0.49"/>
<path d="M678.98 753.08 Q680.69 750.64 679.29 746.91" stroke="rgb(148,148,148)" stroke-width="0.6" fill="none" opacity="0.8"/>
<path d="M556.49 742.41 Q560.19 745.91 564.29 749.08 Q560.24 756.12 557.22 763.87 Q553.31 760.16 549.4 760.2 Q548.02 753.41 545.03 747.25 Q546.13 746.38 547.27 745.54 Q551.94 744.33 556.49 742.41 Z" fill="url(#g4_49)" stroke="rgb(180,180,180)" stroke-width="1.02"/>
<path d="M547.75 746.01 L556.23 743.13 L552.67 748.13 Z" fill="rgb(164,164,164)" opacity="0.75"/>
<path d="M567.63 746.69 Q571.91 754.32 577.32 760.89 Q576.05 762.53 575.55 764.5 Q568.41 766.71 561.08 767.73 Q558.98 765.94 557.22 763.87 Q560.4 756.35 564.29 749.08 Q566.04 748.63 567.63 746.69 Z" fill="url(#g4_50)" stroke="rgb(172,172,172)" stroke-width="1.12"/>
<path d="M575.55 764.5 Q571.24 762.65 568.45 761.62" stroke="rgb(144,144,144)" stroke-width="0.6" fill="none" opacity="0.8"/>
<path d="M567.63 746.69 Q573.62 753.31 577.32 760.89 Q581.48 760.28 585.41 758.81 Q585.7 754.87 585.61 750.72 Q585.02 748.05 585.91 744.64 Q578.93 745.67 571.94 744.73 Q570.95 746.4 567.63 746.69 Z" fill="url(#g4_51)" stroke="rgb(166,166,166)" stroke-width="0.7"/>
<path d="M604.63 750.89 Q595.06 750.99 585.61 750.72 Q586.79 755.05 585.41 758.81 Q588.21 760.16 589.38 762.68 Q595.11 760.33 601.59 759.55 Q603.94 755.11 604.63 750.89 Z" fill="url(#g4_52)" stroke="rgb(192,192,192)" stroke-width="1.05"/>
<path d="M589.38 762.68 Q588.68 760.89 590.05 757.12" stroke="rgb(179,179,179)" stroke-width="0.6" fill="none" opacity="0.8"/>
<path d="M586.23 751.18 L586.04 758.63 L589.89 755.75 Z" fill="rgb(112,112,112)" opacity="0.75"/>
<path d="M605.34 763.48 Q604.14 760.85 601.59 759.55 Q603.27 755.3 604.63 750.89 Q604.06 749.32 604.02 748.98 Q610.43 753.8 617.31 758.03 Q614.19 760.66 612.48 763.95 Q609.03 764.27 605.34 763.48 Z" fill="url(#g4_53)" stroke="rgb(185,185,185)" stroke-width="0.63"/>
<path d="M604.02 748.98 Q603 752.6 604.53 754.14" stroke="rgb(188,188,188)" stroke-width="0.6" fill="none" opacity="0.8"/>
<path d="M604.02 748.98 Q604.65 750.07 604.91 751.12 Q608.01 747.1 611.43 743.26 Q619.88 746.79 627.66 750.97 Q628.01 752.55 626.94 753.97 Q621.35 755.43 617.31 758.03 Q610.78 753.45 604.02 748.98 Z" fill="url(#g4_54)" stroke="rgb(182,182,182)" stroke-width="0.61"/>
<path d="M642.49 763.55 Q636.39 761.87 630.91 763.32 Q629.77 758 626.94 753.97 Q627.4 752.49 627.66 750.97 Q629.58 750.06 630.13 748.1 Q635.43 748.17 640.95 746.01 Q642 750.08 644.89 753.12 Q643.91 758.43 642.49 763.55 Z" fill="url(#g4_55)" stroke="rgb(183,183,183)" stroke-width="0.88"/>
<path d="M630.13 748.1 Q632.19 748.32 633.53 752.37" stroke="rgb(163,163,163)" stroke-width="0.6" fill="none" opacity="0.8"/>
<path d="M628.23 751.22 L630.51 748.59 L632.23 752.12 Z" fill="rgb(150,150,150)" opacity="0.75"/>
<path d="M647 766.37 Q645.68 764.5 642.49 763.55 Q642.81 757.92 644.89 753.12 Q648.44 753.36 652.1 753.97 Q655.65 758.55 659.6 762.83 Q657.62 763.59 658.02 765.01 Q655.86 766.19 654.17 767.81 Q650.59 767.03 647 766.37 Z" fill="url(#g4_56)" stroke="rgb(179,179,179)" stroke-width="0.86"/>
<path d="M658.93 762.74 L657.47 764.75 L654.54 762.74 Z" fill="rgb(127,127,127)" opacity="0.75"/>
<path d="M659.6 762.83 Q656.44 757.81 652.1 753.97 Q655.69 749.92 658.69 745.24 Q662.46 747.12 666.12 749.3 Q663.66 754.84 662.58 760.53 Q660.95 760.86 659.6 762.83 Z" fill="url(#g4_57)" stroke="rgb(191,191,191)" stroke-width="0.64"/>
<path d="M652.1 753.97 Q655.42 755.62 655.1 755.29" stroke="rgb(151,151,151)" stroke-width="0.6" fill="none" opacity="0.8"/>
<path d="M662.58 760.53 Q669.33 760.72 675.89 761.28 Q676.82 760.11 678.82 759.91 Q678.08 756.38 678.98 753.08 Q673.58 751.68 668.6 749.34 Q667.83 749.97 666.12 749.3 Q663.53 754.85 662.58 760.53 Z" fill="url(#g4_58)" stroke="rgb(186,186,186)" stroke-width="0.52"/>
<path d="M678.82 759.91 Q676.35 760 674.14 758.9" stroke="rgb(143,143,143)" stroke-width="0.6" fill="none" opacity="0.8"/>
<path d="M678.41 753.28 L668.86 749.84 L672.69 753.65 Z" fill="rgb(145,145,145)" opacity="0.75"/>
<path d="M755.15 760.76 Q718.1 755.41 682.41 749.81 Q681.9 751.95 678.98 753.08 Q676.91 756.24 678.82 759.91 Q689.31 764.72 696.97 771.32 Q728.83 766.75 755.15 760.76 Z" fill="url(#g4_59)" stroke="rgb(175,175,175)" stroke-width="0.89"/>
<path d="M678.82 759.91 Q680.69 761.47 685.58 762" stroke="rgb(180,180,180)" stroke-width="0.6" fill="none" opacity="0.8"/>
<path d="M680.39 759.83 L697.09 770.33 L693.81 761.9 Z" fill="rgb(113,113,113)" opacity="0.75"/>
<path d="M561.2 768.17 Q555.28 772.29 550.23 778.07 Q548.67 777.18 545.87 778.67 Q546.88 770.37 547.81 762.1 Q549.28 762.2 549.4 760.2 Q553.31 762.12 557.22 763.87 Q559.29 765.74 561.08 767.73 Q559.93 768.02 561.2 768.17 Z" fill="url(#g4_61)" stroke="rgb(165,165,165)" stroke-width="0.96"/>
<path d="M577.75 780.62 Q569.88 776.22 562 772.78 Q562.01 770.55 561.2 768.17 Q561.74 768.22 561.08 767.73 Q568.24 765.86 575.55 764.5 Q579.33 770.97 581.92 777.57 Q580.73 779.74 577.75 780.62 Z" fill="url(#g4_62)" stroke="rgb(185,185,185)" stroke-width="1.12"/>
<path d="M585.41 758.81 Q581.73 761.24 577.32 760.89 Q576.54 762.78 575.55 764.5 Q578.75 771.02 581.92 777.57 Q583.33 777.75 584.73 778.13 Q587.94 777.2 590.76 775.48 Q589.46 769.01 589.38 762.68 Q586.78 761.95 585.41 758.81 Z" fill="url(#g4_63)" stroke="rgb(174,174,174)" stroke-width="0.51"/>
<path d="M581.92 777.57 Q583.68 773.27 585.57 771.49" stroke="rgb(170,170,170)" stroke-width="0.6" fill="none" opacity="0.8"/>
<path d="M602.36 774.91 Q600.33 777.65 597.84 778.8 Q593.93 777.97 590.76 775.48 Q589.88 769.08 589.38 762.68 Q595.81 762.21 601.59 759.55 Q603.4 761.6 605.34 763.48 Q604.22 769.2 602.36 774.91 Z" fill="url(#g4_64)" stroke="rgb(169,169,169)" stroke-width="1.11"/>
<path d="M620.01 773.87 Q615.33 769.23 612.48 763.95 Q608.81 763.3 605.34 763.48 Q604.73 769.42 602.36 774.91 Q607.96 775.96 612.86 778.35 Q615.41 775.19 620.01 773.87 Z" fill="url(#g4_65)" stroke="rgb(180,180,180)" stroke-width="0.87"/>
<path d="M602.36 774.91 Q605.01 775.19 609.72 775.31" stroke="rgb(161,161,161)" stroke-width="0.6" fill="none" opacity="0.8"/>
<path d="M620.01 773.87 Q622.77 772.42 625.55 772.53 Q625.13 771.59 625.53 772.68 Q628.57 768.16 630.91 763.32 Q628.22 759.41 626.94 753.97 Q622.2 757.27 617.31 758.03 Q614.09 760.53 612.48 763.95 Q615.52 769.3 620.01 773.87 Z" fill="url(#g4_66)" stroke="rgb(198,198,198)" stroke-width="0.9"/>
<path d="M647 766.37 Q644.42 765.24 642.49 763.55 Q636.75 763.62 630.91 763.32 Q628.77 768.12 625.53 772.68 Q633.51 775.62 642.5 777.49 Q642.51 777.5 642.86 778.14 Q644.31 772.06 647 766.37 Z" fill="url(#g4_67)" stroke="rgb(183,183,183)" stroke-width="1"/>
<path d="M647 766.37 Q650.67 767.79 654.17 767.81 Q654.93 772.6 656.56 777.02 Q656.98 779.43 656.61 781.07 Q649.59 780.05 642.86 778.14 Q644.54 772.15 647 766.37 Z" fill="url(#g4_68)" stroke="rgb(165,165,165)" stroke-width="0.67"/>
<path d="M654.17 767.81 Q655.35 769.22 654.01 767.6" stroke="rgb(153,153,153)" stroke-width="0.6" fill="none" opacity="0.8"/>
<path d="M653.96 768.31 L656.15 776.78 L653.17 773.35 Z" fill="rgb(152,152,152)" opacity="0.75"/>
<path d="M654.17 767.81 Q656.22 766.54 658.02 765.01 Q664.21 768.71 671.18 771.66 Q666.96 774.28 664.95 777.8 Q660.77 776.97 656.56 777.02 Q656.31 772.32 654.17 767.81 Z" fill="url(#g4_69)" stroke="rgb(170,170,170)" stroke-width="0.49"/>
<path d="M664.63 777.33 L656.91 776.6 L660.88 774.3 Z" fill="rgb(114,114,114)" opacity="0.75"/>
<path d="M659.6 762.83 Q659.43 764.04 658.02 765.01 Q664.45 768.51 671.18 771.66 Q673.14 772.34 674.23 772.08 Q674.63 766.62 675.89 761.28 Q669.44 760.5 662.58 760.53 Q661.77 762.13 659.6 762.83 Z" fill="url(#g4_70)" stroke="rgb(176,176,176)" stroke-width="1.08"/>
<path d="M696.97 771.32 Q687.64 765.7 678.82 759.91 Q676.89 759.76 675.89 761.28 Q675.58 766.77 674.23 772.08 Q678.26 772.31 680.97 774.44 Q688.47 772.55 696.97 771.32 Z" fill="url(#g4_71)" stroke="rgb(167,167,167)" stroke-width="0.47"/>
<path d="M550.23 778.07 Q548.87 777.91 545.87 778.67 Q525.66 784.24 502.27 789.93 Q528.75 789.15 555.19 788.39 Q551.8 783.26 550.23 778.07 Z" fill="url(#g4_72)" stroke="rgb(168,168,168)" stroke-width="0.93"/>
<path d="M505.16 789.43 L553.84 788.02 L534.14 786.14 Z" fill="rgb(123,123,123)" opacity="0.75"/>
<path d="M561.2 768.17 Q555.97 773.86 550.23 778.07 Q553.09 783.24 555.19 788.39 Q556.93 789.94 558.48 792.06 Q560.55 791.36 562.88 792.34 Q563.05 790.38 564.82 791.42 Q563.07 782.2 562 772.78 Q561.34 771.9 561.2 768.17 Z" fill="url(#g4_73)" stroke="rgb(166,166,166)" stroke-width="0.83"/>
<path d="M562 772.78 Q562.13 775.35 561.73 777.24" stroke="rgb(188,188,188)" stroke-width="0.6" fill="none" opacity="0.8"/>
<path d="M577.75 780.62 Q571.92 785.38 566.78 790.12 Q566.05 790.47 564.9 792.54 Q564.88 791.92 564.82 791.42 Q563.53 782.21 562 772.78 Q570.17 775.73 577.75 780.62 Z" fill="url(#g4_74)" stroke="rgb(173,173,173)" stroke-width="0.95"/>
<path d="M585.37 793.79 Q584.34 785.98 584.73 778.13 Q583.46 777.51 581.92 777.57 Q579.85 779.48 577.75 780.62 Q571.82 785.33 566.78 790.12 Q575.32 793.5 584.12 796.46 Q584.76 795.16 585.37 793.79 Z" fill="url(#g4_75)" stroke="rgb(174,174,174)" stroke-width="0.79"/>
<path d="M585.37 793.79 Q584.37 786.03 584.73 778.13 Q588.4 777.75 590.76 775.48 Q594.33 776.87 597.84 778.8 Q599.61 785.29 601.93 791.79 Q600.68 791.8 600.44 792.75 Q592.89 793.39 585.37 793.79 Z" fill="url(#g4_76)" stroke="rgb(191,191,191)" stroke-width="0.64"/>
<path d="M612.86 778.35 Q613.81 784.8 613.01 790.86 Q607.45 791.23 601.93 791.79 Q599.48 785.46 597.84 778.8 Q600.22 776.98 602.36 774.91 Q607.72 776.28 612.86 778.35 Z" fill="url(#g4_77)" stroke="rgb(171,171,171)" stroke-width="1.03"/>
<path d="M597.84 778.8 Q598.72 779.51 601.85 779.54" stroke="rgb(142,142,142)" stroke-width="0.6" fill="none" opacity="0.8"/>
<path d="M625.16 787.83 Q625.85 780 625.55 772.53 Q622.51 773.82 620.01 773.87 Q616.29 775.67 612.86 778.35 Q612.44 784.76 613.01 790.86 Q614.09 791.75 615 792.97 Q619.99 789.94 625.16 787.83 Z" fill="url(#g4_78)" stroke="rgb(183,183,183)" stroke-width="0.84"/>
<path d="M632.09 789.96 Q629.01 788.38 625.16 787.83 Q624.94 780.04 625.55 772.53 Q624.92 771.77 625.53 772.68 Q634.06 774.62 642.5 777.49 Q642.47 783.34 642.13 789.18 Q640.17 789.38 639.22 790.51 Q635.59 790.05 632.09 789.96 Z" fill="url(#g4_79)" stroke="rgb(174,174,174)" stroke-width="0.99"/>
<path d="M641.75 777.93 L641.41 788.67 L637.19 783.08 Z" fill="rgb(114,114,114)" opacity="0.75"/>
<path d="M642.86 778.14 Q643 778.11 642.5 777.49 Q641.89 783.39 642.13 789.18 Q648.55 787.56 655.14 787.12 Q656.09 784.13 656.61 781.07 Q649.72 779.62 642.86 778.14 Z" fill="url(#g4_80)" stroke="rgb(197,197,197)" stroke-width="1.01"/>
<path d="M642.13 789.18 Q640.67 787.62 642.67 783.62" stroke="rgb(159,159,159)" stroke-width="0.6" fill="none" opacity="0.8"/>
<path d="M656.56 777.02 Q660.79 778.71 664.95 777.8 Q666.76 784.18 669.65 790.27 Q667.32 792.72 663.93 794.01 Q661.91 792.39 660.16 792.63 Q657.45 790.12 655.14 787.12 Q656.79 784.38 656.61 781.07 Q656.66 779.16 656.56 777.02 Z" fill="url(#g4_81)" stroke="rgb(173,173,173)" stroke-width="0.64"/>
<path d="M655.6 787 L656.96 781.44 L658.74 784.99 Z" fill="rgb(122,122,122)" opacity="0.75"/>
<path d="M664.95 777.8 Q667.5 783.88 669.65 790.27 Q674.66 788.11 680.03 788.75 Q680.47 781.58 680.97 774.44 Q677.67 773.17 674.23 772.08 Q672.66 771.42 671.18 771.66 Q668.79 775.32 664.95 777.8 Z" fill="url(#g4_82)" stroke="rgb(189,189,189)" stroke-width="0.79"/>
<path d="M671.37 772.26 L665.63 777.91 L671.11 777.22 Z" fill="rgb(115,115,115)" opacity="0.75"/>
<path d="M584.12 796.46 Q575.43 793.61 566.78 790.12 Q566.08 791.53 564.9 792.54 Q574.47 805.05 584.08 817.08 Q584.17 806.83 584.12 796.46 Z" fill="url(#g4_87)" stroke="rgb(180,180,180)" stroke-width="1.02"/>
<path d="M565.71 793.06 L583.35 815.63 L574.76 801.58 Z" fill="rgb(147,147,147)" opacity="0.75"/>
<path d="M614.17 909.54 Q607.01 854.3 600.44 792.75 Q601.54 793.13 601.93 791.79 Q607.99 795.21 613.01 790.86 Q614.08 791.38 615 792.97 Q616.54 804.06 619.46 812.54 Q615.81 853.54 614.17 909.54 Z" fill="url(#g4_89)" stroke="rgb(175,175,175)" stroke-width="1.09"/>
<path d="M619.46 812.54 Q616.85 803.22 615 792.97 Q620.05 790.35 625.16 787.83 Q627.87 789.82 632.09 789.96 Q625.3 800.34 619.46 812.54 Z" fill="url(#g4_90)" stroke="rgb(196,196,196)" stroke-width="0.54"/>
<path d="M615 792.97 Q616.62 794.11 622.08 795.53" stroke="rgb(150,150,150)" stroke-width="0.6" fill="none" opacity="0.8"/>
<path d="M615.63 793.2 L624.98 788.47 L621.67 793.44 Z" fill="rgb(162,162,162)" opacity="0.75"/>
<path d="M641.88 811.14 Q651.07 802.01 660.16 792.63 Q658.07 789.69 655.14 787.12 Q648.71 787.61 642.13 789.18 Q640.94 790.01 639.22 790.51 Q640.63 800.75 641.88 811.14 Z" fill="url(#g4_92)" stroke="rgb(166,166,166)" stroke-width="1.12"/>
<path d="M659.16 792.75 L654.54 787.68 L652.08 792.25 Z" fill="rgb(126,126,126)" opacity="0.75"/>
<path d="M669.65 790.27 Q675.06 788.64 680.03 788.75 Q679.53 791.13 680.17 792 Q672.83 815.36 665.64 840.99 Q664.32 818.57 663.93 794.01 Q666.46 791.55 669.65 790.27 Z" fill="url(#g4_94)" stroke="rgb(195,195,195)" stroke-width="0.57"/>
<path d="M666.14 837.8 L664.56 794.58 L668.76 808.37 Z" fill="rgb(130,130,130)" opacity="0.75"/>
</g>
<text x="71.8" y="804.3" font-family="'Liberation Sans', sans-serif" font-size="11.6" font-weight="bold" text-anchor="middle" fill="#000">HAP</text>
<text x="207.3" y="804.3" font-family="'Liberation Sans', sans-serif" font-size="11.6" font-weight="bold" text-anchor="middle" fill="#000">HAPP1</text>
<text x="342.6" y="804.3" font-family="'Liberation Sans', sans-serif" font-size="11.6" font-weight="bold" text-anchor="middle" fill="#000">HAPP2</text>
<text x="478.1" y="804.3" font-family="'Liberation Sans', sans-serif" font-size="11.6" font-weight="bold" text-anchor="middle" fill="#000">HAPP3</text>
<text x="613.2" y="804.3" font-family="'Liberation Sans', sans-serif" font-size="11.6" font-weight="bold" text-anchor="middle" fill="#000">HAPP4</text>
<rect x="655.5" y="785.2" width="19.5" height="0.9" fill="#fff"/>
<rect x="655.5" y="783.8" width="0.7" height="2.3" fill="#fff"/>
<rect x="674.3" y="783.8" width="0.7" height="2.3" fill="#fff"/>
<text x="664.6" y="783.6" font-family="'Liberation Sans', sans-serif" font-size="4.6" font-weight="normal" text-anchor="middle" fill="#fff">60&#956;m</text>
</svg>
</body></html>
